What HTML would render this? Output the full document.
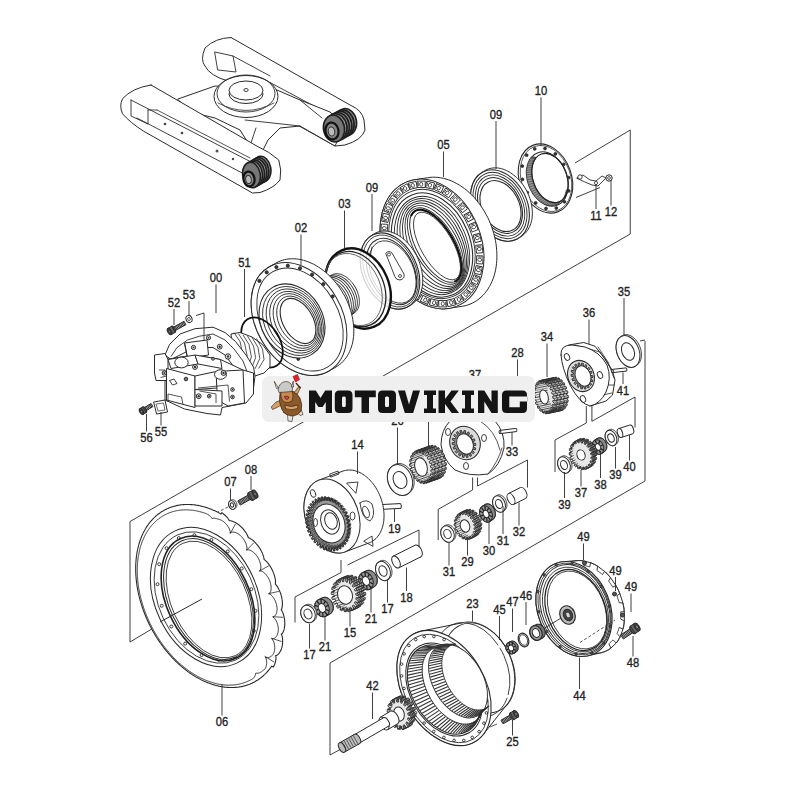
<!DOCTYPE html>
<html><head><meta charset="utf-8"><style>
html,body{margin:0;padding:0;background:#fff;}
body{width:800px;height:800px;overflow:hidden;position:relative;}
svg{position:absolute;left:0;top:0;}
text{font-family:"Liberation Sans",sans-serif;fill:#222;stroke:#222;stroke-width:0.35px;}
.ban{position:absolute;left:262px;top:376px;width:273px;height:45.5px;border-radius:7px;background:#efefef;}
.bt{position:absolute;left:308px;top:381px;font-family:"Liberation Sans",sans-serif;font-weight:bold;font-size:31.5px;line-height:36px;color:#000;letter-spacing:1.2px;-webkit-text-stroke:1.6px #000;white-space:nowrap;}
</style></head><body>
<svg width="800" height="800" viewBox="0 0 800 800">
<line x1="630.25" y1="234" x2="130" y2="521.5" stroke="#2a2a2a" stroke-width="0.9"/>
<line x1="130" y1="521.5" x2="130" y2="642" stroke="#2a2a2a" stroke-width="0.9"/>
<line x1="130" y1="642" x2="202" y2="599" stroke="#2a2a2a" stroke-width="0.9"/>
<line x1="575" y1="163" x2="630.25" y2="130" stroke="#2a2a2a" stroke-width="0.9"/>
<line x1="630.25" y1="130" x2="630.25" y2="234" stroke="#2a2a2a" stroke-width="0.9"/>
<line x1="645" y1="341" x2="645" y2="481" stroke="#2a2a2a" stroke-width="0.9"/>
<line x1="640" y1="341" x2="645" y2="340" stroke="#2a2a2a" stroke-width="0.9"/>
<line x1="645" y1="481" x2="330" y2="663" stroke="#2a2a2a" stroke-width="0.9"/>
<line x1="330" y1="663" x2="330" y2="755" stroke="#2a2a2a" stroke-width="0.9"/>
<line x1="330" y1="755" x2="341" y2="749" stroke="#2a2a2a" stroke-width="0.9"/>
<line x1="586.3" y1="406" x2="586.3" y2="423" stroke="#2a2a2a" stroke-width="0.9"/>
<line x1="586.3" y1="423" x2="555" y2="440" stroke="#2a2a2a" stroke-width="0.9"/>
<line x1="555" y1="440" x2="555" y2="472" stroke="#2a2a2a" stroke-width="0.9"/>
<line x1="591.9" y1="406" x2="591.9" y2="421.3" stroke="#2a2a2a" stroke-width="0.9"/>
<line x1="591.9" y1="421.3" x2="635" y2="397" stroke="#2a2a2a" stroke-width="0.9"/>
<line x1="635" y1="397" x2="635" y2="427.5" stroke="#2a2a2a" stroke-width="0.9"/>
<line x1="472.6" y1="477.5" x2="472.6" y2="490" stroke="#2a2a2a" stroke-width="0.9"/>
<line x1="472.6" y1="490" x2="438.2" y2="509.3" stroke="#2a2a2a" stroke-width="0.9"/>
<line x1="438.2" y1="509.3" x2="438.2" y2="540" stroke="#2a2a2a" stroke-width="0.9"/>
<line x1="477.5" y1="477.5" x2="477.5" y2="486" stroke="#2a2a2a" stroke-width="0.9"/>
<line x1="477.5" y1="486" x2="527.5" y2="460" stroke="#2a2a2a" stroke-width="0.9"/>
<line x1="527.5" y1="460" x2="527.5" y2="487.5" stroke="#2a2a2a" stroke-width="0.9"/>
<line x1="341" y1="560" x2="341" y2="572.5" stroke="#2a2a2a" stroke-width="0.9"/>
<line x1="341" y1="572.5" x2="295" y2="597" stroke="#2a2a2a" stroke-width="0.9"/>
<line x1="295" y1="597" x2="295" y2="622.5" stroke="#2a2a2a" stroke-width="0.9"/>
<line x1="347.5" y1="565" x2="419" y2="530" stroke="#2a2a2a" stroke-width="0.9"/>
<line x1="419" y1="530" x2="419" y2="550" stroke="#2a2a2a" stroke-width="0.9"/>
<line x1="576" y1="197.5" x2="600" y2="187.5" stroke="#2a2a2a" stroke-width="0.9"/>
<path d="M231,37.5 L350,105 Q362,110 364,120 L365,130 Q362,140 345,145 L335,146 L292,122 M231,37.5 Q215,38 205,48 Q200,60 205,66 Q210,76 228,81" fill="#fff" stroke="#2a2a2a" stroke-width="1" stroke-linejoin="round" stroke-linecap="round"/>
<path d="M215,52 L233,56 L236,72 L218,70 Z M233,56 L270,76" fill="none" stroke="#2a2a2a" stroke-width="0.9" stroke-linejoin="round" stroke-linecap="round"/>
<path d="M270,82.5 L329,114" fill="none" stroke="#2a2a2a" stroke-width="0.9" stroke-linejoin="round" stroke-linecap="round"/>
<path d="M178,99 L215,86 L277,90 L300,100 L330,112 L345,125 L335,146 L300,126 L280,128 L268,140 L262,152 L250,146 L240,130 L215,118 L190,112 Z" fill="#fff" stroke="#2a2a2a" stroke-width="1" stroke-linejoin="round" stroke-linecap="round"/>
<path d="M245,120 L300,126 M250,146 L256,128 M300,100 L322,118" fill="none" stroke="#2a2a2a" stroke-width="0.9" stroke-linejoin="round" stroke-linecap="round"/>
<ellipse cx="246.0" cy="96.5" rx="32.0" ry="21.0" transform="rotate(0 246.0 96.5)" fill="#fff" stroke="#2a2a2a" stroke-width="1"/>
<ellipse cx="246.0" cy="93.5" rx="29.0" ry="18.5" transform="rotate(0 246.0 93.5)" fill="none" stroke="#2a2a2a" stroke-width="0.9"/>
<path d="M218,103 Q246,118 274,103" fill="none" stroke="#2a2a2a" stroke-width="0.8" stroke-linejoin="round" stroke-linecap="round"/>
<ellipse cx="246.0" cy="94.0" rx="17.0" ry="9.5" transform="rotate(0 246.0 94.0)" fill="#fff" stroke="#2a2a2a" stroke-width="1"/>
<ellipse cx="246.0" cy="90.5" rx="17.0" ry="9.5" transform="rotate(0 246.0 90.5)" fill="#fff" stroke="#2a2a2a" stroke-width="1"/>
<ellipse cx="246" cy="90" rx="2.2" ry="1.5" fill="none" stroke="#2a2a2a" stroke-width="0.9"/>
<ellipse cx="346.0" cy="122.0" rx="10.5" ry="13.5" transform="rotate(-10 346.0 122.0)" fill="#999" stroke="#1e1e1e" stroke-width="1.6"/>
<ellipse cx="343.6" cy="123.3" rx="10.5" ry="13.5" transform="rotate(-10 343.6 123.3)" fill="#777" stroke="#1e1e1e" stroke-width="1.6"/>
<ellipse cx="341.2" cy="124.6" rx="10.5" ry="13.5" transform="rotate(-10 341.2 124.6)" fill="#999" stroke="#1e1e1e" stroke-width="1.6"/>
<ellipse cx="338.8" cy="125.9" rx="10.5" ry="13.5" transform="rotate(-10 338.8 125.9)" fill="#777" stroke="#1e1e1e" stroke-width="1.6"/>
<ellipse cx="336.4" cy="127.2" rx="10.5" ry="13.5" transform="rotate(-10 336.4 127.2)" fill="#999" stroke="#1e1e1e" stroke-width="1.6"/>
<ellipse cx="334.0" cy="128.5" rx="10.5" ry="13.5" transform="rotate(-10 334.0 128.5)" fill="#777" stroke="#1e1e1e" stroke-width="1.6"/>
<ellipse cx="332.0" cy="131.0" rx="6.5" ry="8.5" transform="rotate(-10 332.0 131.0)" fill="#888" stroke="#111" stroke-width="2.2"/>
<ellipse cx="331.5" cy="131.5" rx="3.2" ry="4.5" transform="rotate(-10 331.5 131.5)" fill="#bbb" stroke="#333" stroke-width="1"/>
<path d="M151,85 L256,145.6 Q270,152 278.75,160 Q282,170 280,180 Q274,188 260,192.5 L252.5,193 L143.75,131.25 Q130,122.5 122.5,113.75 Q119,106 122.5,98.75 Q132,88 151,85 Z" fill="#fff" stroke="#2a2a2a" stroke-width="1" stroke-linejoin="round" stroke-linecap="round"/>
<path d="M131,100 L253,163 M137,118 L248,176 M131,100 L131,116 L148,124 L148,110" fill="none" stroke="#2a2a2a" stroke-width="0.9" stroke-linejoin="round" stroke-linecap="round"/>
<path d="M148,110 L157,110 M157,110 L250,158" fill="none" stroke="#2a2a2a" stroke-width="0.8" stroke-linejoin="round" stroke-linecap="round"/>
<circle cx="165" cy="124" r="1.3" fill="#444"/><circle cx="182" cy="133" r="1.3" fill="#444"/><circle cx="217" cy="151" r="1.5" fill="#555"/><circle cx="233" cy="159" r="1.2" fill="#444"/>
<ellipse cx="262.0" cy="169.0" rx="8.8" ry="12.8" transform="rotate(-10 262.0 169.0)" fill="#999" stroke="#1e1e1e" stroke-width="1.6"/>
<ellipse cx="259.9" cy="170.2" rx="8.8" ry="12.8" transform="rotate(-10 259.9 170.2)" fill="#777" stroke="#1e1e1e" stroke-width="1.6"/>
<ellipse cx="257.8" cy="171.4" rx="8.8" ry="12.8" transform="rotate(-10 257.8 171.4)" fill="#999" stroke="#1e1e1e" stroke-width="1.6"/>
<ellipse cx="255.7" cy="172.6" rx="8.8" ry="12.8" transform="rotate(-10 255.7 172.6)" fill="#777" stroke="#1e1e1e" stroke-width="1.6"/>
<ellipse cx="253.6" cy="173.8" rx="8.8" ry="12.8" transform="rotate(-10 253.6 173.8)" fill="#999" stroke="#1e1e1e" stroke-width="1.6"/>
<ellipse cx="251.5" cy="175.0" rx="8.8" ry="12.8" transform="rotate(-10 251.5 175.0)" fill="#777" stroke="#1e1e1e" stroke-width="1.6"/>
<ellipse cx="249.0" cy="179.0" rx="5.5" ry="7.5" transform="rotate(-10 249.0 179.0)" fill="#888" stroke="#111" stroke-width="2.2"/>
<ellipse cx="248.5" cy="179.5" rx="2.8" ry="4.0" transform="rotate(-10 248.5 179.5)" fill="#bbb" stroke="#333" stroke-width="1"/>
<ellipse cx="545.5" cy="178.5" rx="26.0" ry="35.5" transform="rotate(-20 545.5 178.5)" fill="#fff" stroke="#2a2a2a" stroke-width="1.1"/>
<ellipse cx="546.0" cy="178.5" rx="24.5" ry="34.0" transform="rotate(-20 546.0 178.5)" fill="none" stroke="#2a2a2a" stroke-width="0.7"/>
<ellipse cx="547.5" cy="179.0" rx="19.5" ry="28.0" transform="rotate(-20 547.5 179.0)" fill="#fff" stroke="#2a2a2a" stroke-width="1"/>
<polygon points="566.2,190.6 566.0,191.7 565.7,192.8 565.5,193.8 565.1,194.8 564.7,195.8 564.3,196.7 563.9,197.6 563.4,198.5 562.9,199.3 562.3,200.0 561.7,200.8 561.1,201.4 560.4,202.1 559.7,202.7 559.0,203.2 558.3,203.7 557.5,204.1 556.8,204.5 555.9,204.8 555.1,205.1 554.3,205.3 553.4,205.5 552.5,205.6 551.6,205.6 550.7,205.6 549.8,205.6 548.9,205.5 548.0,205.3 547.1,205.1 546.2,204.8 545.2,204.4 544.3,204.1 543.4,203.6 542.5,203.1 541.6,202.6 540.7,202.0 539.8,201.3 539.0,200.7 538.1,199.9 537.3,199.1 536.5,198.3 535.7,197.5 534.9,196.6 534.2,195.6 533.4,194.7 532.7,193.7 532.1,192.6 531.5,191.6 530.9,190.5 530.3,189.4 529.8,188.2 529.3,187.1 528.8,185.9 528.4,184.7 528.0,183.5 527.6,182.3 527.3,181.1 527.1,179.9 526.8,178.6 526.6,177.4 526.5,176.2 526.4,175.0 526.3,173.8 526.3,172.6 526.3,171.4 526.4,170.3 526.5,169.1 526.7,168.0 526.9,166.9 527.1,165.8 527.4,164.8 527.7,163.8 528.0,162.8 528.4,161.8 528.9,160.9 529.3,160.0 529.8,159.2 530.4,158.4 530.9,157.6 531.6,156.9 536.3,157.5 535.8,158.1 535.3,158.8 534.8,159.5 534.4,160.3 534.0,161.1 533.6,161.9 533.2,162.8 532.9,163.7 532.7,164.7 532.4,165.6 532.2,166.6 532.1,167.6 531.9,168.7 531.9,169.7 531.8,170.8 531.8,171.9 531.8,173.0 531.9,174.1 532.0,175.2 532.1,176.3 532.3,177.5 532.5,178.6 532.8,179.7 533.1,180.9 533.4,182.0 533.8,183.1 534.2,184.2 534.6,185.3 535.0,186.3 535.5,187.4 536.1,188.4 536.6,189.4 537.2,190.4 537.8,191.4 538.4,192.3 539.1,193.2 539.8,194.1 540.5,194.9 541.2,195.7 541.9,196.5 542.7,197.2 543.4,197.9 544.2,198.6 545.0,199.2 545.8,199.7 546.6,200.2 547.5,200.7 548.3,201.1 549.1,201.5 550.0,201.8 550.8,202.1 551.6,202.3 552.5,202.5 553.3,202.6 554.1,202.6 554.9,202.7 555.7,202.6 556.5,202.5 557.3,202.4 558.0,202.2 558.8,201.9 559.5,201.7 560.2,201.3 560.9,200.9 561.5,200.5 562.2,200.0 562.8,199.5 563.3,198.9 563.9,198.3 564.4,197.6 564.9,196.9 565.4,196.1 565.8,195.4 566.2,194.5 566.6,193.7 566.9,192.8 567.2,191.9 567.4,190.9 567.7,189.9 567.8,188.9" fill="#9a9a9a" stroke="#2a2a2a" stroke-width="0.8" stroke-linejoin="round"/>
<line x1="566.2" y1="190.6" x2="567.8" y2="188.9" stroke="#444" stroke-width="0.7"/>
<line x1="565.7" y1="192.8" x2="567.4" y2="190.9" stroke="#444" stroke-width="0.7"/>
<line x1="565.1" y1="194.8" x2="566.9" y2="192.8" stroke="#444" stroke-width="0.7"/>
<line x1="564.3" y1="196.7" x2="566.2" y2="194.5" stroke="#444" stroke-width="0.7"/>
<line x1="563.4" y1="198.5" x2="565.4" y2="196.1" stroke="#444" stroke-width="0.7"/>
<line x1="562.3" y1="200.0" x2="564.4" y2="197.6" stroke="#444" stroke-width="0.7"/>
<line x1="561.1" y1="201.4" x2="563.3" y2="198.9" stroke="#444" stroke-width="0.7"/>
<line x1="559.7" y1="202.7" x2="562.2" y2="200.0" stroke="#444" stroke-width="0.7"/>
<line x1="558.3" y1="203.7" x2="560.9" y2="200.9" stroke="#444" stroke-width="0.7"/>
<line x1="556.8" y1="204.5" x2="559.5" y2="201.7" stroke="#444" stroke-width="0.7"/>
<line x1="555.1" y1="205.1" x2="558.0" y2="202.2" stroke="#444" stroke-width="0.7"/>
<line x1="553.4" y1="205.5" x2="556.5" y2="202.5" stroke="#444" stroke-width="0.7"/>
<line x1="551.6" y1="205.6" x2="554.9" y2="202.7" stroke="#444" stroke-width="0.7"/>
<line x1="549.8" y1="205.6" x2="553.3" y2="202.6" stroke="#444" stroke-width="0.7"/>
<line x1="548.0" y1="205.3" x2="551.6" y2="202.3" stroke="#444" stroke-width="0.7"/>
<line x1="546.2" y1="204.8" x2="550.0" y2="201.8" stroke="#444" stroke-width="0.7"/>
<line x1="544.3" y1="204.1" x2="548.3" y2="201.1" stroke="#444" stroke-width="0.7"/>
<line x1="542.5" y1="203.1" x2="546.6" y2="200.2" stroke="#444" stroke-width="0.7"/>
<line x1="540.7" y1="202.0" x2="545.0" y2="199.2" stroke="#444" stroke-width="0.7"/>
<line x1="539.0" y1="200.7" x2="543.4" y2="197.9" stroke="#444" stroke-width="0.7"/>
<line x1="537.3" y1="199.1" x2="541.9" y2="196.5" stroke="#444" stroke-width="0.7"/>
<line x1="535.7" y1="197.5" x2="540.5" y2="194.9" stroke="#444" stroke-width="0.7"/>
<line x1="534.2" y1="195.6" x2="539.1" y2="193.2" stroke="#444" stroke-width="0.7"/>
<line x1="532.7" y1="193.7" x2="537.8" y2="191.4" stroke="#444" stroke-width="0.7"/>
<line x1="531.5" y1="191.6" x2="536.6" y2="189.4" stroke="#444" stroke-width="0.7"/>
<line x1="530.3" y1="189.4" x2="535.5" y2="187.4" stroke="#444" stroke-width="0.7"/>
<line x1="529.3" y1="187.1" x2="534.6" y2="185.3" stroke="#444" stroke-width="0.7"/>
<line x1="528.4" y1="184.7" x2="533.8" y2="183.1" stroke="#444" stroke-width="0.7"/>
<line x1="527.6" y1="182.3" x2="533.1" y2="180.9" stroke="#444" stroke-width="0.7"/>
<line x1="527.1" y1="179.9" x2="532.5" y2="178.6" stroke="#444" stroke-width="0.7"/>
<line x1="526.6" y1="177.4" x2="532.1" y2="176.3" stroke="#444" stroke-width="0.7"/>
<line x1="526.4" y1="175.0" x2="531.9" y2="174.1" stroke="#444" stroke-width="0.7"/>
<line x1="526.3" y1="172.6" x2="531.8" y2="171.9" stroke="#444" stroke-width="0.7"/>
<line x1="526.4" y1="170.3" x2="531.9" y2="169.7" stroke="#444" stroke-width="0.7"/>
<line x1="526.7" y1="168.0" x2="532.1" y2="167.6" stroke="#444" stroke-width="0.7"/>
<line x1="527.1" y1="165.8" x2="532.4" y2="165.6" stroke="#444" stroke-width="0.7"/>
<line x1="527.7" y1="163.8" x2="532.9" y2="163.7" stroke="#444" stroke-width="0.7"/>
<line x1="528.4" y1="161.8" x2="533.6" y2="161.9" stroke="#444" stroke-width="0.7"/>
<line x1="529.3" y1="160.0" x2="534.4" y2="160.3" stroke="#444" stroke-width="0.7"/>
<line x1="530.4" y1="158.4" x2="535.3" y2="158.8" stroke="#444" stroke-width="0.7"/>
<line x1="531.6" y1="156.9" x2="536.3" y2="157.5" stroke="#444" stroke-width="0.7"/>
<ellipse cx="550.0" cy="178.0" rx="17.0" ry="25.5" transform="rotate(-20 550.0 178.0)" fill="none" stroke="#222" stroke-width="1.2"/>
<circle cx="568.5" cy="177.6" r="1.4" fill="#333" stroke="#2a2a2a" stroke-width="0.9"/>
<circle cx="568.7" cy="190.9" r="1.4" fill="#333" stroke="#2a2a2a" stroke-width="0.9"/>
<circle cx="564.4" cy="201.8" r="1.4" fill="#333" stroke="#2a2a2a" stroke-width="0.9"/>
<circle cx="556.3" cy="208.1" r="1.4" fill="#333" stroke="#2a2a2a" stroke-width="0.9"/>
<circle cx="546.0" cy="208.5" r="1.4" fill="#333" stroke="#2a2a2a" stroke-width="0.9"/>
<circle cx="535.7" cy="203.0" r="1.4" fill="#333" stroke="#2a2a2a" stroke-width="0.9"/>
<circle cx="527.3" cy="192.6" r="1.4" fill="#333" stroke="#2a2a2a" stroke-width="0.9"/>
<circle cx="522.5" cy="179.4" r="1.4" fill="#333" stroke="#2a2a2a" stroke-width="0.9"/>
<circle cx="522.3" cy="166.1" r="1.4" fill="#333" stroke="#2a2a2a" stroke-width="0.9"/>
<circle cx="526.6" cy="155.2" r="1.4" fill="#333" stroke="#2a2a2a" stroke-width="0.9"/>
<circle cx="534.7" cy="148.9" r="1.4" fill="#333" stroke="#2a2a2a" stroke-width="0.9"/>
<circle cx="545.0" cy="148.5" r="1.4" fill="#333" stroke="#2a2a2a" stroke-width="0.9"/>
<circle cx="555.3" cy="154.0" r="1.4" fill="#333" stroke="#2a2a2a" stroke-width="0.9"/>
<circle cx="563.7" cy="164.4" r="1.4" fill="#333" stroke="#2a2a2a" stroke-width="0.9"/>
<path d="M577,178 L583,175 L590,180 L596,181 L602,176 L606,178 L598,186 L592,185 L585,182 Z" fill="#fff" stroke="#2a2a2a" stroke-width="0.9" stroke-linejoin="round" stroke-linecap="round"/>
<circle cx="580" cy="177" r="2.2" fill="#fff" stroke="#2a2a2a" stroke-width="0.9"/><circle cx="596" cy="183" r="1.6" fill="#fff" stroke="#2a2a2a" stroke-width="0.8"/>
<circle cx="609" cy="178" r="3.2" fill="#fff" stroke="#2a2a2a" stroke-width="1"/><circle cx="609" cy="178" r="1.4" fill="none" stroke="#2a2a2a" stroke-width="0.8"/>
<polygon points="470.6,195.7 470.7,193.9 470.8,192.1 471.0,190.4 471.3,188.7 471.7,187.1 472.1,185.6 472.7,184.0 473.3,182.6 473.9,181.2 474.7,179.8 475.5,178.6 476.4,177.4 477.3,176.3 478.3,175.3 479.4,174.3 480.5,173.4 483.5,171.4 484.7,170.7 485.9,170.0 487.2,169.4 488.5,168.9 489.9,168.5 491.3,168.2 492.7,168.0 494.1,167.9 495.6,167.9 497.1,167.9 498.6,168.1 500.2,168.4 501.7,168.8 503.2,169.2 504.8,169.8 506.3,170.5 507.8,171.2 509.3,172.0 510.8,173.0 512.3,174.0 513.7,175.1 515.1,176.2 516.5,177.4 517.9,178.8 519.2,180.1 520.4,181.6 521.6,183.1 522.8,184.6 523.9,186.2 525.0,187.9 526.0,189.6 526.9,191.3 527.7,193.1 528.5,194.9 529.3,196.7 529.9,198.6 530.5,200.4 531.0,202.3 531.4,204.2 531.8,206.0 532.0,207.9 532.2,209.7 532.3,211.5 532.4,213.3 532.3,215.1 532.2,216.9 532.0,218.6 531.7,220.3 531.3,221.9 530.9,223.4 530.3,225.0 529.7,226.4 529.0,227.8 528.3,229.2 527.5,230.4 526.6,231.6 525.7,232.7 524.7,233.7 523.6,234.7 522.5,235.6 519.5,237.6 518.3,238.3 517.1,239.0 515.8,239.6 514.5,240.1 513.1,240.5 511.7,240.8 510.3,241.0 508.9,241.1 507.4,241.1 505.9,241.1 504.4,240.9 502.8,240.6 501.3,240.2 499.8,239.8 498.2,239.2 496.7,238.5 495.2,237.8 493.7,237.0 492.2,236.0 490.7,235.0 489.3,233.9 487.9,232.8 486.5,231.6 485.1,230.2 483.8,228.9 482.6,227.4 481.4,225.9 480.2,224.4 479.1,222.8 478.0,221.1 477.1,219.4 476.1,217.7 475.3,215.9 474.5,214.1 473.7,212.3 473.1,210.4 472.5,208.6 472.0,206.7 471.6,204.8 471.2,203.0 471.0,201.1 470.8,199.3 470.7,197.5" fill="#fff" stroke="#2a2a2a" stroke-width="1" stroke-linejoin="round"/>
<ellipse cx="500.0" cy="205.5" rx="26.8" ry="37.6" transform="rotate(-27 500.0 205.5)" fill="#fff" stroke="#2a2a2a" stroke-width="1.1"/>
<ellipse cx="500.0" cy="205.5" rx="24.5" ry="35.0" transform="rotate(-27 500.0 205.5)" fill="none" stroke="#2a2a2a" stroke-width="0.9"/>
<ellipse cx="500.0" cy="205.5" rx="22.3" ry="32.3" transform="rotate(-27 500.0 205.5)" fill="none" stroke="#2a2a2a" stroke-width="0.9"/>
<ellipse cx="500.0" cy="205.5" rx="20.2" ry="29.6" transform="rotate(-27 500.0 205.5)" fill="none" stroke="#2a2a2a" stroke-width="1.1"/>
<ellipse cx="500.5" cy="206.0" rx="18.5" ry="27.0" transform="rotate(-27 500.5 206.0)" fill="#fff" stroke="#2a2a2a" stroke-width="1.1"/>
<polygon points="380.1,228.8 380.2,225.6 380.5,222.3 380.9,219.2 381.4,216.1 382.1,213.1 382.9,210.1 383.9,207.3 385.0,204.5 386.2,201.9 387.6,199.4 389.0,197.0 390.6,194.7 392.3,192.6 394.1,190.6 396.0,188.8 398.0,187.1 400.1,185.5 402.3,184.1 404.6,182.9 406.9,181.9 409.3,181.0 411.8,180.3 414.3,179.8 427.3,177.8 429.9,177.4 432.5,177.2 435.2,177.2 437.9,177.4 440.6,177.8 443.3,178.3 446.0,179.0 448.7,179.9 451.4,180.9 454.1,182.2 456.8,183.6 459.4,185.1 462.0,186.8 464.5,188.6 467.0,190.6 469.4,192.8 471.8,195.0 474.1,197.4 476.3,200.0 478.4,202.6 480.4,205.3 482.4,208.2 484.2,211.1 485.9,214.2 487.6,217.2 489.1,220.4 490.4,223.6 491.7,226.9 492.8,230.2 493.8,233.6 494.7,237.0 495.4,240.3 496.0,243.7 496.4,247.1 496.7,250.5 496.9,253.8 496.9,257.2 496.8,260.4 496.5,263.7 496.1,266.8 495.6,269.9 494.9,272.9 494.1,275.9 493.1,278.7 492.0,281.5 490.8,284.1 489.4,286.6 488.0,289.0 486.4,291.3 484.7,293.4 482.9,295.4 481.0,297.2 479.0,298.9 476.9,300.5 474.7,301.9 472.4,303.1 470.1,304.1 467.7,305.0 465.2,305.7 462.7,306.2 449.7,308.2 447.1,308.6 444.5,308.8 441.8,308.8 439.1,308.6 436.4,308.2 433.7,307.7 431.0,307.0 428.3,306.1 425.6,305.1 422.9,303.8 420.2,302.4 417.6,300.9 415.0,299.2 412.5,297.4 410.0,295.4 407.6,293.2 405.2,291.0 402.9,288.6 400.7,286.0 398.6,283.4 396.6,280.6 394.6,277.8 392.8,274.9 391.1,271.9 389.4,268.8 387.9,265.6 386.6,262.4 385.3,259.1 384.2,255.8 383.2,252.4 382.3,249.0 381.6,245.7 381.0,242.3 380.6,238.9 380.3,235.5 380.1,232.2" fill="#fff" stroke="#2a2a2a" stroke-width="1" stroke-linejoin="round"/>
<ellipse cx="432.0" cy="244.0" rx="49.0" ry="67.0" transform="rotate(-22 432.0 244.0)" fill="#fff" stroke="#2a2a2a" stroke-width="1"/>
<ellipse cx="432.0" cy="244.0" rx="40.5" ry="56.5" transform="rotate(-22 432.0 244.0)" fill="none" stroke="#2a2a2a" stroke-width="0.9"/>
<rect x="469.7" y="223.9" width="8" height="6.4" transform="rotate(68 473.7 227.1)" fill="#fff" stroke="#2a2a2a" stroke-width="0.9"/>
<ellipse cx="473.7" cy="227.1" rx="1.6" ry="2" transform="rotate(68 473.7 227.1)" fill="none" stroke="#2a2a2a" stroke-width="0.8"/>
<line x1="470.9" y1="225.1" x2="470.9" y2="229.1" transform="rotate(68 473.7 227.1)" stroke="#2a2a2a" stroke-width="0.8"/>
<rect x="473.3" y="234.8" width="8" height="6.4" transform="rotate(76 477.3 238.0)" fill="#fff" stroke="#2a2a2a" stroke-width="0.9"/>
<ellipse cx="477.3" cy="238.0" rx="1.6" ry="2" transform="rotate(76 477.3 238.0)" fill="none" stroke="#2a2a2a" stroke-width="0.8"/>
<line x1="474.5" y1="236.0" x2="474.5" y2="240.0" transform="rotate(76 477.3 238.0)" stroke="#2a2a2a" stroke-width="0.8"/>
<rect x="475.3" y="245.8" width="8" height="6.4" transform="rotate(84 479.3 249.0)" fill="#fff" stroke="#2a2a2a" stroke-width="0.9"/>
<ellipse cx="479.3" cy="249.0" rx="1.6" ry="2" transform="rotate(84 479.3 249.0)" fill="none" stroke="#2a2a2a" stroke-width="0.8"/>
<line x1="476.5" y1="247.0" x2="476.5" y2="251.0" transform="rotate(84 479.3 249.0)" stroke="#2a2a2a" stroke-width="0.8"/>
<rect x="475.7" y="256.6" width="8" height="6.4" transform="rotate(93 479.7 259.8)" fill="#fff" stroke="#2a2a2a" stroke-width="0.9"/>
<ellipse cx="479.7" cy="259.8" rx="1.6" ry="2" transform="rotate(93 479.7 259.8)" fill="none" stroke="#2a2a2a" stroke-width="0.8"/>
<line x1="476.9" y1="257.8" x2="476.9" y2="261.8" transform="rotate(93 479.7 259.8)" stroke="#2a2a2a" stroke-width="0.8"/>
<rect x="474.4" y="266.9" width="8" height="6.4" transform="rotate(102 478.4 270.1)" fill="#fff" stroke="#2a2a2a" stroke-width="0.9"/>
<ellipse cx="478.4" cy="270.1" rx="1.6" ry="2" transform="rotate(102 478.4 270.1)" fill="none" stroke="#2a2a2a" stroke-width="0.8"/>
<line x1="475.6" y1="268.1" x2="475.6" y2="272.1" transform="rotate(102 478.4 270.1)" stroke="#2a2a2a" stroke-width="0.8"/>
<rect x="471.6" y="276.4" width="8" height="6.4" transform="rotate(112 475.6 279.6)" fill="#fff" stroke="#2a2a2a" stroke-width="0.9"/>
<ellipse cx="475.6" cy="279.6" rx="1.6" ry="2" transform="rotate(112 475.6 279.6)" fill="none" stroke="#2a2a2a" stroke-width="0.8"/>
<line x1="472.8" y1="277.6" x2="472.8" y2="281.6" transform="rotate(112 475.6 279.6)" stroke="#2a2a2a" stroke-width="0.8"/>
<rect x="467.3" y="284.6" width="8" height="6.4" transform="rotate(124 471.3 287.8)" fill="#fff" stroke="#2a2a2a" stroke-width="0.9"/>
<ellipse cx="471.3" cy="287.8" rx="1.6" ry="2" transform="rotate(124 471.3 287.8)" fill="none" stroke="#2a2a2a" stroke-width="0.8"/>
<line x1="468.5" y1="285.8" x2="468.5" y2="289.8" transform="rotate(124 471.3 287.8)" stroke="#2a2a2a" stroke-width="0.8"/>
<rect x="461.7" y="291.3" width="8" height="6.4" transform="rotate(137 465.7 294.5)" fill="#fff" stroke="#2a2a2a" stroke-width="0.9"/>
<ellipse cx="465.7" cy="294.5" rx="1.6" ry="2" transform="rotate(137 465.7 294.5)" fill="none" stroke="#2a2a2a" stroke-width="0.8"/>
<line x1="462.9" y1="292.5" x2="462.9" y2="296.5" transform="rotate(137 465.7 294.5)" stroke="#2a2a2a" stroke-width="0.8"/>
<rect x="454.9" y="296.3" width="8" height="6.4" transform="rotate(151 458.9 299.5)" fill="#fff" stroke="#2a2a2a" stroke-width="0.9"/>
<ellipse cx="458.9" cy="299.5" rx="1.6" ry="2" transform="rotate(151 458.9 299.5)" fill="none" stroke="#2a2a2a" stroke-width="0.8"/>
<line x1="456.1" y1="297.5" x2="456.1" y2="301.5" transform="rotate(151 458.9 299.5)" stroke="#2a2a2a" stroke-width="0.8"/>
<rect x="447.2" y="299.4" width="8" height="6.4" transform="rotate(166 451.2 302.6)" fill="#fff" stroke="#2a2a2a" stroke-width="0.9"/>
<ellipse cx="451.2" cy="302.6" rx="1.6" ry="2" transform="rotate(166 451.2 302.6)" fill="none" stroke="#2a2a2a" stroke-width="0.8"/>
<line x1="448.4" y1="300.6" x2="448.4" y2="304.6" transform="rotate(166 451.2 302.6)" stroke="#2a2a2a" stroke-width="0.8"/>
<rect x="438.8" y="300.5" width="8" height="6.4" transform="rotate(180 442.8 303.7)" fill="#fff" stroke="#2a2a2a" stroke-width="0.9"/>
<ellipse cx="442.8" cy="303.7" rx="1.6" ry="2" transform="rotate(180 442.8 303.7)" fill="none" stroke="#2a2a2a" stroke-width="0.8"/>
<line x1="440.0" y1="301.7" x2="440.0" y2="305.7" transform="rotate(180 442.8 303.7)" stroke="#2a2a2a" stroke-width="0.8"/>
<rect x="430.1" y="299.6" width="8" height="6.4" transform="rotate(-167 434.1 302.8)" fill="#fff" stroke="#2a2a2a" stroke-width="0.9"/>
<ellipse cx="434.1" cy="302.8" rx="1.6" ry="2" transform="rotate(-167 434.1 302.8)" fill="none" stroke="#2a2a2a" stroke-width="0.8"/>
<line x1="431.3" y1="300.8" x2="431.3" y2="304.8" transform="rotate(-167 434.1 302.8)" stroke="#2a2a2a" stroke-width="0.8"/>
<rect x="421.3" y="296.7" width="8" height="6.4" transform="rotate(-156 425.3 299.9)" fill="#fff" stroke="#2a2a2a" stroke-width="0.9"/>
<ellipse cx="425.3" cy="299.9" rx="1.6" ry="2" transform="rotate(-156 425.3 299.9)" fill="none" stroke="#2a2a2a" stroke-width="0.8"/>
<line x1="422.5" y1="297.9" x2="422.5" y2="301.9" transform="rotate(-156 425.3 299.9)" stroke="#2a2a2a" stroke-width="0.8"/>
<rect x="412.8" y="291.9" width="8" height="6.4" transform="rotate(-145 416.8 295.1)" fill="#fff" stroke="#2a2a2a" stroke-width="0.9"/>
<ellipse cx="416.8" cy="295.1" rx="1.6" ry="2" transform="rotate(-145 416.8 295.1)" fill="none" stroke="#2a2a2a" stroke-width="0.8"/>
<line x1="414.0" y1="293.1" x2="414.0" y2="297.1" transform="rotate(-145 416.8 295.1)" stroke="#2a2a2a" stroke-width="0.8"/>
<rect x="404.7" y="285.3" width="8" height="6.4" transform="rotate(-136 408.7 288.5)" fill="#fff" stroke="#2a2a2a" stroke-width="0.9"/>
<ellipse cx="408.7" cy="288.5" rx="1.6" ry="2" transform="rotate(-136 408.7 288.5)" fill="none" stroke="#2a2a2a" stroke-width="0.8"/>
<line x1="405.9" y1="286.5" x2="405.9" y2="290.5" transform="rotate(-136 408.7 288.5)" stroke="#2a2a2a" stroke-width="0.8"/>
<rect x="397.5" y="277.2" width="8" height="6.4" transform="rotate(-128 401.5 280.4)" fill="#fff" stroke="#2a2a2a" stroke-width="0.9"/>
<ellipse cx="401.5" cy="280.4" rx="1.6" ry="2" transform="rotate(-128 401.5 280.4)" fill="none" stroke="#2a2a2a" stroke-width="0.8"/>
<line x1="398.7" y1="278.4" x2="398.7" y2="282.4" transform="rotate(-128 401.5 280.4)" stroke="#2a2a2a" stroke-width="0.8"/>
<rect x="391.2" y="267.9" width="8" height="6.4" transform="rotate(-120 395.2 271.1)" fill="#fff" stroke="#2a2a2a" stroke-width="0.9"/>
<ellipse cx="395.2" cy="271.1" rx="1.6" ry="2" transform="rotate(-120 395.2 271.1)" fill="none" stroke="#2a2a2a" stroke-width="0.8"/>
<line x1="392.4" y1="269.1" x2="392.4" y2="273.1" transform="rotate(-120 395.2 271.1)" stroke="#2a2a2a" stroke-width="0.8"/>
<rect x="386.3" y="257.7" width="8" height="6.4" transform="rotate(-112 390.3 260.9)" fill="#fff" stroke="#2a2a2a" stroke-width="0.9"/>
<ellipse cx="390.3" cy="260.9" rx="1.6" ry="2" transform="rotate(-112 390.3 260.9)" fill="none" stroke="#2a2a2a" stroke-width="0.8"/>
<line x1="387.5" y1="258.9" x2="387.5" y2="262.9" transform="rotate(-112 390.3 260.9)" stroke="#2a2a2a" stroke-width="0.8"/>
<rect x="382.7" y="246.8" width="8" height="6.4" transform="rotate(-104 386.7 250.0)" fill="#fff" stroke="#2a2a2a" stroke-width="0.9"/>
<ellipse cx="386.7" cy="250.0" rx="1.6" ry="2" transform="rotate(-104 386.7 250.0)" fill="none" stroke="#2a2a2a" stroke-width="0.8"/>
<line x1="383.9" y1="248.0" x2="383.9" y2="252.0" transform="rotate(-104 386.7 250.0)" stroke="#2a2a2a" stroke-width="0.8"/>
<rect x="380.7" y="235.8" width="8" height="6.4" transform="rotate(-96 384.7 239.0)" fill="#fff" stroke="#2a2a2a" stroke-width="0.9"/>
<ellipse cx="384.7" cy="239.0" rx="1.6" ry="2" transform="rotate(-96 384.7 239.0)" fill="none" stroke="#2a2a2a" stroke-width="0.8"/>
<line x1="381.9" y1="237.0" x2="381.9" y2="241.0" transform="rotate(-96 384.7 239.0)" stroke="#2a2a2a" stroke-width="0.8"/>
<rect x="380.3" y="225.0" width="8" height="6.4" transform="rotate(-87 384.3 228.2)" fill="#fff" stroke="#2a2a2a" stroke-width="0.9"/>
<ellipse cx="384.3" cy="228.2" rx="1.6" ry="2" transform="rotate(-87 384.3 228.2)" fill="none" stroke="#2a2a2a" stroke-width="0.8"/>
<line x1="381.5" y1="226.2" x2="381.5" y2="230.2" transform="rotate(-87 384.3 228.2)" stroke="#2a2a2a" stroke-width="0.8"/>
<rect x="381.6" y="214.7" width="8" height="6.4" transform="rotate(-78 385.6 217.9)" fill="#fff" stroke="#2a2a2a" stroke-width="0.9"/>
<ellipse cx="385.6" cy="217.9" rx="1.6" ry="2" transform="rotate(-78 385.6 217.9)" fill="none" stroke="#2a2a2a" stroke-width="0.8"/>
<line x1="382.8" y1="215.9" x2="382.8" y2="219.9" transform="rotate(-78 385.6 217.9)" stroke="#2a2a2a" stroke-width="0.8"/>
<rect x="384.4" y="205.2" width="8" height="6.4" transform="rotate(-68 388.4 208.4)" fill="#fff" stroke="#2a2a2a" stroke-width="0.9"/>
<ellipse cx="388.4" cy="208.4" rx="1.6" ry="2" transform="rotate(-68 388.4 208.4)" fill="none" stroke="#2a2a2a" stroke-width="0.8"/>
<line x1="385.6" y1="206.4" x2="385.6" y2="210.4" transform="rotate(-68 388.4 208.4)" stroke="#2a2a2a" stroke-width="0.8"/>
<rect x="388.7" y="197.0" width="8" height="6.4" transform="rotate(-56 392.7 200.2)" fill="#fff" stroke="#2a2a2a" stroke-width="0.9"/>
<ellipse cx="392.7" cy="200.2" rx="1.6" ry="2" transform="rotate(-56 392.7 200.2)" fill="none" stroke="#2a2a2a" stroke-width="0.8"/>
<line x1="389.9" y1="198.2" x2="389.9" y2="202.2" transform="rotate(-56 392.7 200.2)" stroke="#2a2a2a" stroke-width="0.8"/>
<rect x="394.3" y="190.3" width="8" height="6.4" transform="rotate(-43 398.3 193.5)" fill="#fff" stroke="#2a2a2a" stroke-width="0.9"/>
<ellipse cx="398.3" cy="193.5" rx="1.6" ry="2" transform="rotate(-43 398.3 193.5)" fill="none" stroke="#2a2a2a" stroke-width="0.8"/>
<line x1="395.5" y1="191.5" x2="395.5" y2="195.5" transform="rotate(-43 398.3 193.5)" stroke="#2a2a2a" stroke-width="0.8"/>
<rect x="401.1" y="185.3" width="8" height="6.4" transform="rotate(-29 405.1 188.5)" fill="#fff" stroke="#2a2a2a" stroke-width="0.9"/>
<ellipse cx="405.1" cy="188.5" rx="1.6" ry="2" transform="rotate(-29 405.1 188.5)" fill="none" stroke="#2a2a2a" stroke-width="0.8"/>
<line x1="402.3" y1="186.5" x2="402.3" y2="190.5" transform="rotate(-29 405.1 188.5)" stroke="#2a2a2a" stroke-width="0.8"/>
<rect x="408.8" y="182.2" width="8" height="6.4" transform="rotate(-14 412.8 185.4)" fill="#fff" stroke="#2a2a2a" stroke-width="0.9"/>
<ellipse cx="412.8" cy="185.4" rx="1.6" ry="2" transform="rotate(-14 412.8 185.4)" fill="none" stroke="#2a2a2a" stroke-width="0.8"/>
<line x1="410.0" y1="183.4" x2="410.0" y2="187.4" transform="rotate(-14 412.8 185.4)" stroke="#2a2a2a" stroke-width="0.8"/>
<rect x="417.2" y="181.1" width="8" height="6.4" transform="rotate(-0 421.2 184.3)" fill="#fff" stroke="#2a2a2a" stroke-width="0.9"/>
<ellipse cx="421.2" cy="184.3" rx="1.6" ry="2" transform="rotate(-0 421.2 184.3)" fill="none" stroke="#2a2a2a" stroke-width="0.8"/>
<line x1="418.4" y1="182.3" x2="418.4" y2="186.3" transform="rotate(-0 421.2 184.3)" stroke="#2a2a2a" stroke-width="0.8"/>
<rect x="425.9" y="182.0" width="8" height="6.4" transform="rotate(13 429.9 185.2)" fill="#fff" stroke="#2a2a2a" stroke-width="0.9"/>
<ellipse cx="429.9" cy="185.2" rx="1.6" ry="2" transform="rotate(13 429.9 185.2)" fill="none" stroke="#2a2a2a" stroke-width="0.8"/>
<line x1="427.1" y1="183.2" x2="427.1" y2="187.2" transform="rotate(13 429.9 185.2)" stroke="#2a2a2a" stroke-width="0.8"/>
<rect x="434.7" y="184.9" width="8" height="6.4" transform="rotate(24 438.7 188.1)" fill="#fff" stroke="#2a2a2a" stroke-width="0.9"/>
<ellipse cx="438.7" cy="188.1" rx="1.6" ry="2" transform="rotate(24 438.7 188.1)" fill="none" stroke="#2a2a2a" stroke-width="0.8"/>
<line x1="435.9" y1="186.1" x2="435.9" y2="190.1" transform="rotate(24 438.7 188.1)" stroke="#2a2a2a" stroke-width="0.8"/>
<rect x="443.2" y="189.7" width="8" height="6.4" transform="rotate(35 447.2 192.9)" fill="#fff" stroke="#2a2a2a" stroke-width="0.9"/>
<ellipse cx="447.2" cy="192.9" rx="1.6" ry="2" transform="rotate(35 447.2 192.9)" fill="none" stroke="#2a2a2a" stroke-width="0.8"/>
<line x1="444.4" y1="190.9" x2="444.4" y2="194.9" transform="rotate(35 447.2 192.9)" stroke="#2a2a2a" stroke-width="0.8"/>
<rect x="451.3" y="196.3" width="8" height="6.4" transform="rotate(44 455.3 199.5)" fill="#fff" stroke="#2a2a2a" stroke-width="0.9"/>
<ellipse cx="455.3" cy="199.5" rx="1.6" ry="2" transform="rotate(44 455.3 199.5)" fill="none" stroke="#2a2a2a" stroke-width="0.8"/>
<line x1="452.5" y1="197.5" x2="452.5" y2="201.5" transform="rotate(44 455.3 199.5)" stroke="#2a2a2a" stroke-width="0.8"/>
<rect x="458.5" y="204.4" width="8" height="6.4" transform="rotate(52 462.5 207.6)" fill="#fff" stroke="#2a2a2a" stroke-width="0.9"/>
<ellipse cx="462.5" cy="207.6" rx="1.6" ry="2" transform="rotate(52 462.5 207.6)" fill="none" stroke="#2a2a2a" stroke-width="0.8"/>
<line x1="459.7" y1="205.6" x2="459.7" y2="209.6" transform="rotate(52 462.5 207.6)" stroke="#2a2a2a" stroke-width="0.8"/>
<rect x="464.8" y="213.7" width="8" height="6.4" transform="rotate(60 468.8 216.9)" fill="#fff" stroke="#2a2a2a" stroke-width="0.9"/>
<ellipse cx="468.8" cy="216.9" rx="1.6" ry="2" transform="rotate(60 468.8 216.9)" fill="none" stroke="#2a2a2a" stroke-width="0.8"/>
<line x1="466.0" y1="214.9" x2="466.0" y2="218.9" transform="rotate(60 468.8 216.9)" stroke="#2a2a2a" stroke-width="0.8"/>
<ellipse cx="432.0" cy="245.0" rx="38.0" ry="54.0" transform="rotate(-22 432.0 245.0)" fill="#fff" stroke="#2a2a2a" stroke-width="1.1"/>
<ellipse cx="432.0" cy="245.5" rx="35.0" ry="51.0" transform="rotate(-22.0 432.0 245.5)" fill="none" stroke="#2a2a2a" stroke-width="0.9"/>
<ellipse cx="432.6" cy="245.6" rx="32.1" ry="49.3" transform="rotate(-23.6 432.6 245.6)" fill="none" stroke="#2a2a2a" stroke-width="0.9"/>
<ellipse cx="433.2" cy="245.7" rx="29.2" ry="47.6" transform="rotate(-25.2 433.2 245.7)" fill="none" stroke="#2a2a2a" stroke-width="0.9"/>
<ellipse cx="433.8" cy="245.8" rx="26.3" ry="45.9" transform="rotate(-26.8 433.8 245.8)" fill="none" stroke="#2a2a2a" stroke-width="0.9"/>
<ellipse cx="434.4" cy="245.9" rx="23.4" ry="44.2" transform="rotate(-28.4 434.4 245.9)" fill="none" stroke="#2a2a2a" stroke-width="0.9"/>
<ellipse cx="435.0" cy="246.0" rx="20.5" ry="42.5" transform="rotate(-30.0 435.0 246.0)" fill="none" stroke="#2a2a2a" stroke-width="0.9"/>
<ellipse cx="435.5" cy="246.0" rx="18.5" ry="40.5" transform="rotate(-30 435.5 246.0)" fill="#fff" stroke="#2a2a2a" stroke-width="1"/>
<polyline points="411.0,216.2 411.5,215.0 412.1,214.0 412.8,213.0 413.6,212.2 414.5,211.4 415.4,210.8 416.4,210.4 417.5,210.0 418.6,209.8 419.8,209.7 421.0,209.8 422.3,209.9 423.7,210.2 425.1,210.7 426.5,211.2 428.0,211.9 429.4,212.7 430.9,213.6 432.5,214.6 434.0,215.8 435.5,217.0 437.1,218.4 438.6,219.8 440.1,221.4 441.6,223.0 443.1,224.7 444.6,226.5 446.0,228.4 447.4,230.3 448.7,232.3 450.0,234.3 451.3,236.3 452.5,238.4 453.6,240.6 454.7,242.7 455.7,244.9 456.6,247.0 457.4,249.2 458.2,251.3 458.9,253.5 459.5,255.6 460.0,257.6 460.5,259.7 460.8,261.6 461.1,263.6 461.2,265.4 461.3,267.2 461.3,268.9 461.2,270.6 461.0,272.1 460.7,273.6 460.3,274.9 459.9,276.2 459.3,277.3 458.7,278.4 457.9,279.3 457.1,280.1 456.3,280.8 455.3,281.3 454.3,281.7" fill="none" stroke="#111" stroke-width="2" stroke-linejoin="round"/>
<ellipse cx="437.0" cy="246.0" rx="16.0" ry="38.0" transform="rotate(-30 437.0 246.0)" fill="none" stroke="#2a2a2a" stroke-width="0.8"/>
<polygon points="360.3,258.9 360.3,257.1 360.5,255.2 360.7,253.4 361.1,251.7 361.5,250.0 361.9,248.4 362.5,246.8 363.1,245.3 363.8,243.9 364.6,242.5 365.4,241.2 366.4,240.1 367.3,238.9 368.4,237.9 369.5,237.0 370.6,236.1 373.6,234.1 374.8,233.4 376.1,232.8 377.4,232.2 378.8,231.8 380.1,231.4 381.6,231.2 383.0,231.0 384.5,231.0 386.0,231.1 387.5,231.2 389.1,231.5 390.6,231.9 392.1,232.4 393.7,233.0 395.3,233.7 396.8,234.4 398.4,235.3 399.9,236.3 401.4,237.3 402.9,238.5 404.3,239.7 405.7,241.0 407.1,242.4 408.5,243.8 409.8,245.4 411.1,246.9 412.3,248.6 413.4,250.3 414.5,252.1 415.6,253.9 416.6,255.7 417.5,257.6 418.3,259.5 419.1,261.4 419.8,263.4 420.4,265.4 421.0,267.4 421.5,269.4 421.9,271.3 422.2,273.3 422.5,275.3 422.6,277.2 422.7,279.2 422.7,281.1 422.7,282.9 422.5,284.8 422.3,286.6 421.9,288.3 421.5,290.0 421.1,291.6 420.5,293.2 419.9,294.7 419.2,296.1 418.4,297.5 417.6,298.8 416.6,299.9 415.7,301.1 414.6,302.1 413.5,303.0 412.4,303.9 409.4,305.9 408.2,306.6 406.9,307.2 405.6,307.8 404.2,308.2 402.9,308.6 401.4,308.8 400.0,309.0 398.5,309.0 397.0,308.9 395.5,308.8 393.9,308.5 392.4,308.1 390.9,307.6 389.3,307.0 387.7,306.4 386.2,305.6 384.6,304.7 383.1,303.7 381.6,302.7 380.1,301.5 378.7,300.3 377.3,299.0 375.9,297.6 374.5,296.2 373.2,294.6 371.9,293.1 370.7,291.4 369.6,289.7 368.5,287.9 367.4,286.1 366.4,284.3 365.5,282.4 364.7,280.5 363.9,278.6 363.2,276.6 362.6,274.6 362.0,272.6 361.5,270.6 361.1,268.7 360.8,266.7 360.5,264.7 360.4,262.8 360.3,260.8" fill="#fff" stroke="#2a2a2a" stroke-width="1" stroke-linejoin="round"/>
<ellipse cx="390.0" cy="271.0" rx="27.0" ry="40.0" transform="rotate(-25 390.0 271.0)" fill="#fff" stroke="#2a2a2a" stroke-width="1.1"/>
<ellipse cx="390.5" cy="271.0" rx="25.0" ry="38.0" transform="rotate(-25 390.5 271.0)" fill="none" stroke="#2a2a2a" stroke-width="0.8"/>
<ellipse cx="391.5" cy="271.5" rx="22.5" ry="35.0" transform="rotate(-25 391.5 271.5)" fill="#fff" stroke="#2a2a2a" stroke-width="1.1"/>
<ellipse cx="392.5" cy="272.0" rx="21.0" ry="33.0" transform="rotate(-25 392.5 272.0)" fill="none" stroke="#2a2a2a" stroke-width="0.8"/>
<path d="M386,253 Q389,250 392,253 L404,274 Q405,279 400,280 Q396,280 395,277 Z" fill="#fff" stroke="#2a2a2a" stroke-width="0.9" stroke-linejoin="round" stroke-linecap="round"/>
<circle cx="389" cy="254.5" r="1.5" fill="none" stroke="#2a2a2a" stroke-width="0.8"/><circle cx="400" cy="276" r="1.5" fill="none" stroke="#2a2a2a" stroke-width="0.8"/>
<path d="M372,247 L370,258" fill="none" stroke="#2a2a2a" stroke-width="0.8" stroke-linejoin="round" stroke-linecap="round"/>
<ellipse cx="358" cy="288.5" rx="31" ry="41.5" transform="rotate(-23 358 288.5)" fill="#fff" fill-opacity="0.8" stroke="none"/>
<ellipse cx="358.0" cy="288.5" rx="31.0" ry="41.5" transform="rotate(-23 358.0 288.5)" fill="none" stroke="#111" stroke-width="2.4"/>
<ellipse cx="355.5" cy="289.0" rx="28.5" ry="39.0" transform="rotate(-23 355.5 289.0)" fill="none" stroke="#222" stroke-width="1.3"/>
<ellipse cx="353.5" cy="289.5" rx="27.0" ry="37.5" transform="rotate(-23 353.5 289.5)" fill="none" stroke="#555" stroke-width="0.8"/>
<polygon points="316.6,292.4 316.6,291.5 316.7,290.5 316.8,289.6 317.0,288.7 317.2,287.8 317.4,287.0 317.7,286.2 318.0,285.4 318.4,284.7 318.8,284.0 319.2,283.4 319.7,282.8 320.2,282.3 320.8,281.8 321.4,281.3 322.0,280.9 332.0,274.9 332.6,274.6 333.3,274.3 334.0,274.1 334.8,273.9 335.5,273.8 336.3,273.7 337.1,273.7 337.9,273.8 338.7,273.9 339.5,274.0 340.4,274.2 341.2,274.5 342.1,274.8 342.9,275.2 343.8,275.6 344.6,276.1 345.5,276.6 346.3,277.1 347.2,277.8 348.0,278.4 348.8,279.1 349.6,279.9 350.4,280.6 351.1,281.5 351.9,282.3 352.6,283.2 353.2,284.1 353.9,285.1 354.5,286.0 355.1,287.0 355.7,288.0 356.2,289.0 356.7,290.1 357.1,291.1 357.6,292.2 357.9,293.2 358.3,294.3 358.6,295.4 358.8,296.4 359.0,297.5 359.2,298.5 359.3,299.5 359.3,300.6 359.4,301.6 359.4,302.5 359.3,303.5 359.2,304.4 359.0,305.3 358.8,306.2 358.6,307.0 358.3,307.8 358.0,308.6 357.6,309.3 357.2,310.0 356.8,310.6 356.3,311.2 355.8,311.7 355.2,312.2 354.6,312.7 354.0,313.1 344.0,319.1 343.4,319.4 342.7,319.7 342.0,319.9 341.2,320.1 340.5,320.2 339.7,320.3 338.9,320.3 338.1,320.2 337.3,320.1 336.5,320.0 335.6,319.8 334.8,319.5 333.9,319.2 333.1,318.8 332.2,318.4 331.4,317.9 330.5,317.4 329.7,316.9 328.8,316.2 328.0,315.6 327.2,314.9 326.4,314.1 325.6,313.4 324.9,312.5 324.1,311.7 323.4,310.8 322.8,309.9 322.1,308.9 321.5,308.0 320.9,307.0 320.3,306.0 319.8,305.0 319.3,303.9 318.9,302.9 318.4,301.8 318.1,300.8 317.7,299.7 317.4,298.6 317.2,297.6 317.0,296.5 316.8,295.5 316.7,294.5 316.7,293.4" fill="#fff" stroke="#2a2a2a" stroke-width="1" stroke-linejoin="round"/>
<ellipse cx="333.0" cy="300.0" rx="14.0" ry="22.0" transform="rotate(-30 333.0 300.0)" fill="none" stroke="#333" stroke-width="0.9"/>
<ellipse cx="335.0" cy="298.8" rx="14.0" ry="22.0" transform="rotate(-30 335.0 298.8)" fill="none" stroke="#333" stroke-width="0.9"/>
<ellipse cx="337.0" cy="297.6" rx="14.0" ry="22.0" transform="rotate(-30 337.0 297.6)" fill="none" stroke="#333" stroke-width="0.9"/>
<ellipse cx="339.0" cy="296.4" rx="14.0" ry="22.0" transform="rotate(-30 339.0 296.4)" fill="none" stroke="#333" stroke-width="0.9"/>
<ellipse cx="341.0" cy="295.2" rx="14.0" ry="22.0" transform="rotate(-30 341.0 295.2)" fill="none" stroke="#333" stroke-width="0.9"/>
<polygon points="251.2,303.0 251.2,300.2 251.4,297.5 251.8,294.8 252.2,292.1 252.8,289.6 253.6,287.1 254.4,284.8 255.4,282.5 256.4,280.3 257.6,278.2 259.0,276.2 260.4,274.4 261.9,272.6 263.5,271.0 265.3,269.6 267.1,268.2 269.0,267.0 276.0,263.0 278.0,262.0 280.1,261.1 282.2,260.3 284.4,259.7 286.7,259.2 289.0,258.9 291.3,258.8 293.7,258.8 296.2,258.9 298.6,259.2 301.1,259.7 303.6,260.3 306.1,261.1 308.6,262.0 311.1,263.1 313.6,264.2 316.1,265.6 318.5,267.1 320.9,268.7 323.2,270.4 325.6,272.2 327.8,274.2 330.0,276.3 332.1,278.5 334.2,280.8 336.2,283.2 338.1,285.6 339.9,288.2 341.6,290.8 343.2,293.5 344.8,296.2 346.2,299.1 347.5,301.9 348.7,304.8 349.7,307.7 350.7,310.6 351.5,313.6 352.2,316.5 352.8,319.4 353.2,322.4 353.6,325.3 353.8,328.1 353.8,331.0 353.8,333.8 353.6,336.5 353.2,339.2 352.8,341.9 352.2,344.4 351.4,346.9 350.6,349.2 349.6,351.5 348.6,353.7 347.4,355.8 346.0,357.8 344.6,359.6 343.1,361.4 341.5,363.0 339.7,364.4 337.9,365.8 336.0,367.0 329.0,371.0 327.0,372.0 324.9,372.9 322.8,373.7 320.6,374.3 318.3,374.8 316.0,375.1 313.7,375.2 311.3,375.2 308.8,375.1 306.4,374.8 303.9,374.3 301.4,373.7 298.9,372.9 296.4,372.0 293.9,370.9 291.4,369.8 288.9,368.4 286.5,366.9 284.1,365.3 281.8,363.6 279.4,361.8 277.2,359.8 275.0,357.7 272.9,355.5 270.8,353.2 268.8,350.8 266.9,348.4 265.1,345.8 263.4,343.2 261.8,340.5 260.2,337.8 258.8,334.9 257.5,332.1 256.3,329.2 255.3,326.3 254.3,323.4 253.5,320.4 252.8,317.5 252.2,314.6 251.8,311.6 251.4,308.7 251.2,305.9" fill="#fff" stroke="#2a2a2a" stroke-width="1" stroke-linejoin="round"/>
<ellipse cx="299.0" cy="319.0" rx="43.0" ry="60.0" transform="rotate(-30 299.0 319.0)" fill="#fff" stroke="#2a2a2a" stroke-width="1"/>
<ellipse cx="300.0" cy="319.5" rx="38.5" ry="55.0" transform="rotate(-30 300.0 319.5)" fill="none" stroke="#2a2a2a" stroke-width="0.9"/>
<circle cx="259.4" cy="280.9" r="1.6" fill="#333" stroke="#2a2a2a" stroke-width="0.9"/>
<circle cx="266.7" cy="272.3" r="1.6" fill="#333" stroke="#2a2a2a" stroke-width="0.9"/>
<circle cx="276.4" cy="267.1" r="1.6" fill="#333" stroke="#2a2a2a" stroke-width="0.9"/>
<circle cx="287.8" cy="265.7" r="1.6" fill="#333" stroke="#2a2a2a" stroke-width="0.9"/>
<circle cx="300.0" cy="268.3" r="1.6" fill="#333" stroke="#2a2a2a" stroke-width="0.9"/>
<circle cx="312.1" cy="274.6" r="1.6" fill="#333" stroke="#2a2a2a" stroke-width="0.9"/>
<circle cx="323.3" cy="284.2" r="1.6" fill="#333" stroke="#2a2a2a" stroke-width="0.9"/>
<circle cx="332.6" cy="296.4" r="1.6" fill="#333" stroke="#2a2a2a" stroke-width="0.9"/>
<circle cx="298.3" cy="359.1" r="1.4" fill="#333" stroke="#2a2a2a" stroke-width="0.9"/>
<circle cx="290.2" cy="354.5" r="1.4" fill="#333" stroke="#2a2a2a" stroke-width="0.9"/>
<circle cx="282.5" cy="348.1" r="1.4" fill="#333" stroke="#2a2a2a" stroke-width="0.9"/>
<ellipse cx="292.0" cy="321.0" rx="30.8" ry="38.8" transform="rotate(-30 292.0 321.0)" fill="#fff" stroke="#2a2a2a" stroke-width="1.1"/>
<ellipse cx="293.0" cy="321.0" rx="28.2" ry="36.4" transform="rotate(-30 293.0 321.0)" fill="none" stroke="#2a2a2a" stroke-width="0.85"/>
<ellipse cx="294.0" cy="321.0" rx="25.5" ry="34.0" transform="rotate(-30 294.0 321.0)" fill="none" stroke="#2a2a2a" stroke-width="0.85"/>
<ellipse cx="295.0" cy="321.0" rx="22.9" ry="31.6" transform="rotate(-30 295.0 321.0)" fill="none" stroke="#2a2a2a" stroke-width="0.85"/>
<ellipse cx="296.0" cy="321.0" rx="20.3" ry="29.3" transform="rotate(-30 296.0 321.0)" fill="none" stroke="#2a2a2a" stroke-width="0.85"/>
<ellipse cx="297.0" cy="321.0" rx="17.6" ry="26.9" transform="rotate(-30 297.0 321.0)" fill="none" stroke="#2a2a2a" stroke-width="0.85"/>
<ellipse cx="298.0" cy="321.0" rx="15.0" ry="24.5" transform="rotate(-30 298.0 321.0)" fill="#fff" stroke="#2a2a2a" stroke-width="1.1"/>
<ellipse cx="262.0" cy="342.5" rx="17.5" ry="27.5" transform="rotate(-32 262.0 342.5)" fill="none" stroke="#111" stroke-width="1.8"/>
<polygon points="231.0,334.0 240.0,332.5 252.0,337.0 262.5,344.5 270.0,355.0 270.0,367.0 264.0,373.0 255.0,376.0 246.0,374.5 234.0,359.5" fill="#fff" stroke="#2a2a2a" stroke-width="1" stroke-linejoin="round"/>
<polyline points="234.0,332.5 240.0,341.5 243.0,355.0 240.0,370.0" fill="none" stroke="#2a2a2a" stroke-width="0.8" stroke-linejoin="round"/>
<polyline points="238.5,333.7 244.5,343.0 247.2,355.9 243.7,369.7" fill="none" stroke="#2a2a2a" stroke-width="0.8" stroke-linejoin="round"/>
<polyline points="243.0,334.9 249.0,344.5 251.4,356.8 247.5,369.4" fill="none" stroke="#2a2a2a" stroke-width="0.8" stroke-linejoin="round"/>
<polyline points="247.5,336.1 253.5,346.0 255.6,357.7 251.2,369.1" fill="none" stroke="#2a2a2a" stroke-width="0.8" stroke-linejoin="round"/>
<polyline points="252.0,337.3 258.0,347.5 259.8,358.6 255.0,368.8" fill="none" stroke="#2a2a2a" stroke-width="0.8" stroke-linejoin="round"/>
<polyline points="256.5,338.5 262.5,349.0 264.0,359.5 258.7,368.5" fill="none" stroke="#2a2a2a" stroke-width="0.8" stroke-linejoin="round"/>
<polygon points="165.0,355.0 169.5,344.5 180.0,334.0 195.0,328.7 213.0,327.2 225.0,332.5 235.5,341.5 246.0,355.0 253.5,367.0 255.0,376.0 253.5,388.0 246.0,394.0 240.0,380.5 234.0,367.0 225.0,355.0 213.0,347.5 195.0,347.5 180.0,355.0 171.0,359.5" fill="#fff" stroke="#2a2a2a" stroke-width="1" stroke-linejoin="round"/>
<polyline points="171.0,356.5 177.0,347.5 187.5,340.0 199.5,336.2 213.0,334.0 225.0,340.0 234.0,349.0 243.0,361.0 247.5,373.0 249.0,385.0" fill="none" stroke="#2a2a2a" stroke-width="0.9" stroke-linejoin="round"/>
<polygon points="165.0,359.5 195.0,355.0 220.5,359.5 243.0,370.0 253.5,373.0 253.5,394.0 246.0,403.0 222.0,407.5 220.5,415.0 207.0,413.5 184.5,409.0 165.0,400.0" fill="#fff" stroke="#2a2a2a" stroke-width="1" stroke-linejoin="round"/>
<polygon points="154.5,355.0 165.0,353.5 168.0,359.5 168.0,380.5 156.0,380.5 154.5,373.0" fill="#fff" stroke="#2a2a2a" stroke-width="1" stroke-linejoin="round"/>
<polyline points="159.0,370.0 165.0,370.0 166.5,376.0 160.5,377.5" fill="none" stroke="#2a2a2a" stroke-width="0.8" stroke-linejoin="round"/>
<polygon points="184.5,343.0 207.0,340.0 208.5,355.0 187.5,358.0" fill="#fff" stroke="#2a2a2a" stroke-width="1" stroke-linejoin="round"/>
<polyline points="184.5,343.0 187.5,358.0 187.5,361.0" fill="none" stroke="#2a2a2a" stroke-width="0.9" stroke-linejoin="round"/>
<polygon points="168.0,359.5 195.0,355.0 198.0,364.0 171.0,368.5" fill="#fff" stroke="#2a2a2a" stroke-width="1" stroke-linejoin="round"/>
<polygon points="195.0,355.0 220.5,359.5 222.0,368.5 198.0,364.0" fill="#fff" stroke="#2a2a2a" stroke-width="1" stroke-linejoin="round"/>
<polygon points="166.5,368.5 195.0,376.0 195.0,407.5 166.5,400.0" fill="#fff" stroke="#2a2a2a" stroke-width="1" stroke-linejoin="round"/>
<polygon points="195.0,376.0 216.0,371.5 217.5,388.0 195.0,389.5" fill="#fff" stroke="#2a2a2a" stroke-width="1" stroke-linejoin="round"/>
<polygon points="216.0,371.5 243.0,370.0 244.5,403.0 228.0,406.0 217.5,400.0" fill="#fff" stroke="#2a2a2a" stroke-width="1" stroke-linejoin="round"/>
<polygon points="195.0,389.5 222.0,391.0 222.0,406.0 195.0,406.0" fill="#fff" stroke="#2a2a2a" stroke-width="1" stroke-linejoin="round"/>
<polyline points="199.5,391.0 216.0,394.0 216.0,403.0" fill="none" stroke="#2a2a2a" stroke-width="0.8" stroke-linejoin="round"/>
<polyline points="198.0,388.0 228.0,385.0 229.5,401.5" fill="none" stroke="#2a2a2a" stroke-width="0.8" stroke-linejoin="round"/>
<polyline points="169.5,380.5 174.0,379.0 177.0,383.5 172.5,385.0 169.5,380.5" fill="none" stroke="#2a2a2a" stroke-width="0.9" stroke-linejoin="round"/>
<polyline points="168.0,401.5 168.0,394.0 181.5,397.0 183.0,404.5" fill="none" stroke="#2a2a2a" stroke-width="0.8" stroke-linejoin="round"/>
<ellipse cx="181.5" cy="362.5" rx="6.7" ry="5.4" transform="rotate(0 181.5 362.5)" fill="#fff" stroke="#2a2a2a" stroke-width="1"/>
<ellipse cx="220.5" cy="374.5" rx="6.0" ry="4.8" transform="rotate(0 220.5 374.5)" fill="#fff" stroke="#2a2a2a" stroke-width="1"/>
<circle cx="193.5" cy="347.5" r="2.1" fill="#fff" stroke="#222" stroke-width="1"/><circle cx="193.5" cy="347.5" r="1.0" fill="#333"/>
<circle cx="208.5" cy="337.7" r="2.1" fill="#fff" stroke="#222" stroke-width="1"/><circle cx="208.5" cy="337.7" r="1.0" fill="#333"/>
<circle cx="219.7" cy="346.7" r="2.4" fill="#fff" stroke="#222" stroke-width="1"/><circle cx="219.7" cy="346.7" r="1.2" fill="#333"/>
<circle cx="228.0" cy="356.5" r="2.7" fill="#fff" stroke="#222" stroke-width="1"/><circle cx="228.0" cy="356.5" r="1.3" fill="#333"/>
<circle cx="195.0" cy="367.0" r="2.4" fill="#fff" stroke="#222" stroke-width="1"/><circle cx="195.0" cy="367.0" r="1.2" fill="#333"/>
<circle cx="223.5" cy="373.0" r="2.4" fill="#fff" stroke="#222" stroke-width="1"/><circle cx="223.5" cy="373.0" r="1.2" fill="#333"/>
<circle cx="186.0" cy="379.0" r="1.8" fill="#fff" stroke="#222" stroke-width="1"/><circle cx="186.0" cy="379.0" r="0.9" fill="#333"/>
<circle cx="198.7" cy="396.2" r="2.4" fill="#fff" stroke="#222" stroke-width="1"/><circle cx="198.7" cy="396.2" r="1.2" fill="#333"/>
<circle cx="209.2" cy="396.2" r="1.8" fill="#fff" stroke="#222" stroke-width="1"/><circle cx="209.2" cy="396.2" r="0.9" fill="#333"/>
<circle cx="232.5" cy="389.5" r="1.8" fill="#fff" stroke="#222" stroke-width="1"/><circle cx="232.5" cy="389.5" r="0.9" fill="#333"/>
<circle cx="232.5" cy="397.0" r="1.8" fill="#fff" stroke="#222" stroke-width="1"/><circle cx="232.5" cy="397.0" r="0.9" fill="#333"/>
<circle cx="164.2" cy="373.0" r="2.1" fill="#fff" stroke="#222" stroke-width="1"/><circle cx="164.2" cy="373.0" r="1.0" fill="#333"/>
<circle cx="213.0" cy="358.7" r="1.5" fill="#fff" stroke="#222" stroke-width="1"/><circle cx="213.0" cy="358.7" r="0.7" fill="#333"/>
<polygon points="184.1,321.3 172.5,327.7 174.4,331.0 185.9,324.7" fill="#bbb" stroke="#2a2a2a" stroke-width="1" stroke-linejoin="round"/>
<line x1="183.0" y1="321.9" x2="184.9" y2="325.3" stroke="#222" stroke-width="0.9"/>
<line x1="181.7" y1="322.6" x2="183.6" y2="326.0" stroke="#222" stroke-width="0.9"/>
<line x1="180.4" y1="323.3" x2="182.2" y2="326.7" stroke="#222" stroke-width="0.9"/>
<line x1="179.1" y1="324.1" x2="180.9" y2="327.4" stroke="#222" stroke-width="0.9"/>
<line x1="177.8" y1="324.8" x2="179.6" y2="328.1" stroke="#222" stroke-width="0.9"/>
<line x1="176.4" y1="325.5" x2="178.3" y2="328.9" stroke="#222" stroke-width="0.9"/>
<line x1="175.1" y1="326.2" x2="177.0" y2="329.6" stroke="#222" stroke-width="0.9"/>
<line x1="173.8" y1="326.9" x2="175.7" y2="330.3" stroke="#222" stroke-width="0.9"/>
<ellipse cx="173.4" cy="329.3" rx="1.6" ry="3.5" transform="rotate(151.26020470831196 173.4 329.3)" fill="#555" stroke="#2a2a2a" stroke-width="1"/>
<polygon points="171.8,326.2 167.8,328.4 171.2,334.6 175.1,332.4" fill="#666" stroke="#2a2a2a" stroke-width="1" stroke-linejoin="round"/>
<ellipse cx="169.5" cy="331.5" rx="1.8" ry="3.5" transform="rotate(151.26020470831196 169.5 331.5)" fill="#444" stroke="#2a2a2a" stroke-width="1"/>
<ellipse cx="169.5" cy="331.5" rx="0.8" ry="1.6" transform="rotate(151.26020470831196 169.5 331.5)" fill="#999" stroke="#2a2a2a" stroke-width="0.8"/>
<ellipse cx="189.0" cy="319.0" rx="3.0" ry="3.6" transform="rotate(-20 189.0 319.0)" fill="#fff" stroke="#2a2a2a" stroke-width="1"/>
<ellipse cx="189.0" cy="319.0" rx="1.2" ry="1.6" transform="rotate(-20 189.0 319.0)" fill="none" stroke="#2a2a2a" stroke-width="0.8"/>
<line x1="196" y1="315.5" x2="204" y2="313" stroke="#2a2a2a" stroke-width="0.9"/>
<line x1="204" y1="313" x2="204" y2="340" stroke="#2a2a2a" stroke-width="0.9"/>
<polygon points="151.1,403.5 143.5,408.1 145.4,411.2 152.9,406.5" fill="#bbb" stroke="#2a2a2a" stroke-width="1" stroke-linejoin="round"/>
<line x1="150.0" y1="404.1" x2="151.9" y2="407.2" stroke="#222" stroke-width="0.9"/>
<line x1="148.8" y1="404.9" x2="150.7" y2="408.0" stroke="#222" stroke-width="0.9"/>
<line x1="147.5" y1="405.7" x2="149.4" y2="408.7" stroke="#222" stroke-width="0.9"/>
<line x1="146.2" y1="406.5" x2="148.1" y2="409.5" stroke="#222" stroke-width="0.9"/>
<line x1="144.9" y1="407.3" x2="146.8" y2="410.3" stroke="#222" stroke-width="0.9"/>
<ellipse cx="144.5" cy="409.7" rx="1.5" ry="3.3" transform="rotate(148.2405199151872 144.5 409.7)" fill="#555" stroke="#2a2a2a" stroke-width="1"/>
<polygon points="142.7,406.9 139.8,408.7 143.2,414.3 146.2,412.5" fill="#666" stroke="#2a2a2a" stroke-width="1" stroke-linejoin="round"/>
<ellipse cx="141.5" cy="411.5" rx="1.7" ry="3.3" transform="rotate(148.2405199151872 141.5 411.5)" fill="#444" stroke="#2a2a2a" stroke-width="1"/>
<ellipse cx="141.5" cy="411.5" rx="0.8" ry="1.5" transform="rotate(148.2405199151872 141.5 411.5)" fill="#999" stroke="#2a2a2a" stroke-width="0.8"/>
<path d="M154,402 L165,400 L167.5,412 L157,414 Z" fill="#fff" stroke="#2a2a2a" stroke-width="1" stroke-linejoin="round" stroke-linecap="round"/>
<path d="M156.5,404 L163.5,403 L165,410 L158.5,411 Z" fill="none" stroke="#2a2a2a" stroke-width="0.7" stroke-linejoin="round" stroke-linecap="round"/>
<polygon points="616.1,346.6 616.1,345.8 616.2,345.1 616.3,344.3 616.4,343.6 616.6,342.9 616.8,342.2 617.0,341.6 617.3,340.9 617.5,340.3 617.9,339.7 618.2,339.2 618.6,338.7 619.0,338.2 619.4,337.8 619.8,337.4 620.3,337.0 621.8,336.0 622.3,335.7 622.8,335.4 623.3,335.2 623.9,335.0 624.4,334.9 625.0,334.8 625.6,334.7 626.2,334.7 626.8,334.7 627.4,334.7 628.0,334.9 628.6,335.0 629.2,335.2 629.9,335.4 630.5,335.7 631.1,336.0 631.7,336.4 632.3,336.8 632.9,337.2 633.5,337.7 634.1,338.2 634.7,338.7 635.2,339.3 635.8,339.9 636.3,340.5 636.8,341.2 637.3,341.9 637.8,342.6 638.2,343.3 638.6,344.0 639.0,344.8 639.4,345.6 639.7,346.4 640.0,347.2 640.3,348.0 640.5,348.8 640.8,349.6 641.0,350.5 641.1,351.3 641.2,352.1 641.3,353.0 641.4,353.8 641.4,354.6 641.4,355.4 641.4,356.2 641.3,356.9 641.2,357.7 641.1,358.4 640.9,359.1 640.7,359.8 640.5,360.4 640.2,361.1 640.0,361.7 639.6,362.3 639.3,362.8 638.9,363.3 638.5,363.8 638.1,364.2 637.7,364.6 637.2,365.0 635.7,366.0 635.2,366.3 634.7,366.6 634.2,366.8 633.6,367.0 633.1,367.1 632.5,367.2 631.9,367.3 631.3,367.3 630.7,367.3 630.1,367.3 629.5,367.1 628.9,367.0 628.2,366.8 627.6,366.6 627.0,366.3 626.4,366.0 625.8,365.6 625.2,365.2 624.6,364.8 624.0,364.3 623.4,363.8 622.8,363.3 622.3,362.7 621.7,362.1 621.2,361.5 620.7,360.8 620.2,360.1 619.8,359.4 619.3,358.7 618.9,358.0 618.5,357.2 618.1,356.4 617.8,355.6 617.5,354.8 617.2,354.0 617.0,353.2 616.7,352.4 616.5,351.5 616.4,350.7 616.3,349.9 616.2,349.0 616.1,348.2 616.1,347.4" fill="#fff" stroke="#2a2a2a" stroke-width="1" stroke-linejoin="round"/>
<ellipse cx="628.0" cy="351.5" rx="11.0" ry="16.5" transform="rotate(-22 628.0 351.5)" fill="#fff" stroke="#2a2a2a" stroke-width="1"/>
<ellipse cx="628.0" cy="351.5" rx="6.1" ry="9.1" transform="rotate(-22 628.0 351.5)" fill="#fff" stroke="#2a2a2a" stroke-width="1"/>
<path d="M568.75,345 L583.75,342.5 L595,346.25 L605,358.75 L612.5,371 L615,380 L612.5,395 L606,401 L590,406 Z" fill="#fff" stroke="#2a2a2a" stroke-width="1" stroke-linejoin="round" stroke-linecap="round"/>
<path d="M575,345 L600,352 L612,370 M598,347 L608,362 L614,378 M606,385 L614,385 M603,395 L612,393" fill="none" stroke="#2a2a2a" stroke-width="0.8" stroke-linejoin="round" stroke-linecap="round"/>
<path d="M561,355 Q560,345 572,345 L585,347 Q600,352 607,365 Q612,378 606,392 Q600,404 590,406 Q580,404 570,385 Q562,368 561,355 Z" fill="#fff" stroke="#2a2a2a" stroke-width="1" stroke-linejoin="round" stroke-linecap="round"/>
<ellipse cx="567" cy="357" rx="2.5" ry="3.5" transform="rotate(-25 567 357)" fill="#fff" stroke="#2a2a2a" stroke-width="0.9"/>
<ellipse cx="600" cy="375" rx="2.5" ry="3.5" transform="rotate(-25 600 375)" fill="#fff" stroke="#2a2a2a" stroke-width="0.9"/>
<ellipse cx="583" cy="399" rx="2.5" ry="3.5" transform="rotate(-25 583 399)" fill="#fff" stroke="#2a2a2a" stroke-width="0.9"/>
<ellipse cx="581.0" cy="376.0" rx="13.0" ry="16.0" transform="rotate(-22 581.0 376.0)" fill="#ddd" stroke="#2a2a2a" stroke-width="1.1"/>
<polygon points="591.7,372.1 592.1,372.9 590.2,373.9 590.5,375.4 592.8,375.7 592.9,376.6 593.0,377.5 590.8,377.6 590.7,379.0 592.8,380.2 592.7,381.0 592.5,381.9 590.3,381.0 589.9,382.3 591.6,384.2 591.2,384.9 590.8,385.5 588.9,383.9 588.0,384.8 589.3,387.2 588.7,387.6 588.0,388.0 586.6,385.8 585.5,386.2 586.0,388.9 585.3,389.0 584.6,389.1 583.7,386.5 582.5,386.4 582.3,389.0 581.5,388.8 580.7,388.6 580.7,386.0 579.5,385.4 578.5,387.5 577.8,387.1 577.1,386.5 577.8,384.2 576.8,383.2 575.2,384.7 574.6,384.0 574.0,383.2 575.4,381.5 574.7,380.2 572.6,380.8 572.3,379.9 571.9,379.1 573.8,378.1 573.5,376.6 571.2,376.3 571.1,375.4 571.0,374.5 573.2,374.4 573.3,373.0 571.2,371.8 571.3,371.0 571.5,370.1 573.7,371.0 574.1,369.7 572.4,367.8 572.8,367.1 573.2,366.5 575.1,368.1 576.0,367.2 574.7,364.8 575.3,364.4 576.0,364.0 577.4,366.2 578.5,365.8 578.0,363.1 578.7,363.0 579.4,362.9 580.3,365.5 581.5,365.6 581.7,363.0 582.5,363.2 583.3,363.4 583.3,366.0 584.5,366.6 585.5,364.5 586.2,364.9 586.9,365.5 586.2,367.8 587.2,368.8 588.8,367.3 589.4,368.0 590.0,368.8 588.6,370.5 589.3,371.8 591.4,371.2" fill="#888" stroke="#2a2a2a" stroke-width="0.9" stroke-linejoin="round"/>
<ellipse cx="583.0" cy="376.0" rx="7.5" ry="10.5" transform="rotate(-22 583.0 376.0)" fill="#fff" stroke="#2a2a2a" stroke-width="0.9"/>
<ellipse cx="626.0" cy="369.5" rx="0.9" ry="1.6" transform="rotate(-6.34019174590991 626.0 369.5)" fill="#fff" stroke="#2a2a2a" stroke-width="1"/>
<polygon points="612.7,372.6 626.2,371.1 625.8,367.9 612.3,369.4" fill="#fff" stroke="none"/>
<line x1="612.7" y1="372.6" x2="626.2" y2="371.1" stroke="#2a2a2a" stroke-width="1"/>
<line x1="612.3" y1="369.4" x2="625.8" y2="367.9" stroke="#2a2a2a" stroke-width="1"/>
<ellipse cx="612.5" cy="371.0" rx="0.9" ry="1.6" transform="rotate(-6.34019174590991 612.5 371.0)" fill="#fff" stroke="#2a2a2a" stroke-width="1"/>
<polygon points="567.8,391.9 568.0,392.9 566.6,393.4 566.8,395.1 568.3,395.7 568.4,396.7 568.4,397.6 566.9,397.5 566.9,399.1 568.3,400.4 568.1,401.2 568.0,402.1 566.5,401.3 566.2,402.7 567.4,404.5 567.1,405.2 566.8,405.9 565.4,404.5 564.8,405.6 565.7,407.7 565.3,408.3 564.8,408.7 563.7,406.9 562.9,407.5 563.4,409.9 562.9,410.2 562.4,410.4 561.5,408.2 560.6,408.4 560.7,410.7 560.1,410.8 559.5,410.7 559.1,408.3 558.0,408.1 557.7,410.2 557.2,410.0 556.6,409.7 556.5,407.3 555.5,406.6 554.8,408.4 554.3,407.9 553.7,407.4 554.1,405.2 553.2,404.1 552.2,405.5 551.7,404.7 551.2,404.0 552.0,402.3 551.3,400.9 550.0,401.5 549.6,400.7 549.3,399.8 550.4,398.6 549.9,397.0 548.4,397.0 548.2,396.1 548.0,395.1 549.4,394.6 549.2,392.9 547.7,392.3 547.6,391.3 547.6,390.4 549.1,390.5 549.1,388.9 547.7,387.6 547.9,386.8 548.0,385.9 549.5,386.7 549.8,385.3 548.6,383.5 548.9,382.8 549.2,382.1 550.6,383.5 551.2,382.4 550.3,380.3 550.7,379.7 551.2,379.3 552.3,381.1 553.1,380.5 552.6,378.1 553.1,377.8 553.6,377.6 554.5,379.8 555.4,379.6 555.3,377.3 555.9,377.2 556.5,377.3 556.9,379.7 558.0,379.9 558.3,377.8 558.8,378.0 559.4,378.3 559.5,380.7 560.5,381.4 561.2,379.6 561.7,380.1 562.3,380.6 561.9,382.8 562.8,383.9 563.8,382.5 564.3,383.3 564.8,384.0 564.0,385.7 564.7,387.1 566.0,386.5 566.4,387.3 566.7,388.2 565.6,389.4 566.1,391.0 567.6,391.0" fill="#c8c8c8" stroke="#2a2a2a" stroke-width="0.9" stroke-linejoin="round"/>
<polygon points="564.3,392.7 564.5,393.6 563.1,394.2 563.3,395.8 564.8,396.5 564.9,397.4 564.9,398.4 563.4,398.3 563.4,399.8 564.8,401.1 564.6,402.0 564.5,402.8 563.0,402.1 562.7,403.4 563.9,405.2 563.6,406.0 563.3,406.6 561.9,405.3 561.3,406.3 562.2,408.5 561.8,409.0 561.3,409.5 560.2,407.6 559.4,408.3 559.9,410.6 559.4,410.9 558.9,411.1 558.0,408.9 557.1,409.1 557.2,411.5 556.6,411.5 556.0,411.5 555.6,409.1 554.5,408.8 554.2,411.0 553.7,410.7 553.1,410.4 553.0,408.1 552.0,407.4 551.3,409.2 550.8,408.7 550.2,408.1 550.6,406.0 549.7,404.9 548.7,406.2 548.2,405.5 547.7,404.7 548.5,403.0 547.8,401.6 546.5,402.3 546.1,401.4 545.8,400.5 546.9,399.3 546.4,397.8 544.9,397.8 544.7,396.8 544.5,395.9 545.9,395.3 545.7,393.7 544.2,393.0 544.1,392.1 544.1,391.1 545.6,391.2 545.6,389.7 544.2,388.4 544.4,387.5 544.5,386.7 546.0,387.4 546.3,386.1 545.1,384.3 545.4,383.5 545.7,382.9 547.1,384.2 547.7,383.2 546.8,381.0 547.2,380.5 547.7,380.0 548.8,381.9 549.6,381.2 549.1,378.9 549.6,378.6 550.1,378.4 551.0,380.6 551.9,380.4 551.8,378.0 552.4,378.0 553.0,378.0 553.4,380.4 554.5,380.7 554.8,378.5 555.3,378.8 555.9,379.1 556.0,381.4 557.0,382.1 557.7,380.3 558.2,380.8 558.8,381.4 558.4,383.5 559.3,384.6 560.3,383.3 560.8,384.0 561.3,384.8 560.5,386.5 561.2,387.9 562.5,387.2 562.9,388.1 563.2,389.0 562.1,390.2 562.6,391.7 564.1,391.7" fill="#c8c8c8" stroke="#2a2a2a" stroke-width="0.9" stroke-linejoin="round"/>
<polygon points="560.8,393.4 561.0,394.4 559.6,394.9 559.8,396.6 561.3,397.2 561.4,398.2 561.4,399.1 559.9,399.0 559.9,400.6 561.3,401.9 561.1,402.7 561.0,403.6 559.5,402.8 559.2,404.2 560.4,406.0 560.1,406.7 559.8,407.4 558.4,406.0 557.8,407.1 558.7,409.2 558.3,409.8 557.8,410.2 556.7,408.4 555.9,409.0 556.4,411.4 555.9,411.7 555.4,411.9 554.5,409.7 553.6,409.9 553.7,412.2 553.1,412.3 552.5,412.2 552.1,409.8 551.0,409.6 550.7,411.7 550.2,411.5 549.6,411.2 549.5,408.8 548.5,408.1 547.8,409.9 547.3,409.4 546.7,408.9 547.1,406.7 546.2,405.6 545.2,407.0 544.7,406.2 544.2,405.5 545.0,403.8 544.3,402.4 543.0,403.0 542.6,402.2 542.3,401.3 543.4,400.1 542.9,398.5 541.4,398.5 541.2,397.6 541.0,396.6 542.4,396.1 542.2,394.4 540.7,393.8 540.6,392.8 540.6,391.9 542.1,392.0 542.1,390.4 540.7,389.1 540.9,388.3 541.0,387.4 542.5,388.2 542.8,386.8 541.6,385.0 541.9,384.3 542.2,383.6 543.6,385.0 544.2,383.9 543.3,381.8 543.7,381.2 544.2,380.8 545.3,382.6 546.1,382.0 545.6,379.6 546.1,379.3 546.6,379.1 547.5,381.3 548.4,381.1 548.3,378.8 548.9,378.7 549.5,378.8 549.9,381.2 551.0,381.4 551.3,379.3 551.8,379.5 552.4,379.8 552.5,382.2 553.5,382.9 554.2,381.1 554.7,381.6 555.3,382.1 554.9,384.3 555.8,385.4 556.8,384.0 557.3,384.8 557.8,385.5 557.0,387.2 557.7,388.6 559.0,388.0 559.4,388.8 559.7,389.7 558.6,390.9 559.1,392.5 560.6,392.5" fill="#c8c8c8" stroke="#2a2a2a" stroke-width="0.9" stroke-linejoin="round"/>
<polygon points="557.3,394.2 557.5,395.1 556.1,395.7 556.3,397.3 557.8,398.0 557.9,398.9 557.9,399.9 556.4,399.8 556.4,401.3 557.8,402.6 557.6,403.5 557.5,404.3 556.0,403.6 555.7,404.9 556.9,406.7 556.6,407.5 556.3,408.1 554.9,406.8 554.3,407.8 555.2,410.0 554.8,410.5 554.3,411.0 553.2,409.1 552.4,409.8 552.9,412.1 552.4,412.4 551.9,412.6 551.0,410.4 550.1,410.6 550.2,413.0 549.6,413.0 549.0,413.0 548.6,410.6 547.5,410.3 547.2,412.5 546.7,412.2 546.1,411.9 546.0,409.6 545.0,408.9 544.3,410.7 543.8,410.2 543.2,409.6 543.6,407.5 542.7,406.4 541.7,407.7 541.2,407.0 540.7,406.2 541.5,404.5 540.8,403.1 539.5,403.8 539.1,402.9 538.8,402.0 539.9,400.8 539.4,399.3 537.9,399.3 537.7,398.3 537.5,397.4 538.9,396.8 538.7,395.2 537.2,394.5 537.1,393.6 537.1,392.6 538.6,392.7 538.6,391.2 537.2,389.9 537.4,389.0 537.5,388.2 539.0,388.9 539.3,387.6 538.1,385.8 538.4,385.0 538.7,384.4 540.1,385.7 540.7,384.7 539.8,382.5 540.2,382.0 540.7,381.5 541.8,383.4 542.6,382.7 542.1,380.4 542.6,380.1 543.1,379.9 544.0,382.1 544.9,381.9 544.8,379.5 545.4,379.5 546.0,379.5 546.4,381.9 547.5,382.2 547.8,380.0 548.3,380.3 548.9,380.6 549.0,382.9 550.0,383.6 550.7,381.8 551.2,382.3 551.8,382.9 551.4,385.0 552.3,386.1 553.3,384.8 553.8,385.5 554.3,386.3 553.5,388.0 554.2,389.4 555.5,388.7 555.9,389.6 556.2,390.5 555.1,391.7 555.6,393.2 557.1,393.2" fill="#c8c8c8" stroke="#2a2a2a" stroke-width="0.9" stroke-linejoin="round"/>
<polygon points="553.8,394.9 554.0,395.9 552.6,396.4 552.8,398.1 554.3,398.7 554.4,399.7 554.4,400.6 552.9,400.5 552.9,402.1 554.3,403.4 554.1,404.2 554.0,405.1 552.5,404.3 552.2,405.7 553.4,407.5 553.1,408.2 552.8,408.9 551.4,407.5 550.8,408.6 551.7,410.7 551.3,411.3 550.8,411.7 549.7,409.9 548.9,410.5 549.4,412.9 548.9,413.2 548.4,413.4 547.5,411.2 546.6,411.4 546.7,413.7 546.1,413.8 545.5,413.7 545.1,411.3 544.0,411.1 543.7,413.2 543.2,413.0 542.6,412.7 542.5,410.3 541.5,409.6 540.8,411.4 540.3,410.9 539.7,410.4 540.1,408.2 539.2,407.1 538.2,408.5 537.7,407.7 537.2,407.0 538.0,405.3 537.3,403.9 536.0,404.5 535.6,403.7 535.3,402.8 536.4,401.6 535.9,400.0 534.4,400.0 534.2,399.1 534.0,398.1 535.4,397.6 535.2,395.9 533.7,395.3 533.6,394.3 533.6,393.4 535.1,393.5 535.1,391.9 533.7,390.6 533.9,389.8 534.0,388.9 535.5,389.7 535.8,388.3 534.6,386.5 534.9,385.8 535.2,385.1 536.6,386.5 537.2,385.4 536.3,383.3 536.7,382.7 537.2,382.3 538.3,384.1 539.1,383.5 538.6,381.1 539.1,380.8 539.6,380.6 540.5,382.8 541.4,382.6 541.3,380.3 541.9,380.2 542.5,380.3 542.9,382.7 544.0,382.9 544.3,380.8 544.8,381.0 545.4,381.3 545.5,383.7 546.5,384.4 547.2,382.6 547.7,383.1 548.3,383.6 547.9,385.8 548.8,386.9 549.8,385.5 550.3,386.3 550.8,387.0 550.0,388.7 550.7,390.1 552.0,389.5 552.4,390.3 552.7,391.2 551.6,392.4 552.1,394.0 553.6,394.0" fill="#e8e8e8" stroke="#2a2a2a" stroke-width="0.9" stroke-linejoin="round"/>
<line x1="554.0" y1="396.1" x2="568.0" y2="393.1" stroke="#222" stroke-width="0.8"/>
<line x1="554.3" y1="398.5" x2="568.3" y2="395.5" stroke="#444" stroke-width="0.6"/>
<line x1="554.4" y1="400.9" x2="568.4" y2="397.9" stroke="#222" stroke-width="0.8"/>
<line x1="554.3" y1="403.1" x2="568.3" y2="400.1" stroke="#444" stroke-width="0.6"/>
<line x1="553.9" y1="405.3" x2="567.9" y2="402.3" stroke="#222" stroke-width="0.8"/>
<line x1="553.4" y1="407.3" x2="567.4" y2="404.3" stroke="#444" stroke-width="0.6"/>
<line x1="552.7" y1="409.1" x2="566.7" y2="406.1" stroke="#222" stroke-width="0.8"/>
<line x1="551.8" y1="410.6" x2="565.8" y2="407.6" stroke="#444" stroke-width="0.6"/>
<line x1="550.7" y1="411.9" x2="564.7" y2="408.9" stroke="#222" stroke-width="0.8"/>
<line x1="549.5" y1="412.8" x2="563.5" y2="409.8" stroke="#444" stroke-width="0.6"/>
<line x1="548.2" y1="413.4" x2="562.2" y2="410.4" stroke="#222" stroke-width="0.8"/>
<line x1="546.8" y1="413.7" x2="560.8" y2="410.7" stroke="#444" stroke-width="0.6"/>
<line x1="545.4" y1="413.7" x2="559.4" y2="410.7" stroke="#222" stroke-width="0.8"/>
<line x1="543.9" y1="413.3" x2="557.9" y2="410.3" stroke="#444" stroke-width="0.6"/>
<line x1="542.4" y1="412.6" x2="556.4" y2="409.6" stroke="#222" stroke-width="0.8"/>
<line x1="541.0" y1="411.6" x2="555.0" y2="408.6" stroke="#444" stroke-width="0.6"/>
<line x1="539.6" y1="410.2" x2="553.6" y2="407.2" stroke="#222" stroke-width="0.8"/>
<line x1="538.3" y1="408.6" x2="552.3" y2="405.6" stroke="#444" stroke-width="0.6"/>
<line x1="537.1" y1="406.8" x2="551.1" y2="403.8" stroke="#222" stroke-width="0.8"/>
<line x1="536.1" y1="404.8" x2="550.1" y2="401.8" stroke="#444" stroke-width="0.6"/>
<line x1="535.2" y1="402.6" x2="549.2" y2="399.6" stroke="#222" stroke-width="0.8"/>
<line x1="534.5" y1="400.3" x2="548.5" y2="397.3" stroke="#444" stroke-width="0.6"/>
<line x1="534.0" y1="397.9" x2="548.0" y2="394.9" stroke="#222" stroke-width="0.8"/>
<line x1="533.7" y1="395.5" x2="547.7" y2="392.5" stroke="#444" stroke-width="0.6"/>
<line x1="533.6" y1="393.1" x2="547.6" y2="390.1" stroke="#222" stroke-width="0.8"/>
<line x1="533.7" y1="390.9" x2="547.7" y2="387.9" stroke="#444" stroke-width="0.6"/>
<line x1="534.1" y1="388.7" x2="548.1" y2="385.7" stroke="#222" stroke-width="0.8"/>
<line x1="534.6" y1="386.7" x2="548.6" y2="383.7" stroke="#444" stroke-width="0.6"/>
<line x1="535.3" y1="384.9" x2="549.3" y2="381.9" stroke="#222" stroke-width="0.8"/>
<line x1="536.2" y1="383.4" x2="550.2" y2="380.4" stroke="#444" stroke-width="0.6"/>
<line x1="537.3" y1="382.1" x2="551.3" y2="379.1" stroke="#222" stroke-width="0.8"/>
<line x1="538.5" y1="381.2" x2="552.5" y2="378.2" stroke="#444" stroke-width="0.6"/>
<line x1="539.8" y1="380.6" x2="553.8" y2="377.6" stroke="#222" stroke-width="0.8"/>
<line x1="541.2" y1="380.3" x2="555.2" y2="377.3" stroke="#444" stroke-width="0.6"/>
<line x1="542.6" y1="380.3" x2="556.6" y2="377.3" stroke="#222" stroke-width="0.8"/>
<line x1="544.1" y1="380.7" x2="558.1" y2="377.7" stroke="#444" stroke-width="0.6"/>
<line x1="545.6" y1="381.4" x2="559.6" y2="378.4" stroke="#222" stroke-width="0.8"/>
<line x1="547.0" y1="382.4" x2="561.0" y2="379.4" stroke="#444" stroke-width="0.6"/>
<line x1="548.4" y1="383.8" x2="562.4" y2="380.8" stroke="#222" stroke-width="0.8"/>
<line x1="549.7" y1="385.4" x2="563.7" y2="382.4" stroke="#444" stroke-width="0.6"/>
<line x1="550.9" y1="387.2" x2="564.9" y2="384.2" stroke="#222" stroke-width="0.8"/>
<line x1="551.9" y1="389.2" x2="565.9" y2="386.2" stroke="#444" stroke-width="0.6"/>
<line x1="552.8" y1="391.4" x2="566.8" y2="388.4" stroke="#222" stroke-width="0.8"/>
<line x1="553.5" y1="393.7" x2="567.5" y2="390.7" stroke="#444" stroke-width="0.6"/>
<ellipse cx="544.0" cy="397.0" rx="4.2" ry="7.1" transform="rotate(-12 544.0 397.0)" fill="#fff" stroke="#2a2a2a" stroke-width="1"/>
<path d="M450,421 L495,421 Q505,432 504,448 Q500,466 488,474 Q470,477 455,470 Q443,460 441,445 Q441,430 450,421 Z" fill="#fff" stroke="#2a2a2a" stroke-width="1" stroke-linejoin="round" stroke-linecap="round"/>
<path d="M480,421 Q495,430 500,450 M488,474 Q498,462 502,448" fill="none" stroke="#2a2a2a" stroke-width="0.8" stroke-linejoin="round" stroke-linecap="round"/>
<ellipse cx="465.0" cy="443.0" rx="15.0" ry="17.0" transform="rotate(-22 465.0 443.0)" fill="#ddd" stroke="#2a2a2a" stroke-width="1.1"/>
<polygon points="474.7,439.7 475.0,440.6 472.9,441.7 473.3,443.2 475.7,443.4 475.8,444.4 475.9,445.3 473.5,445.5 473.4,446.9 475.7,448.1 475.5,449.0 475.3,449.9 472.9,449.1 472.4,450.4 474.3,452.4 473.9,453.1 473.4,453.8 471.3,452.1 470.4,453.0 471.7,455.6 471.0,456.0 470.3,456.5 468.8,454.1 467.6,454.6 468.1,457.4 467.3,457.5 466.5,457.6 465.7,454.9 464.4,454.9 464.0,457.6 463.2,457.4 462.4,457.2 462.4,454.4 461.1,453.9 460.0,456.1 459.2,455.6 458.5,455.1 459.3,452.7 458.2,451.6 456.4,453.2 455.8,452.5 455.2,451.7 456.7,449.9 456.0,448.5 453.7,449.2 453.3,448.3 453.0,447.4 455.1,446.3 454.7,444.8 452.3,444.6 452.2,443.6 452.1,442.7 454.5,442.5 454.6,441.1 452.3,439.9 452.5,439.0 452.7,438.1 455.1,438.9 455.6,437.6 453.7,435.6 454.1,434.9 454.6,434.2 456.7,435.9 457.6,435.0 456.3,432.4 457.0,432.0 457.7,431.5 459.2,433.9 460.4,433.4 459.9,430.6 460.7,430.5 461.5,430.4 462.3,433.1 463.6,433.1 464.0,430.4 464.8,430.6 465.6,430.8 465.6,433.6 466.9,434.1 468.0,431.9 468.8,432.4 469.5,432.9 468.7,435.3 469.8,436.4 471.6,434.8 472.2,435.5 472.8,436.3 471.3,438.1 472.0,439.5 474.3,438.8" fill="#888" stroke="#2a2a2a" stroke-width="0.9" stroke-linejoin="round"/>
<ellipse cx="465.0" cy="444.0" rx="8.0" ry="10.5" transform="rotate(-22 465.0 444.0)" fill="#fff" stroke="#2a2a2a" stroke-width="0.9"/>
<ellipse cx="448" cy="432" rx="2.5" ry="3.5" fill="#fff" stroke="#2a2a2a" stroke-width="0.9"/><ellipse cx="466" cy="466" rx="2.5" ry="3.5" fill="#fff" stroke="#2a2a2a" stroke-width="0.9"/><ellipse cx="484" cy="438" rx="2.5" ry="3.5" fill="#fff" stroke="#2a2a2a" stroke-width="0.9"/>
<ellipse cx="516.0" cy="430.0" rx="0.9" ry="1.6" transform="rotate(-7.125016348901798 516.0 430.0)" fill="#fff" stroke="#2a2a2a" stroke-width="1"/>
<polygon points="500.2,433.6 516.2,431.6 515.8,428.4 499.8,430.4" fill="#fff" stroke="none"/>
<line x1="500.2" y1="433.6" x2="516.2" y2="431.6" stroke="#2a2a2a" stroke-width="1"/>
<line x1="499.8" y1="430.4" x2="515.8" y2="428.4" stroke="#2a2a2a" stroke-width="1"/>
<ellipse cx="500.0" cy="432.0" rx="0.9" ry="1.6" transform="rotate(-7.125016348901798 500.0 432.0)" fill="#fff" stroke="#2a2a2a" stroke-width="1"/>
<polygon points="445.6,459.2 445.9,460.1 444.4,460.8 444.7,462.4 446.3,462.9 446.4,463.9 446.5,464.8 444.9,464.8 444.8,466.4 446.4,467.6 446.3,468.5 446.2,469.3 444.5,468.7 444.2,470.1 445.6,471.8 445.3,472.5 445.0,473.3 443.4,472.0 442.8,473.1 443.8,475.2 443.4,475.8 443.0,476.3 441.6,474.5 440.8,475.2 441.4,477.5 440.9,477.8 440.3,478.1 439.3,476.0 438.3,476.2 438.5,478.6 437.8,478.7 437.2,478.7 436.6,476.3 435.5,476.1 435.2,478.3 434.6,478.1 433.9,477.9 433.8,475.5 432.7,474.9 432.0,476.7 431.4,476.3 430.8,475.8 431.1,473.6 430.1,472.6 429.0,474.0 428.4,473.3 427.9,472.6 428.7,470.8 427.9,469.4 426.5,470.2 426.0,469.4 425.6,468.5 426.8,467.2 426.2,465.6 424.6,465.8 424.4,464.8 424.1,463.9 425.6,463.2 425.3,461.6 423.7,461.1 423.6,460.1 423.5,459.2 425.1,459.2 425.2,457.6 423.6,456.4 423.7,455.5 423.8,454.7 425.5,455.3 425.8,453.9 424.4,452.2 424.7,451.5 425.0,450.7 426.6,452.0 427.2,450.9 426.2,448.8 426.6,448.2 427.0,447.7 428.4,449.5 429.2,448.8 428.6,446.5 429.1,446.2 429.7,445.9 430.7,448.0 431.7,447.8 431.5,445.4 432.2,445.3 432.8,445.3 433.4,447.7 434.5,447.9 434.8,445.7 435.4,445.9 436.1,446.1 436.2,448.5 437.3,449.1 438.0,447.3 438.6,447.7 439.2,448.2 438.9,450.4 439.9,451.4 441.0,450.0 441.6,450.7 442.1,451.4 441.3,453.2 442.1,454.6 443.5,453.8 444.0,454.6 444.4,455.5 443.2,456.8 443.8,458.4 445.4,458.2" fill="#c8c8c8" stroke="#2a2a2a" stroke-width="0.9" stroke-linejoin="round"/>
<polygon points="442.1,460.4 442.4,461.3 440.9,462.0 441.2,463.7 442.8,464.2 442.9,465.1 443.0,466.1 441.4,466.1 441.3,467.7 442.9,468.8 442.8,469.7 442.7,470.6 441.0,469.9 440.7,471.3 442.1,473.0 441.8,473.8 441.5,474.5 439.9,473.2 439.3,474.3 440.3,476.4 439.9,477.0 439.5,477.5 438.1,475.7 437.3,476.5 437.9,478.8 437.4,479.1 436.8,479.4 435.8,477.2 434.8,477.5 435.0,479.9 434.3,479.9 433.7,479.9 433.1,477.6 432.0,477.4 431.7,479.6 431.1,479.4 430.4,479.1 430.3,476.8 429.2,476.1 428.5,478.0 427.9,477.5 427.3,477.0 427.6,474.8 426.6,473.8 425.5,475.2 424.9,474.5 424.4,473.8 425.2,472.0 424.4,470.7 423.0,471.4 422.5,470.6 422.1,469.7 423.3,468.5 422.7,466.9 421.1,467.0 420.9,466.1 420.6,465.2 422.1,464.5 421.8,462.8 420.2,462.3 420.1,461.4 420.0,460.4 421.6,460.4 421.7,458.8 420.1,457.7 420.2,456.8 420.3,455.9 422.0,456.6 422.3,455.2 420.9,453.5 421.2,452.7 421.5,452.0 423.1,453.3 423.7,452.2 422.7,450.1 423.1,449.5 423.5,449.0 424.9,450.8 425.7,450.0 425.1,447.7 425.6,447.4 426.2,447.1 427.2,449.3 428.2,449.0 428.0,446.6 428.7,446.6 429.3,446.6 429.9,448.9 431.0,449.1 431.3,446.9 431.9,447.1 432.6,447.4 432.7,449.7 433.8,450.4 434.5,448.5 435.1,449.0 435.7,449.5 435.4,451.7 436.4,452.7 437.5,451.3 438.1,452.0 438.6,452.7 437.8,454.5 438.6,455.8 440.0,455.1 440.5,455.9 440.9,456.8 439.7,458.0 440.3,459.6 441.9,459.5" fill="#c8c8c8" stroke="#2a2a2a" stroke-width="0.9" stroke-linejoin="round"/>
<polygon points="438.6,461.7 438.9,462.6 437.4,463.3 437.7,464.9 439.3,465.4 439.4,466.4 439.5,467.3 437.9,467.3 437.8,468.9 439.4,470.1 439.3,471.0 439.2,471.8 437.5,471.2 437.2,472.6 438.6,474.3 438.3,475.0 438.0,475.8 436.4,474.5 435.8,475.6 436.8,477.7 436.4,478.3 436.0,478.8 434.6,477.0 433.8,477.7 434.4,480.0 433.9,480.3 433.3,480.6 432.3,478.5 431.3,478.7 431.5,481.1 430.8,481.2 430.2,481.2 429.6,478.8 428.5,478.6 428.2,480.8 427.6,480.6 426.9,480.4 426.8,478.0 425.7,477.4 425.0,479.2 424.4,478.8 423.8,478.3 424.1,476.1 423.1,475.1 422.0,476.5 421.4,475.8 420.9,475.1 421.7,473.3 420.9,471.9 419.5,472.7 419.0,471.9 418.6,471.0 419.8,469.7 419.2,468.1 417.6,468.3 417.4,467.3 417.1,466.4 418.6,465.7 418.3,464.1 416.7,463.6 416.6,462.6 416.5,461.7 418.1,461.7 418.2,460.1 416.6,458.9 416.7,458.0 416.8,457.2 418.5,457.8 418.8,456.4 417.4,454.7 417.7,454.0 418.0,453.2 419.6,454.5 420.2,453.4 419.2,451.3 419.6,450.7 420.0,450.2 421.4,452.0 422.2,451.3 421.6,449.0 422.1,448.7 422.7,448.4 423.7,450.5 424.7,450.3 424.5,447.9 425.2,447.8 425.8,447.8 426.4,450.2 427.5,450.4 427.8,448.2 428.4,448.4 429.1,448.6 429.2,451.0 430.3,451.6 431.0,449.8 431.6,450.2 432.2,450.7 431.9,452.9 432.9,453.9 434.0,452.5 434.6,453.2 435.1,453.9 434.3,455.7 435.1,457.1 436.5,456.3 437.0,457.1 437.4,458.0 436.2,459.3 436.8,460.9 438.4,460.7" fill="#c8c8c8" stroke="#2a2a2a" stroke-width="0.9" stroke-linejoin="round"/>
<polygon points="435.1,462.9 435.4,463.8 433.9,464.5 434.2,466.2 435.8,466.7 435.9,467.6 436.0,468.6 434.4,468.6 434.3,470.2 435.9,471.3 435.8,472.2 435.7,473.1 434.0,472.4 433.7,473.8 435.1,475.5 434.8,476.3 434.5,477.0 432.9,475.7 432.3,476.8 433.3,478.9 432.9,479.5 432.5,480.0 431.1,478.2 430.3,479.0 430.9,481.3 430.4,481.6 429.8,481.9 428.8,479.7 427.8,480.0 428.0,482.4 427.3,482.4 426.7,482.4 426.1,480.1 425.0,479.9 424.7,482.1 424.1,481.9 423.4,481.6 423.3,479.3 422.2,478.6 421.5,480.5 420.9,480.0 420.3,479.5 420.6,477.3 419.6,476.3 418.5,477.7 417.9,477.0 417.4,476.3 418.2,474.5 417.4,473.2 416.0,473.9 415.5,473.1 415.1,472.2 416.3,471.0 415.7,469.4 414.1,469.5 413.9,468.6 413.6,467.7 415.1,467.0 414.8,465.3 413.2,464.8 413.1,463.9 413.0,462.9 414.6,462.9 414.7,461.3 413.1,460.2 413.2,459.3 413.3,458.4 415.0,459.1 415.3,457.7 413.9,456.0 414.2,455.2 414.5,454.5 416.1,455.8 416.7,454.7 415.7,452.6 416.1,452.0 416.5,451.5 417.9,453.3 418.7,452.5 418.1,450.2 418.6,449.9 419.2,449.6 420.2,451.8 421.2,451.5 421.0,449.1 421.7,449.1 422.3,449.1 422.9,451.4 424.0,451.6 424.3,449.4 424.9,449.6 425.6,449.9 425.7,452.2 426.8,452.9 427.5,451.0 428.1,451.5 428.7,452.0 428.4,454.2 429.4,455.2 430.5,453.8 431.1,454.5 431.6,455.2 430.8,457.0 431.6,458.3 433.0,457.6 433.5,458.4 433.9,459.3 432.7,460.5 433.3,462.1 434.9,462.0" fill="#c8c8c8" stroke="#2a2a2a" stroke-width="0.9" stroke-linejoin="round"/>
<polygon points="431.6,464.2 431.9,465.1 430.4,465.8 430.7,467.4 432.3,467.9 432.4,468.9 432.5,469.8 430.9,469.8 430.8,471.4 432.4,472.6 432.3,473.5 432.2,474.3 430.5,473.7 430.2,475.1 431.6,476.8 431.3,477.5 431.0,478.3 429.4,477.0 428.8,478.1 429.8,480.2 429.4,480.8 429.0,481.3 427.6,479.5 426.8,480.2 427.4,482.5 426.9,482.8 426.3,483.1 425.3,481.0 424.3,481.2 424.5,483.6 423.8,483.7 423.2,483.7 422.6,481.3 421.5,481.1 421.2,483.3 420.6,483.1 419.9,482.9 419.8,480.5 418.7,479.9 418.0,481.7 417.4,481.3 416.8,480.8 417.1,478.6 416.1,477.6 415.0,479.0 414.4,478.3 413.9,477.6 414.7,475.8 413.9,474.4 412.5,475.2 412.0,474.4 411.6,473.5 412.8,472.2 412.2,470.6 410.6,470.8 410.4,469.8 410.1,468.9 411.6,468.2 411.3,466.6 409.7,466.1 409.6,465.1 409.5,464.2 411.1,464.2 411.2,462.6 409.6,461.4 409.7,460.5 409.8,459.7 411.5,460.3 411.8,458.9 410.4,457.2 410.7,456.5 411.0,455.7 412.6,457.0 413.2,455.9 412.2,453.8 412.6,453.2 413.0,452.7 414.4,454.5 415.2,453.8 414.6,451.5 415.1,451.2 415.7,450.9 416.7,453.0 417.7,452.8 417.5,450.4 418.2,450.3 418.8,450.3 419.4,452.7 420.5,452.9 420.8,450.7 421.4,450.9 422.1,451.1 422.2,453.5 423.3,454.1 424.0,452.3 424.6,452.7 425.2,453.2 424.9,455.4 425.9,456.4 427.0,455.0 427.6,455.7 428.1,456.4 427.3,458.2 428.1,459.6 429.5,458.8 430.0,459.6 430.4,460.5 429.2,461.8 429.8,463.4 431.4,463.2" fill="#e8e8e8" stroke="#2a2a2a" stroke-width="0.9" stroke-linejoin="round"/>
<line x1="431.9" y1="465.3" x2="445.9" y2="460.3" stroke="#222" stroke-width="0.8"/>
<line x1="432.3" y1="467.7" x2="446.3" y2="462.7" stroke="#444" stroke-width="0.6"/>
<line x1="432.5" y1="470.1" x2="446.5" y2="465.1" stroke="#222" stroke-width="0.8"/>
<line x1="432.4" y1="472.4" x2="446.4" y2="467.4" stroke="#444" stroke-width="0.6"/>
<line x1="432.1" y1="474.6" x2="446.1" y2="469.6" stroke="#222" stroke-width="0.8"/>
<line x1="431.6" y1="476.6" x2="445.6" y2="471.6" stroke="#444" stroke-width="0.6"/>
<line x1="430.9" y1="478.4" x2="444.9" y2="473.4" stroke="#222" stroke-width="0.8"/>
<line x1="430.0" y1="480.0" x2="444.0" y2="475.0" stroke="#444" stroke-width="0.6"/>
<line x1="428.8" y1="481.4" x2="442.8" y2="476.4" stroke="#222" stroke-width="0.8"/>
<line x1="427.6" y1="482.4" x2="441.6" y2="477.4" stroke="#444" stroke-width="0.6"/>
<line x1="426.1" y1="483.2" x2="440.1" y2="478.2" stroke="#222" stroke-width="0.8"/>
<line x1="424.6" y1="483.6" x2="438.6" y2="478.6" stroke="#444" stroke-width="0.6"/>
<line x1="423.0" y1="483.7" x2="437.0" y2="478.7" stroke="#222" stroke-width="0.8"/>
<line x1="421.4" y1="483.4" x2="435.4" y2="478.4" stroke="#444" stroke-width="0.6"/>
<line x1="419.8" y1="482.8" x2="433.8" y2="477.8" stroke="#222" stroke-width="0.8"/>
<line x1="418.2" y1="481.9" x2="432.2" y2="476.9" stroke="#444" stroke-width="0.6"/>
<line x1="416.6" y1="480.6" x2="430.6" y2="475.6" stroke="#222" stroke-width="0.8"/>
<line x1="415.1" y1="479.1" x2="429.1" y2="474.1" stroke="#444" stroke-width="0.6"/>
<line x1="413.8" y1="477.4" x2="427.8" y2="472.4" stroke="#222" stroke-width="0.8"/>
<line x1="412.6" y1="475.4" x2="426.6" y2="470.4" stroke="#444" stroke-width="0.6"/>
<line x1="411.6" y1="473.3" x2="425.6" y2="468.3" stroke="#222" stroke-width="0.8"/>
<line x1="410.7" y1="471.0" x2="424.7" y2="466.0" stroke="#444" stroke-width="0.6"/>
<line x1="410.1" y1="468.7" x2="424.1" y2="463.7" stroke="#222" stroke-width="0.8"/>
<line x1="409.7" y1="466.3" x2="423.7" y2="461.3" stroke="#444" stroke-width="0.6"/>
<line x1="409.5" y1="463.9" x2="423.5" y2="458.9" stroke="#222" stroke-width="0.8"/>
<line x1="409.6" y1="461.6" x2="423.6" y2="456.6" stroke="#444" stroke-width="0.6"/>
<line x1="409.9" y1="459.4" x2="423.9" y2="454.4" stroke="#222" stroke-width="0.8"/>
<line x1="410.4" y1="457.4" x2="424.4" y2="452.4" stroke="#444" stroke-width="0.6"/>
<line x1="411.1" y1="455.6" x2="425.1" y2="450.6" stroke="#222" stroke-width="0.8"/>
<line x1="412.0" y1="454.0" x2="426.0" y2="449.0" stroke="#444" stroke-width="0.6"/>
<line x1="413.2" y1="452.6" x2="427.2" y2="447.6" stroke="#222" stroke-width="0.8"/>
<line x1="414.4" y1="451.6" x2="428.4" y2="446.6" stroke="#444" stroke-width="0.6"/>
<line x1="415.9" y1="450.8" x2="429.9" y2="445.8" stroke="#222" stroke-width="0.8"/>
<line x1="417.4" y1="450.4" x2="431.4" y2="445.4" stroke="#444" stroke-width="0.6"/>
<line x1="419.0" y1="450.3" x2="433.0" y2="445.3" stroke="#222" stroke-width="0.8"/>
<line x1="420.6" y1="450.6" x2="434.6" y2="445.6" stroke="#444" stroke-width="0.6"/>
<line x1="422.2" y1="451.2" x2="436.2" y2="446.2" stroke="#222" stroke-width="0.8"/>
<line x1="423.8" y1="452.1" x2="437.8" y2="447.1" stroke="#444" stroke-width="0.6"/>
<line x1="425.4" y1="453.4" x2="439.4" y2="448.4" stroke="#222" stroke-width="0.8"/>
<line x1="426.9" y1="454.9" x2="440.9" y2="449.9" stroke="#444" stroke-width="0.6"/>
<line x1="428.2" y1="456.6" x2="442.2" y2="451.6" stroke="#222" stroke-width="0.8"/>
<line x1="429.4" y1="458.6" x2="443.4" y2="453.6" stroke="#444" stroke-width="0.6"/>
<line x1="430.4" y1="460.7" x2="444.4" y2="455.7" stroke="#222" stroke-width="0.8"/>
<line x1="431.3" y1="463.0" x2="445.3" y2="458.0" stroke="#444" stroke-width="0.6"/>
<ellipse cx="421.0" cy="467.0" rx="6.1" ry="9.4" transform="rotate(-15 421.0 467.0)" fill="#fff" stroke="#2a2a2a" stroke-width="1"/>
<polygon points="387.4,476.5 387.4,475.7 387.5,474.9 387.6,474.2 387.7,473.4 387.9,472.7 388.1,472.0 388.3,471.3 388.6,470.6 388.9,470.0 389.2,469.4 389.6,468.8 390.0,468.3 390.4,467.8 390.9,467.3 391.3,466.8 391.8,466.4 392.3,466.1 393.8,465.1 394.4,464.7 394.9,464.4 395.5,464.2 396.1,463.9 396.7,463.8 397.3,463.6 397.9,463.6 398.6,463.5 399.2,463.5 399.9,463.5 400.6,463.6 401.2,463.7 401.9,463.9 402.5,464.1 403.2,464.4 403.8,464.6 404.5,465.0 405.1,465.3 405.8,465.7 406.4,466.2 407.0,466.6 407.6,467.1 408.1,467.7 408.7,468.3 409.2,468.9 409.7,469.5 410.2,470.1 410.7,470.8 411.1,471.5 411.6,472.2 411.9,473.0 412.3,473.7 412.6,474.5 412.9,475.3 413.2,476.1 413.4,476.9 413.6,477.7 413.8,478.5 413.9,479.3 414.0,480.1 414.1,480.9 414.1,481.7 414.1,482.5 414.1,483.3 414.0,484.1 413.9,484.8 413.8,485.6 413.6,486.3 413.4,487.0 413.2,487.7 412.9,488.4 412.6,489.0 412.2,489.6 411.9,490.2 411.5,490.7 411.1,491.2 410.6,491.7 410.2,492.2 409.7,492.6 409.2,492.9 407.7,493.9 407.1,494.3 406.6,494.6 406.0,494.8 405.4,495.1 404.8,495.2 404.2,495.4 403.6,495.4 402.9,495.5 402.3,495.5 401.6,495.5 400.9,495.4 400.3,495.3 399.6,495.1 399.0,494.9 398.3,494.6 397.7,494.4 397.0,494.0 396.4,493.7 395.7,493.3 395.1,492.8 394.5,492.4 393.9,491.9 393.4,491.3 392.8,490.7 392.3,490.1 391.8,489.5 391.3,488.9 390.8,488.2 390.4,487.5 389.9,486.8 389.6,486.0 389.2,485.3 388.9,484.5 388.6,483.7 388.3,482.9 388.1,482.1 387.9,481.3 387.7,480.5 387.6,479.7 387.5,478.9 387.4,478.1 387.4,477.3" fill="#fff" stroke="#2a2a2a" stroke-width="1" stroke-linejoin="round"/>
<ellipse cx="400.0" cy="480.0" rx="12.0" ry="16.0" transform="rotate(-22 400.0 480.0)" fill="#fff" stroke="#2a2a2a" stroke-width="1"/>
<ellipse cx="400.0" cy="480.0" rx="6.6" ry="8.8" transform="rotate(-22 400.0 480.0)" fill="#fff" stroke="#2a2a2a" stroke-width="1"/>
<ellipse cx="631.0" cy="429.5" rx="2.5" ry="4.6" transform="rotate(-17.650124219930124 631.0 429.5)" fill="#fff" stroke="#2a2a2a" stroke-width="1"/>
<polygon points="621.4,437.4 632.4,433.9 629.6,425.1 618.6,428.6" fill="#fff" stroke="none"/>
<line x1="621.4" y1="437.4" x2="632.4" y2="433.9" stroke="#2a2a2a" stroke-width="1"/>
<line x1="618.6" y1="428.6" x2="629.6" y2="425.1" stroke="#2a2a2a" stroke-width="1"/>
<ellipse cx="620.0" cy="433.0" rx="2.5" ry="4.6" transform="rotate(-17.650124219930124 620.0 433.0)" fill="#fff" stroke="#2a2a2a" stroke-width="1"/>
<polygon points="605.1,435.7 605.1,435.3 605.1,434.9 605.2,434.6 605.3,434.2 605.4,433.9 605.5,433.5 605.6,433.2 605.7,432.9 605.9,432.6 606.0,432.3 606.2,432.1 606.4,431.8 606.6,431.6 606.8,431.4 607.0,431.2 607.2,431.0 608.7,430.0 609.0,429.8 609.2,429.7 609.5,429.6 609.8,429.5 610.0,429.4 610.3,429.4 610.6,429.3 610.9,429.3 611.2,429.3 611.5,429.3 611.8,429.4 612.1,429.5 612.5,429.6 612.8,429.7 613.1,429.8 613.4,429.9 613.7,430.1 614.0,430.3 614.3,430.5 614.6,430.7 614.9,431.0 615.1,431.2 615.4,431.5 615.7,431.8 615.9,432.1 616.2,432.4 616.4,432.8 616.6,433.1 616.9,433.4 617.1,433.8 617.3,434.2 617.4,434.6 617.6,434.9 617.8,435.3 618.0,436.1 618.1,436.5 618.2,436.9 618.3,437.3 618.3,437.7 618.4,438.1 618.4,438.5 618.4,438.9 618.4,439.3 618.4,439.7 618.4,440.1 618.3,440.4 618.2,440.8 618.1,441.1 618.0,441.5 617.9,441.8 617.8,442.1 617.6,442.4 617.5,442.7 617.3,442.9 617.1,443.2 616.9,443.4 616.7,443.6 616.5,443.8 616.3,444.0 614.8,445.0 614.5,445.2 614.3,445.3 614.0,445.4 613.7,445.5 613.5,445.6 613.2,445.6 612.9,445.7 612.6,445.7 612.3,445.7 612.0,445.7 611.7,445.6 611.4,445.5 611.0,445.4 610.7,445.3 610.4,445.2 610.1,445.1 609.8,444.9 609.5,444.7 609.2,444.5 608.9,444.3 608.6,444.0 608.4,443.8 608.1,443.5 607.8,443.2 607.6,442.9 607.3,442.6 607.1,442.2 606.9,441.9 606.6,441.6 606.4,441.2 606.2,440.8 606.1,440.4 605.9,440.1 605.8,439.7 605.5,438.9 605.4,438.5 605.3,438.1 605.2,437.7 605.2,437.3 605.1,436.9 605.1,436.5 605.1,436.1" fill="#fff" stroke="#2a2a2a" stroke-width="1" stroke-linejoin="round"/>
<ellipse cx="611.0" cy="438.0" rx="5.5" ry="8.0" transform="rotate(-22 611.0 438.0)" fill="#fff" stroke="#2a2a2a" stroke-width="1"/>
<ellipse cx="611.0" cy="438.0" rx="3.0" ry="4.4" transform="rotate(-22 611.0 438.0)" fill="#fff" stroke="#2a2a2a" stroke-width="1"/>
<polygon points="592.2,445.3 592.2,444.9 592.2,444.6 592.3,444.2 592.3,443.9 592.4,443.5 592.5,443.2 592.6,442.9 592.7,442.6 592.9,442.3 593.0,442.0 593.2,441.7 593.4,441.5 593.5,441.2 593.8,441.0 594.0,440.8 594.2,440.6 594.4,440.4 597.4,438.4 597.7,438.3 597.9,438.2 598.2,438.1 598.5,437.9 598.7,437.9 599.0,437.8 599.3,437.8 599.6,437.8 599.9,437.8 600.2,437.8 600.5,437.8 600.8,437.9 601.1,437.9 601.4,438.1 601.7,438.2 602.0,438.3 602.3,438.4 602.6,438.6 602.9,438.8 603.2,439.0 603.8,439.5 604.0,439.7 604.3,440.0 604.5,440.3 604.8,440.6 605.0,440.9 605.2,441.2 605.4,441.5 605.6,441.9 605.8,442.2 606.0,442.6 606.1,442.9 606.2,443.3 606.4,443.7 606.5,444.1 606.6,444.4 606.6,444.8 606.7,445.2 606.8,445.6 606.8,445.9 606.8,446.3 606.8,446.7 606.8,447.1 606.8,447.4 606.7,447.8 606.7,448.1 606.6,448.5 606.5,448.8 606.4,449.1 606.3,449.4 606.1,449.7 606.0,450.0 605.8,450.3 605.6,450.5 605.5,450.8 605.2,451.0 605.0,451.2 604.8,451.4 604.6,451.6 601.6,453.6 601.3,453.7 601.1,453.8 600.8,453.9 600.5,454.1 600.3,454.1 600.0,454.2 599.7,454.2 599.4,454.2 599.1,454.2 598.8,454.2 598.5,454.2 598.2,454.1 597.9,454.1 597.6,453.9 597.3,453.8 597.0,453.7 596.7,453.6 596.4,453.4 596.1,453.2 595.8,453.0 595.2,452.5 595.0,452.3 594.7,452.0 594.5,451.7 594.2,451.4 594.0,451.1 593.8,450.8 593.6,450.5 593.4,450.1 593.2,449.8 593.0,449.4 592.9,449.1 592.8,448.7 592.6,448.3 592.5,447.9 592.4,447.6 592.4,447.2 592.3,446.8 592.2,446.4 592.2,446.1 592.2,445.7" fill="#8a8a8a" stroke="#2a2a2a" stroke-width="1" stroke-linejoin="round"/>
<ellipse cx="601.0" cy="445.0" rx="5.5" ry="7.5" transform="rotate(-22 601.0 445.0)" fill="none" stroke="#2a2a2a" stroke-width="0.8"/>
<line x1="599.8" y1="454.2" x2="602.8" y2="452.2" stroke="#222" stroke-width="1.1"/>
<line x1="597.5" y1="453.9" x2="600.5" y2="451.9" stroke="#222" stroke-width="1.1"/>
<line x1="595.3" y1="452.6" x2="598.3" y2="450.6" stroke="#222" stroke-width="1.1"/>
<line x1="593.5" y1="450.4" x2="596.5" y2="448.4" stroke="#222" stroke-width="1.1"/>
<line x1="592.5" y1="447.7" x2="595.5" y2="445.7" stroke="#222" stroke-width="1.1"/>
<line x1="592.2" y1="444.8" x2="595.2" y2="442.8" stroke="#222" stroke-width="1.1"/>
<line x1="592.8" y1="442.4" x2="595.8" y2="440.4" stroke="#222" stroke-width="1.1"/>
<line x1="594.2" y1="440.6" x2="597.2" y2="438.6" stroke="#222" stroke-width="1.1"/>
<ellipse cx="598.0" cy="447.0" rx="5.5" ry="7.5" transform="rotate(-22 598.0 447.0)" fill="#9a9a9a" stroke="#2a2a2a" stroke-width="1"/>
<line x1="602.8" y1="445.0" x2="600.4" y2="446.0" stroke="#1a1a1a" stroke-width="1.2"/>
<line x1="603.3" y1="450.3" x2="600.6" y2="448.6" stroke="#1a1a1a" stroke-width="1.2"/>
<line x1="600.7" y1="453.6" x2="599.3" y2="450.3" stroke="#1a1a1a" stroke-width="1.2"/>
<line x1="596.5" y1="453.1" x2="597.2" y2="450.0" stroke="#1a1a1a" stroke-width="1.2"/>
<line x1="593.2" y1="449.0" x2="595.6" y2="448.0" stroke="#1a1a1a" stroke-width="1.2"/>
<line x1="592.7" y1="443.7" x2="595.4" y2="445.4" stroke="#1a1a1a" stroke-width="1.2"/>
<line x1="595.3" y1="440.4" x2="596.7" y2="443.7" stroke="#1a1a1a" stroke-width="1.2"/>
<line x1="599.5" y1="440.9" x2="598.8" y2="444.0" stroke="#1a1a1a" stroke-width="1.2"/>
<ellipse cx="598.0" cy="447.0" rx="2.5" ry="3.4" transform="rotate(-22 598.0 447.0)" fill="#fff" stroke="#2a2a2a" stroke-width="1"/>
<polygon points="595.9,449.4 596.2,450.3 594.5,451.2 594.8,452.7 596.7,453.1 596.8,454.0 596.9,454.9 595.0,455.0 594.9,456.5 596.7,457.6 596.6,458.5 596.4,459.4 594.5,458.7 594.0,460.0 595.5,461.7 595.2,462.5 594.8,463.1 593.0,461.8 592.2,462.8 593.3,465.0 592.8,465.5 592.2,465.9 590.8,464.0 589.7,464.6 590.3,467.0 589.6,467.3 588.9,467.5 588.0,465.2 586.8,465.3 586.8,467.7 586.0,467.7 585.3,467.6 584.9,465.2 583.7,464.8 583.1,466.9 582.3,466.6 581.6,466.3 581.8,464.0 580.7,463.2 579.5,464.8 578.9,464.3 578.2,463.6 579.1,461.7 578.1,460.5 576.5,461.6 576.0,460.8 575.6,460.0 576.9,458.5 576.2,457.1 574.4,457.4 574.1,456.6 573.8,455.7 575.5,454.8 575.2,453.3 573.3,452.9 573.2,452.0 573.1,451.1 575.0,451.0 575.1,449.5 573.3,448.4 573.4,447.5 573.6,446.6 575.5,447.3 576.0,446.0 574.5,444.3 574.8,443.5 575.2,442.9 577.0,444.2 577.8,443.2 576.7,441.0 577.2,440.5 577.8,440.1 579.2,442.0 580.3,441.4 579.7,439.0 580.4,438.7 581.1,438.5 582.0,440.8 583.2,440.7 583.2,438.3 584.0,438.3 584.7,438.4 585.1,440.8 586.3,441.2 586.9,439.1 587.7,439.4 588.4,439.7 588.2,442.0 589.3,442.8 590.5,441.2 591.1,441.7 591.8,442.4 590.9,444.3 591.9,445.5 593.5,444.4 594.0,445.2 594.4,446.0 593.1,447.5 593.8,448.9 595.6,448.6" fill="#c8c8c8" stroke="#2a2a2a" stroke-width="0.9" stroke-linejoin="round"/>
<polygon points="594.9,449.9 595.2,450.8 593.5,451.7 593.8,453.2 595.7,453.6 595.8,454.5 595.9,455.4 594.0,455.5 593.9,457.0 595.7,458.1 595.6,459.0 595.4,459.9 593.5,459.2 593.0,460.5 594.5,462.2 594.2,463.0 593.8,463.6 592.0,462.3 591.2,463.3 592.3,465.5 591.8,466.0 591.2,466.4 589.8,464.5 588.7,465.1 589.3,467.5 588.6,467.8 587.9,468.0 587.0,465.7 585.8,465.8 585.8,468.2 585.0,468.2 584.3,468.1 583.9,465.7 582.7,465.3 582.1,467.4 581.3,467.1 580.6,466.8 580.8,464.5 579.7,463.7 578.5,465.3 577.9,464.8 577.2,464.1 578.1,462.2 577.1,461.0 575.5,462.1 575.0,461.3 574.6,460.5 575.9,459.0 575.2,457.6 573.4,457.9 573.1,457.1 572.8,456.2 574.5,455.3 574.2,453.8 572.3,453.4 572.2,452.5 572.1,451.6 574.0,451.5 574.1,450.0 572.3,448.9 572.4,448.0 572.6,447.1 574.5,447.8 575.0,446.5 573.5,444.8 573.8,444.0 574.2,443.4 576.0,444.7 576.8,443.7 575.7,441.5 576.2,441.0 576.8,440.6 578.2,442.5 579.3,441.9 578.7,439.5 579.4,439.2 580.1,439.0 581.0,441.3 582.2,441.2 582.2,438.8 583.0,438.8 583.7,438.9 584.1,441.3 585.3,441.7 585.9,439.6 586.7,439.9 587.4,440.2 587.2,442.5 588.3,443.3 589.5,441.7 590.1,442.2 590.8,442.9 589.9,444.8 590.9,446.0 592.5,444.9 593.0,445.7 593.4,446.5 592.1,448.0 592.8,449.4 594.6,449.1" fill="#c8c8c8" stroke="#2a2a2a" stroke-width="0.9" stroke-linejoin="round"/>
<polygon points="593.9,450.4 594.2,451.3 592.5,452.2 592.8,453.7 594.7,454.1 594.8,455.0 594.9,455.9 593.0,456.0 592.9,457.5 594.7,458.6 594.6,459.5 594.4,460.4 592.5,459.7 592.0,461.0 593.5,462.7 593.2,463.5 592.8,464.1 591.0,462.8 590.2,463.8 591.3,466.0 590.8,466.5 590.2,466.9 588.8,465.0 587.7,465.6 588.3,468.0 587.6,468.3 586.9,468.5 586.0,466.2 584.8,466.3 584.8,468.7 584.0,468.7 583.3,468.6 582.9,466.2 581.7,465.8 581.1,467.9 580.3,467.6 579.6,467.3 579.8,465.0 578.7,464.2 577.5,465.8 576.9,465.3 576.2,464.6 577.1,462.7 576.1,461.5 574.5,462.6 574.0,461.8 573.6,461.0 574.9,459.5 574.2,458.1 572.4,458.4 572.1,457.6 571.8,456.7 573.5,455.8 573.2,454.3 571.3,453.9 571.2,453.0 571.1,452.1 573.0,452.0 573.1,450.5 571.3,449.4 571.4,448.5 571.6,447.6 573.5,448.3 574.0,447.0 572.5,445.3 572.8,444.5 573.2,443.9 575.0,445.2 575.8,444.2 574.7,442.0 575.2,441.5 575.8,441.1 577.2,443.0 578.3,442.4 577.7,440.0 578.4,439.7 579.1,439.5 580.0,441.8 581.2,441.7 581.2,439.3 582.0,439.3 582.7,439.4 583.1,441.8 584.3,442.2 584.9,440.1 585.7,440.4 586.4,440.7 586.2,443.0 587.3,443.8 588.5,442.2 589.1,442.7 589.8,443.4 588.9,445.3 589.9,446.5 591.5,445.4 592.0,446.2 592.4,447.0 591.1,448.5 591.8,449.9 593.6,449.6" fill="#c8c8c8" stroke="#2a2a2a" stroke-width="0.9" stroke-linejoin="round"/>
<polygon points="592.9,450.9 593.2,451.8 591.5,452.7 591.8,454.2 593.7,454.6 593.8,455.5 593.9,456.4 592.0,456.5 591.9,458.0 593.7,459.1 593.6,460.0 593.4,460.9 591.5,460.2 591.0,461.5 592.5,463.2 592.2,464.0 591.8,464.6 590.0,463.3 589.2,464.3 590.3,466.5 589.8,467.0 589.2,467.4 587.8,465.5 586.7,466.1 587.3,468.5 586.6,468.8 585.9,469.0 585.0,466.7 583.8,466.8 583.8,469.2 583.0,469.2 582.3,469.1 581.9,466.7 580.7,466.3 580.1,468.4 579.3,468.1 578.6,467.8 578.8,465.5 577.7,464.7 576.5,466.3 575.9,465.8 575.2,465.1 576.1,463.2 575.1,462.0 573.5,463.1 573.0,462.3 572.6,461.5 573.9,460.0 573.2,458.6 571.4,458.9 571.1,458.1 570.8,457.2 572.5,456.3 572.2,454.8 570.3,454.4 570.2,453.5 570.1,452.6 572.0,452.5 572.1,451.0 570.3,449.9 570.4,449.0 570.6,448.1 572.5,448.8 573.0,447.5 571.5,445.8 571.8,445.0 572.2,444.4 574.0,445.7 574.8,444.7 573.7,442.5 574.2,442.0 574.8,441.6 576.2,443.5 577.3,442.9 576.7,440.5 577.4,440.2 578.1,440.0 579.0,442.3 580.2,442.2 580.2,439.8 581.0,439.8 581.7,439.9 582.1,442.3 583.3,442.7 583.9,440.6 584.7,440.9 585.4,441.2 585.2,443.5 586.3,444.3 587.5,442.7 588.1,443.2 588.8,443.9 587.9,445.8 588.9,447.0 590.5,445.9 591.0,446.7 591.4,447.5 590.1,449.0 590.8,450.4 592.6,450.1" fill="#c8c8c8" stroke="#2a2a2a" stroke-width="0.9" stroke-linejoin="round"/>
<polygon points="591.9,451.4 592.2,452.3 590.5,453.2 590.8,454.7 592.7,455.1 592.8,456.0 592.9,456.9 591.0,457.0 590.9,458.5 592.7,459.6 592.6,460.5 592.4,461.4 590.5,460.7 590.0,462.0 591.5,463.7 591.2,464.5 590.8,465.1 589.0,463.8 588.2,464.8 589.3,467.0 588.8,467.5 588.2,467.9 586.8,466.0 585.7,466.6 586.3,469.0 585.6,469.3 584.9,469.5 584.0,467.2 582.8,467.3 582.8,469.7 582.0,469.7 581.3,469.6 580.9,467.2 579.7,466.8 579.1,468.9 578.3,468.6 577.6,468.3 577.8,466.0 576.7,465.2 575.5,466.8 574.9,466.3 574.2,465.6 575.1,463.7 574.1,462.5 572.5,463.6 572.0,462.8 571.6,462.0 572.9,460.5 572.2,459.1 570.4,459.4 570.1,458.6 569.8,457.7 571.5,456.8 571.2,455.3 569.3,454.9 569.2,454.0 569.1,453.1 571.0,453.0 571.1,451.5 569.3,450.4 569.4,449.5 569.6,448.6 571.5,449.3 572.0,448.0 570.5,446.3 570.8,445.5 571.2,444.9 573.0,446.2 573.8,445.2 572.7,443.0 573.2,442.5 573.8,442.1 575.2,444.0 576.3,443.4 575.7,441.0 576.4,440.7 577.1,440.5 578.0,442.8 579.2,442.7 579.2,440.3 580.0,440.3 580.7,440.4 581.1,442.8 582.3,443.2 582.9,441.1 583.7,441.4 584.4,441.7 584.2,444.0 585.3,444.8 586.5,443.2 587.1,443.7 587.8,444.4 586.9,446.3 587.9,447.5 589.5,446.4 590.0,447.2 590.4,448.0 589.1,449.5 589.8,450.9 591.6,450.6" fill="#e8e8e8" stroke="#2a2a2a" stroke-width="0.9" stroke-linejoin="round"/>
<line x1="592.3" y1="452.6" x2="596.3" y2="450.6" stroke="#222" stroke-width="0.8"/>
<line x1="592.7" y1="454.9" x2="596.7" y2="452.9" stroke="#444" stroke-width="0.6"/>
<line x1="592.9" y1="457.2" x2="596.9" y2="455.2" stroke="#222" stroke-width="0.8"/>
<line x1="592.7" y1="459.4" x2="596.7" y2="457.4" stroke="#444" stroke-width="0.6"/>
<line x1="592.3" y1="461.6" x2="596.3" y2="459.6" stroke="#222" stroke-width="0.8"/>
<line x1="591.6" y1="463.5" x2="595.6" y2="461.5" stroke="#444" stroke-width="0.6"/>
<line x1="590.7" y1="465.3" x2="594.7" y2="463.3" stroke="#222" stroke-width="0.8"/>
<line x1="589.5" y1="466.8" x2="593.5" y2="464.8" stroke="#444" stroke-width="0.6"/>
<line x1="588.1" y1="468.0" x2="592.1" y2="466.0" stroke="#222" stroke-width="0.8"/>
<line x1="586.5" y1="468.9" x2="590.5" y2="466.9" stroke="#444" stroke-width="0.6"/>
<line x1="584.8" y1="469.5" x2="588.8" y2="467.5" stroke="#222" stroke-width="0.8"/>
<line x1="583.0" y1="469.7" x2="587.0" y2="467.7" stroke="#444" stroke-width="0.6"/>
<line x1="581.1" y1="469.5" x2="585.1" y2="467.5" stroke="#222" stroke-width="0.8"/>
<line x1="579.2" y1="469.0" x2="583.2" y2="467.0" stroke="#444" stroke-width="0.6"/>
<line x1="577.4" y1="468.2" x2="581.4" y2="466.2" stroke="#222" stroke-width="0.8"/>
<line x1="575.7" y1="467.0" x2="579.7" y2="465.0" stroke="#444" stroke-width="0.6"/>
<line x1="574.1" y1="465.5" x2="578.1" y2="463.5" stroke="#222" stroke-width="0.8"/>
<line x1="572.7" y1="463.7" x2="576.7" y2="461.7" stroke="#444" stroke-width="0.6"/>
<line x1="571.4" y1="461.8" x2="575.4" y2="459.8" stroke="#222" stroke-width="0.8"/>
<line x1="570.5" y1="459.7" x2="574.5" y2="457.7" stroke="#444" stroke-width="0.6"/>
<line x1="569.7" y1="457.4" x2="573.7" y2="455.4" stroke="#222" stroke-width="0.8"/>
<line x1="569.3" y1="455.1" x2="573.3" y2="453.1" stroke="#444" stroke-width="0.6"/>
<line x1="569.1" y1="452.8" x2="573.1" y2="450.8" stroke="#222" stroke-width="0.8"/>
<line x1="569.3" y1="450.6" x2="573.3" y2="448.6" stroke="#444" stroke-width="0.6"/>
<line x1="569.7" y1="448.4" x2="573.7" y2="446.4" stroke="#222" stroke-width="0.8"/>
<line x1="570.4" y1="446.5" x2="574.4" y2="444.5" stroke="#444" stroke-width="0.6"/>
<line x1="571.3" y1="444.7" x2="575.3" y2="442.7" stroke="#222" stroke-width="0.8"/>
<line x1="572.5" y1="443.2" x2="576.5" y2="441.2" stroke="#444" stroke-width="0.6"/>
<line x1="573.9" y1="442.0" x2="577.9" y2="440.0" stroke="#222" stroke-width="0.8"/>
<line x1="575.5" y1="441.1" x2="579.5" y2="439.1" stroke="#444" stroke-width="0.6"/>
<line x1="577.2" y1="440.5" x2="581.2" y2="438.5" stroke="#222" stroke-width="0.8"/>
<line x1="579.0" y1="440.3" x2="583.0" y2="438.3" stroke="#444" stroke-width="0.6"/>
<line x1="580.9" y1="440.5" x2="584.9" y2="438.5" stroke="#222" stroke-width="0.8"/>
<line x1="582.8" y1="441.0" x2="586.8" y2="439.0" stroke="#444" stroke-width="0.6"/>
<line x1="584.6" y1="441.8" x2="588.6" y2="439.8" stroke="#222" stroke-width="0.8"/>
<line x1="586.3" y1="443.0" x2="590.3" y2="441.0" stroke="#444" stroke-width="0.6"/>
<line x1="587.9" y1="444.5" x2="591.9" y2="442.5" stroke="#222" stroke-width="0.8"/>
<line x1="589.3" y1="446.3" x2="593.3" y2="444.3" stroke="#444" stroke-width="0.6"/>
<line x1="590.6" y1="448.2" x2="594.6" y2="446.2" stroke="#222" stroke-width="0.8"/>
<line x1="591.5" y1="450.3" x2="595.5" y2="448.3" stroke="#444" stroke-width="0.6"/>
<ellipse cx="581.0" cy="455.0" rx="4.0" ry="5.2" transform="rotate(-18 581.0 455.0)" fill="#fff" stroke="#2a2a2a" stroke-width="1"/>
<polygon points="557.6,463.0 557.6,462.6 557.6,462.2 557.7,461.8 557.7,461.4 557.8,461.0 557.9,460.6 558.0,460.3 558.1,459.9 558.3,459.6 558.5,459.3 558.6,459.0 558.8,458.7 559.0,458.4 559.2,458.2 559.5,458.0 559.7,457.8 560.0,457.6 561.5,456.6 561.8,456.4 562.0,456.2 562.3,456.1 562.6,456.0 562.9,455.9 563.2,455.9 563.5,455.8 563.9,455.8 564.2,455.8 564.5,455.8 564.9,455.9 565.2,456.0 565.5,456.1 565.9,456.2 566.2,456.3 566.5,456.5 566.9,456.6 567.2,456.8 567.5,457.1 567.8,457.3 568.1,457.6 568.4,457.8 568.7,458.1 569.0,458.4 569.3,458.7 569.5,459.1 569.8,459.4 570.0,459.8 570.3,460.2 570.5,460.6 570.7,460.9 570.9,461.3 571.1,461.8 571.2,462.2 571.4,462.6 571.5,463.0 571.6,463.4 571.7,463.9 571.8,464.3 571.8,464.7 571.9,465.1 571.9,465.6 571.9,466.0 571.9,466.4 571.9,466.8 571.8,467.2 571.8,467.6 571.7,468.0 571.6,468.4 571.5,468.7 571.4,469.1 571.2,469.4 571.0,469.7 570.9,470.0 570.7,470.3 570.5,470.6 570.2,470.8 570.0,471.0 569.8,471.2 569.5,471.4 568.0,472.4 567.8,472.6 567.5,472.8 567.2,472.9 566.9,473.0 566.6,473.1 566.3,473.1 566.0,473.2 565.6,473.2 565.3,473.2 565.0,473.2 564.6,473.1 564.3,473.0 564.0,472.9 563.6,472.8 563.3,472.7 563.0,472.5 562.6,472.4 562.3,472.2 562.0,471.9 561.7,471.7 561.4,471.4 561.1,471.2 560.8,470.9 560.5,470.6 560.2,470.3 560.0,469.9 559.7,469.6 559.5,469.2 559.2,468.8 559.0,468.4 558.8,468.1 558.6,467.7 558.4,467.2 558.3,466.8 558.1,466.4 558.0,466.0 557.9,465.6 557.8,465.1 557.7,464.7 557.7,464.3 557.6,463.9 557.6,463.4" fill="#fff" stroke="#2a2a2a" stroke-width="1" stroke-linejoin="round"/>
<ellipse cx="564.0" cy="465.0" rx="6.0" ry="8.5" transform="rotate(-22 564.0 465.0)" fill="#fff" stroke="#2a2a2a" stroke-width="1"/>
<ellipse cx="564.0" cy="465.0" rx="3.3" ry="4.7" transform="rotate(-22 564.0 465.0)" fill="#fff" stroke="#2a2a2a" stroke-width="1"/>
<ellipse cx="523.0" cy="493.0" rx="3.3" ry="6.0" transform="rotate(-26.56505117707799 523.0 493.0)" fill="#fff" stroke="#2a2a2a" stroke-width="1"/>
<polygon points="513.7,504.4 525.7,498.4 520.3,487.6 508.3,493.6" fill="#fff" stroke="none"/>
<line x1="513.7" y1="504.4" x2="525.7" y2="498.4" stroke="#2a2a2a" stroke-width="1"/>
<line x1="508.3" y1="493.6" x2="520.3" y2="487.6" stroke="#2a2a2a" stroke-width="1"/>
<ellipse cx="511.0" cy="499.0" rx="3.3" ry="6.0" transform="rotate(-26.56505117707799 511.0 499.0)" fill="#fff" stroke="#2a2a2a" stroke-width="1"/>
<polygon points="492.6,502.0 492.6,501.6 492.6,501.2 492.7,500.8 492.7,500.4 492.8,500.0 492.9,499.6 493.0,499.3 493.1,498.9 493.3,498.6 493.5,498.3 493.6,498.0 493.8,497.7 494.0,497.4 494.2,497.2 494.5,497.0 494.7,496.8 495.0,496.6 496.5,495.6 496.8,495.4 497.0,495.2 497.3,495.1 497.6,495.0 497.9,494.9 498.2,494.9 498.5,494.8 498.9,494.8 499.2,494.8 499.5,494.8 499.9,494.9 500.2,495.0 500.5,495.1 500.9,495.2 501.2,495.3 501.5,495.5 501.9,495.6 502.2,495.8 502.5,496.1 502.8,496.3 503.1,496.6 503.4,496.8 503.7,497.1 504.0,497.4 504.3,497.7 504.6,498.1 504.8,498.4 505.1,498.8 505.3,499.2 505.5,499.6 505.7,499.9 505.9,500.3 506.1,500.8 506.2,501.2 506.4,501.6 506.5,502.0 506.6,502.4 506.7,502.9 506.8,503.3 506.8,503.7 506.9,504.1 506.9,504.6 506.9,505.0 506.9,505.4 506.9,505.8 506.8,506.2 506.8,506.6 506.7,507.0 506.6,507.4 506.5,507.7 506.4,508.1 506.2,508.4 506.0,508.7 505.9,509.0 505.7,509.3 505.5,509.6 505.2,509.8 505.0,510.0 504.8,510.2 504.5,510.4 503.0,511.4 502.8,511.6 502.5,511.8 502.2,511.9 501.9,512.0 501.6,512.1 501.3,512.1 501.0,512.2 500.6,512.2 500.3,512.2 500.0,512.2 499.6,512.1 499.3,512.0 499.0,511.9 498.6,511.8 498.3,511.7 498.0,511.5 497.6,511.4 497.3,511.2 497.0,510.9 496.7,510.7 496.4,510.4 496.1,510.2 495.8,509.9 495.5,509.6 495.2,509.3 494.9,508.9 494.7,508.6 494.4,508.2 494.2,507.8 494.0,507.4 493.8,507.1 493.6,506.7 493.4,506.2 493.3,505.8 493.1,505.4 493.0,505.0 492.9,504.6 492.8,504.1 492.7,503.7 492.7,503.3 492.6,502.9 492.6,502.4" fill="#fff" stroke="#2a2a2a" stroke-width="1" stroke-linejoin="round"/>
<ellipse cx="499.0" cy="504.0" rx="6.0" ry="8.5" transform="rotate(-22 499.0 504.0)" fill="#fff" stroke="#2a2a2a" stroke-width="1"/>
<ellipse cx="499.0" cy="504.0" rx="3.3" ry="4.7" transform="rotate(-22 499.0 504.0)" fill="#fff" stroke="#2a2a2a" stroke-width="1"/>
<polygon points="479.6,512.0 479.6,511.6 479.6,511.2 479.7,510.8 479.7,510.4 479.8,510.0 479.9,509.6 480.0,509.3 480.1,508.9 480.3,508.6 480.5,508.3 480.6,508.0 480.8,507.7 481.0,507.4 481.2,507.2 481.5,507.0 481.7,506.8 482.0,506.6 485.0,504.6 485.2,504.4 485.5,504.2 485.8,504.1 486.1,504.0 486.4,503.9 486.7,503.9 487.0,503.8 487.4,503.8 487.7,503.8 488.0,503.8 488.4,503.9 488.7,504.0 489.0,504.1 489.4,504.2 489.7,504.3 490.0,504.5 490.4,504.6 490.7,504.8 491.0,505.1 491.3,505.3 491.6,505.6 491.9,505.8 492.2,506.1 492.5,506.4 492.8,506.7 493.1,507.1 493.3,507.4 493.6,507.8 493.8,508.2 494.0,508.6 494.2,508.9 494.4,509.3 494.6,509.8 494.7,510.2 494.9,510.6 495.0,511.0 495.1,511.4 495.2,511.9 495.3,512.3 495.3,512.7 495.4,513.1 495.4,513.6 495.4,514.0 495.4,514.4 495.4,514.8 495.3,515.2 495.3,515.6 495.2,516.0 495.1,516.4 495.0,516.7 494.9,517.0 494.7,517.4 494.5,517.7 494.4,518.0 494.2,518.3 494.0,518.5 493.8,518.8 493.5,519.0 493.3,519.2 493.0,519.4 490.0,521.4 489.8,521.6 489.5,521.8 489.2,521.9 488.9,522.0 488.6,522.1 488.3,522.1 488.0,522.2 487.6,522.2 487.3,522.2 487.0,522.2 486.6,522.1 486.3,522.0 486.0,522.0 485.6,521.8 485.3,521.7 485.0,521.5 484.6,521.4 484.3,521.2 484.0,520.9 483.7,520.7 483.4,520.5 483.1,520.2 482.8,519.9 482.5,519.6 482.2,519.3 481.9,518.9 481.7,518.6 481.4,518.2 481.2,517.8 481.0,517.5 480.8,517.1 480.6,516.7 480.4,516.2 480.3,515.8 480.1,515.4 480.0,515.0 479.9,514.6 479.8,514.1 479.7,513.7 479.7,513.3 479.6,512.9 479.6,512.4" fill="#8a8a8a" stroke="#2a2a2a" stroke-width="1" stroke-linejoin="round"/>
<ellipse cx="489.0" cy="512.0" rx="6.0" ry="8.5" transform="rotate(-22 489.0 512.0)" fill="none" stroke="#2a2a2a" stroke-width="0.8"/>
<line x1="488.3" y1="522.1" x2="491.3" y2="520.1" stroke="#222" stroke-width="1.1"/>
<line x1="486.3" y1="522.0" x2="489.3" y2="520.0" stroke="#222" stroke-width="1.1"/>
<line x1="484.3" y1="521.2" x2="487.3" y2="519.2" stroke="#222" stroke-width="1.1"/>
<line x1="482.5" y1="519.6" x2="485.5" y2="517.6" stroke="#222" stroke-width="1.1"/>
<line x1="481.0" y1="517.5" x2="484.0" y2="515.5" stroke="#222" stroke-width="1.1"/>
<line x1="480.0" y1="515.0" x2="483.0" y2="513.0" stroke="#222" stroke-width="1.1"/>
<line x1="479.6" y1="512.4" x2="482.6" y2="510.4" stroke="#222" stroke-width="1.1"/>
<line x1="479.8" y1="510.0" x2="482.8" y2="508.0" stroke="#222" stroke-width="1.1"/>
<line x1="480.6" y1="508.0" x2="483.6" y2="506.0" stroke="#222" stroke-width="1.1"/>
<line x1="482.0" y1="506.6" x2="485.0" y2="504.6" stroke="#222" stroke-width="1.1"/>
<ellipse cx="486.0" cy="514.0" rx="6.0" ry="8.5" transform="rotate(-22 486.0 514.0)" fill="#9a9a9a" stroke="#2a2a2a" stroke-width="1"/>
<line x1="491.3" y1="511.9" x2="488.6" y2="512.9" stroke="#1a1a1a" stroke-width="1.2"/>
<line x1="492.1" y1="516.7" x2="489.0" y2="515.3" stroke="#1a1a1a" stroke-width="1.2"/>
<line x1="490.5" y1="520.5" x2="488.2" y2="517.2" stroke="#1a1a1a" stroke-width="1.2"/>
<line x1="487.2" y1="521.8" x2="486.6" y2="517.9" stroke="#1a1a1a" stroke-width="1.2"/>
<line x1="483.5" y1="520.1" x2="484.8" y2="517.0" stroke="#1a1a1a" stroke-width="1.2"/>
<line x1="480.7" y1="516.1" x2="483.4" y2="515.1" stroke="#1a1a1a" stroke-width="1.2"/>
<line x1="479.9" y1="511.3" x2="483.0" y2="512.7" stroke="#1a1a1a" stroke-width="1.2"/>
<line x1="481.5" y1="507.5" x2="483.8" y2="510.8" stroke="#1a1a1a" stroke-width="1.2"/>
<line x1="484.8" y1="506.2" x2="485.4" y2="510.1" stroke="#1a1a1a" stroke-width="1.2"/>
<line x1="488.5" y1="507.9" x2="487.2" y2="511.0" stroke="#1a1a1a" stroke-width="1.2"/>
<ellipse cx="486.0" cy="514.0" rx="2.7" ry="3.8" transform="rotate(-22 486.0 514.0)" fill="#fff" stroke="#2a2a2a" stroke-width="1"/>
<polygon points="481.0,519.8 481.2,520.6 479.7,521.3 480.0,522.8 481.7,523.2 481.8,524.0 481.9,524.9 480.1,524.9 480.1,526.3 481.7,527.4 481.6,528.2 481.5,529.0 479.7,528.4 479.3,529.6 480.7,531.2 480.4,531.9 480.0,532.5 478.4,531.2 477.7,532.2 478.7,534.2 478.2,534.7 477.7,535.1 476.4,533.3 475.4,533.9 475.9,536.1 475.3,536.3 474.7,536.5 473.8,534.4 472.7,534.5 472.7,536.7 472.0,536.7 471.3,536.6 471.0,534.3 469.9,534.0 469.3,536.0 468.6,535.7 468.0,535.3 468.2,533.2 467.1,532.4 466.1,534.0 465.5,533.5 464.9,532.9 465.6,531.0 464.7,529.9 463.3,530.9 462.8,530.2 462.4,529.5 463.6,528.1 463.0,526.8 461.3,527.1 461.0,526.2 460.8,525.4 462.3,524.7 462.0,523.2 460.3,522.8 460.2,522.0 460.1,521.1 461.9,521.1 461.9,519.7 460.3,518.6 460.4,517.8 460.5,517.0 462.3,517.6 462.7,516.4 461.3,514.8 461.6,514.1 462.0,513.5 463.6,514.8 464.3,513.8 463.3,511.8 463.8,511.3 464.3,510.9 465.6,512.7 466.6,512.1 466.1,509.9 466.7,509.7 467.3,509.5 468.2,511.6 469.3,511.5 469.3,509.3 470.0,509.3 470.7,509.4 471.0,511.7 472.1,512.0 472.7,510.0 473.4,510.3 474.0,510.7 473.8,512.8 474.9,513.6 475.9,512.0 476.5,512.5 477.1,513.1 476.4,515.0 477.3,516.1 478.7,515.1 479.2,515.8 479.6,516.5 478.4,517.9 479.0,519.2 480.7,518.9" fill="#c8c8c8" stroke="#2a2a2a" stroke-width="0.9" stroke-linejoin="round"/>
<polygon points="479.5,520.5 479.7,521.3 478.2,522.1 478.5,523.5 480.2,523.9 480.3,524.8 480.4,525.6 478.6,525.7 478.6,527.1 480.2,528.1 480.1,529.0 480.0,529.7 478.2,529.1 477.8,530.3 479.2,531.9 478.9,532.6 478.5,533.3 476.9,532.0 476.2,532.9 477.2,534.9 476.7,535.4 476.2,535.8 474.9,534.1 473.9,534.6 474.4,536.8 473.8,537.1 473.2,537.2 472.3,535.1 471.2,535.3 471.2,537.5 470.5,537.4 469.8,537.3 469.5,535.1 468.4,534.8 467.8,536.7 467.1,536.4 466.5,536.1 466.7,533.9 465.6,533.2 464.6,534.7 464.0,534.2 463.4,533.6 464.1,531.8 463.2,530.7 461.8,531.7 461.3,531.0 460.9,530.2 462.1,528.8 461.5,527.5 459.8,527.8 459.5,527.0 459.3,526.2 460.8,525.4 460.5,524.0 458.8,523.6 458.7,522.7 458.6,521.9 460.4,521.8 460.4,520.4 458.8,519.4 458.9,518.5 459.0,517.8 460.8,518.4 461.2,517.2 459.8,515.6 460.1,514.9 460.5,514.2 462.1,515.5 462.8,514.6 461.8,512.6 462.3,512.1 462.8,511.7 464.1,513.4 465.1,512.9 464.6,510.7 465.2,510.4 465.8,510.3 466.7,512.4 467.8,512.2 467.8,510.0 468.5,510.1 469.2,510.2 469.5,512.4 470.6,512.7 471.2,510.8 471.9,511.1 472.5,511.4 472.3,513.6 473.4,514.3 474.4,512.8 475.0,513.3 475.6,513.9 474.9,515.7 475.8,516.8 477.2,515.8 477.7,516.5 478.1,517.3 476.9,518.7 477.5,520.0 479.2,519.7" fill="#c8c8c8" stroke="#2a2a2a" stroke-width="0.9" stroke-linejoin="round"/>
<polygon points="478.0,521.3 478.2,522.1 476.7,522.8 477.0,524.3 478.7,524.7 478.8,525.5 478.9,526.4 477.1,526.4 477.1,527.8 478.7,528.9 478.6,529.7 478.5,530.5 476.7,529.9 476.3,531.1 477.7,532.7 477.4,533.4 477.0,534.0 475.4,532.7 474.7,533.7 475.7,535.7 475.2,536.2 474.7,536.6 473.4,534.8 472.4,535.4 472.9,537.6 472.3,537.8 471.7,538.0 470.8,535.9 469.7,536.0 469.7,538.2 469.0,538.2 468.3,538.1 468.0,535.8 466.9,535.5 466.3,537.5 465.6,537.2 465.0,536.8 465.2,534.7 464.1,533.9 463.1,535.5 462.5,535.0 461.9,534.4 462.6,532.5 461.7,531.4 460.3,532.4 459.8,531.7 459.4,531.0 460.6,529.6 460.0,528.3 458.3,528.6 458.0,527.7 457.8,526.9 459.3,526.2 459.0,524.7 457.3,524.3 457.2,523.5 457.1,522.6 458.9,522.6 458.9,521.2 457.3,520.1 457.4,519.3 457.5,518.5 459.3,519.1 459.7,517.9 458.3,516.3 458.6,515.6 459.0,515.0 460.6,516.3 461.3,515.3 460.3,513.3 460.8,512.8 461.3,512.4 462.6,514.2 463.6,513.6 463.1,511.4 463.7,511.2 464.3,511.0 465.2,513.1 466.3,513.0 466.3,510.8 467.0,510.8 467.7,510.9 468.0,513.2 469.1,513.5 469.7,511.5 470.4,511.8 471.0,512.2 470.8,514.3 471.9,515.1 472.9,513.5 473.5,514.0 474.1,514.6 473.4,516.5 474.3,517.6 475.7,516.6 476.2,517.3 476.6,518.0 475.4,519.4 476.0,520.7 477.7,520.4" fill="#c8c8c8" stroke="#2a2a2a" stroke-width="0.9" stroke-linejoin="round"/>
<polygon points="476.5,522.0 476.7,522.8 475.2,523.6 475.5,525.0 477.2,525.4 477.3,526.3 477.4,527.1 475.6,527.2 475.6,528.6 477.2,529.6 477.1,530.5 477.0,531.2 475.2,530.6 474.8,531.8 476.2,533.4 475.9,534.1 475.5,534.8 473.9,533.5 473.2,534.4 474.2,536.4 473.7,536.9 473.2,537.3 471.9,535.6 470.9,536.1 471.4,538.3 470.8,538.6 470.2,538.7 469.3,536.6 468.2,536.8 468.2,539.0 467.5,538.9 466.8,538.8 466.5,536.6 465.4,536.3 464.8,538.2 464.1,537.9 463.5,537.6 463.7,535.4 462.6,534.7 461.6,536.2 461.0,535.7 460.4,535.1 461.1,533.3 460.2,532.2 458.8,533.2 458.3,532.5 457.9,531.7 459.1,530.3 458.5,529.0 456.8,529.3 456.5,528.5 456.3,527.7 457.8,526.9 457.5,525.5 455.8,525.1 455.7,524.2 455.6,523.4 457.4,523.3 457.4,521.9 455.8,520.9 455.9,520.0 456.0,519.3 457.8,519.9 458.2,518.7 456.8,517.1 457.1,516.4 457.5,515.7 459.1,517.0 459.8,516.1 458.8,514.1 459.3,513.6 459.8,513.2 461.1,514.9 462.1,514.4 461.6,512.2 462.2,511.9 462.8,511.8 463.7,513.9 464.8,513.7 464.8,511.5 465.5,511.6 466.2,511.7 466.5,513.9 467.6,514.2 468.2,512.3 468.9,512.6 469.5,512.9 469.3,515.1 470.4,515.8 471.4,514.3 472.0,514.8 472.6,515.4 471.9,517.2 472.8,518.3 474.2,517.3 474.7,518.0 475.1,518.8 473.9,520.2 474.5,521.5 476.2,521.2" fill="#c8c8c8" stroke="#2a2a2a" stroke-width="0.9" stroke-linejoin="round"/>
<polygon points="475.0,522.8 475.2,523.6 473.7,524.3 474.0,525.8 475.7,526.2 475.8,527.0 475.9,527.9 474.1,527.9 474.1,529.3 475.7,530.4 475.6,531.2 475.5,532.0 473.7,531.4 473.3,532.6 474.7,534.2 474.4,534.9 474.0,535.5 472.4,534.2 471.7,535.2 472.7,537.2 472.2,537.7 471.7,538.1 470.4,536.3 469.4,536.9 469.9,539.1 469.3,539.3 468.7,539.5 467.8,537.4 466.7,537.5 466.7,539.7 466.0,539.7 465.3,539.6 465.0,537.3 463.9,537.0 463.3,539.0 462.6,538.7 462.0,538.3 462.2,536.2 461.1,535.4 460.1,537.0 459.5,536.5 458.9,535.9 459.6,534.0 458.7,532.9 457.3,533.9 456.8,533.2 456.4,532.5 457.6,531.1 457.0,529.8 455.3,530.1 455.0,529.2 454.8,528.4 456.3,527.7 456.0,526.2 454.3,525.8 454.2,525.0 454.1,524.1 455.9,524.1 455.9,522.7 454.3,521.6 454.4,520.8 454.5,520.0 456.3,520.6 456.7,519.4 455.3,517.8 455.6,517.1 456.0,516.5 457.6,517.8 458.3,516.8 457.3,514.8 457.8,514.3 458.3,513.9 459.6,515.7 460.6,515.1 460.1,512.9 460.7,512.7 461.3,512.5 462.2,514.6 463.3,514.5 463.3,512.3 464.0,512.3 464.7,512.4 465.0,514.7 466.1,515.0 466.7,513.0 467.4,513.3 468.0,513.7 467.8,515.8 468.9,516.6 469.9,515.0 470.5,515.5 471.1,516.1 470.4,518.0 471.3,519.1 472.7,518.1 473.2,518.8 473.6,519.5 472.4,520.9 473.0,522.2 474.7,521.9" fill="#e8e8e8" stroke="#2a2a2a" stroke-width="0.9" stroke-linejoin="round"/>
<line x1="475.3" y1="523.8" x2="481.3" y2="520.8" stroke="#222" stroke-width="0.8"/>
<line x1="475.7" y1="526.0" x2="481.7" y2="523.0" stroke="#444" stroke-width="0.6"/>
<line x1="475.9" y1="528.1" x2="481.9" y2="525.1" stroke="#222" stroke-width="0.8"/>
<line x1="475.8" y1="530.2" x2="481.8" y2="527.2" stroke="#444" stroke-width="0.6"/>
<line x1="475.4" y1="532.2" x2="481.4" y2="529.2" stroke="#222" stroke-width="0.8"/>
<line x1="474.8" y1="534.0" x2="480.8" y2="531.0" stroke="#444" stroke-width="0.6"/>
<line x1="473.9" y1="535.7" x2="479.9" y2="532.7" stroke="#222" stroke-width="0.8"/>
<line x1="472.8" y1="537.1" x2="478.8" y2="534.1" stroke="#444" stroke-width="0.6"/>
<line x1="471.5" y1="538.2" x2="477.5" y2="535.2" stroke="#222" stroke-width="0.8"/>
<line x1="470.1" y1="539.0" x2="476.1" y2="536.0" stroke="#444" stroke-width="0.6"/>
<line x1="468.5" y1="539.5" x2="474.5" y2="536.5" stroke="#222" stroke-width="0.8"/>
<line x1="466.9" y1="539.7" x2="472.9" y2="536.7" stroke="#444" stroke-width="0.6"/>
<line x1="465.2" y1="539.5" x2="471.2" y2="536.5" stroke="#222" stroke-width="0.8"/>
<line x1="463.5" y1="539.0" x2="469.5" y2="536.0" stroke="#444" stroke-width="0.6"/>
<line x1="461.8" y1="538.2" x2="467.8" y2="535.2" stroke="#222" stroke-width="0.8"/>
<line x1="460.2" y1="537.1" x2="466.2" y2="534.1" stroke="#444" stroke-width="0.6"/>
<line x1="458.7" y1="535.7" x2="464.7" y2="532.7" stroke="#222" stroke-width="0.8"/>
<line x1="457.4" y1="534.1" x2="463.4" y2="531.1" stroke="#444" stroke-width="0.6"/>
<line x1="456.3" y1="532.3" x2="462.3" y2="529.3" stroke="#222" stroke-width="0.8"/>
<line x1="455.4" y1="530.3" x2="461.4" y2="527.3" stroke="#444" stroke-width="0.6"/>
<line x1="454.7" y1="528.2" x2="460.7" y2="525.2" stroke="#222" stroke-width="0.8"/>
<line x1="454.3" y1="526.0" x2="460.3" y2="523.0" stroke="#444" stroke-width="0.6"/>
<line x1="454.1" y1="523.9" x2="460.1" y2="520.9" stroke="#222" stroke-width="0.8"/>
<line x1="454.2" y1="521.8" x2="460.2" y2="518.8" stroke="#444" stroke-width="0.6"/>
<line x1="454.6" y1="519.8" x2="460.6" y2="516.8" stroke="#222" stroke-width="0.8"/>
<line x1="455.2" y1="518.0" x2="461.2" y2="515.0" stroke="#444" stroke-width="0.6"/>
<line x1="456.1" y1="516.3" x2="462.1" y2="513.3" stroke="#222" stroke-width="0.8"/>
<line x1="457.2" y1="514.9" x2="463.2" y2="511.9" stroke="#444" stroke-width="0.6"/>
<line x1="458.5" y1="513.8" x2="464.5" y2="510.8" stroke="#222" stroke-width="0.8"/>
<line x1="459.9" y1="513.0" x2="465.9" y2="510.0" stroke="#444" stroke-width="0.6"/>
<line x1="461.5" y1="512.5" x2="467.5" y2="509.5" stroke="#222" stroke-width="0.8"/>
<line x1="463.1" y1="512.3" x2="469.1" y2="509.3" stroke="#444" stroke-width="0.6"/>
<line x1="464.8" y1="512.5" x2="470.8" y2="509.5" stroke="#222" stroke-width="0.8"/>
<line x1="466.5" y1="513.0" x2="472.5" y2="510.0" stroke="#444" stroke-width="0.6"/>
<line x1="468.2" y1="513.8" x2="474.2" y2="510.8" stroke="#222" stroke-width="0.8"/>
<line x1="469.8" y1="514.9" x2="475.8" y2="511.9" stroke="#444" stroke-width="0.6"/>
<line x1="471.3" y1="516.3" x2="477.3" y2="513.3" stroke="#222" stroke-width="0.8"/>
<line x1="472.6" y1="517.9" x2="478.6" y2="514.9" stroke="#444" stroke-width="0.6"/>
<line x1="473.7" y1="519.7" x2="479.7" y2="516.7" stroke="#222" stroke-width="0.8"/>
<line x1="474.6" y1="521.7" x2="480.6" y2="518.7" stroke="#444" stroke-width="0.6"/>
<ellipse cx="465.0" cy="526.0" rx="4.7" ry="6.3" transform="rotate(-18 465.0 526.0)" fill="#fff" stroke="#2a2a2a" stroke-width="1"/>
<polygon points="440.7,532.6 440.7,532.2 440.7,531.8 440.8,531.3 440.8,530.9 440.9,530.5 441.0,530.1 441.1,529.8 441.2,529.4 441.4,529.1 441.6,528.7 441.7,528.4 441.9,528.1 442.1,527.8 442.4,527.5 442.6,527.3 442.9,527.0 443.1,526.8 443.4,526.6 444.9,525.6 445.2,525.4 445.5,525.3 445.8,525.1 446.1,525.0 446.5,524.9 446.8,524.8 447.1,524.8 447.5,524.8 447.8,524.8 448.2,524.8 448.5,524.8 448.9,524.9 449.3,525.0 449.6,525.1 450.0,525.2 450.3,525.3 450.7,525.5 451.0,525.7 451.4,525.9 451.7,526.1 452.0,526.4 452.3,526.7 452.6,527.0 452.9,527.2 453.2,527.6 453.5,527.9 453.8,528.2 454.0,528.6 454.2,529.0 454.4,529.4 454.7,529.8 454.9,530.2 455.0,530.6 455.2,531.0 455.3,531.4 455.4,531.8 455.6,532.3 455.6,532.7 455.7,533.1 455.8,533.5 455.8,534.0 455.8,534.4 455.8,534.8 455.8,535.2 455.8,535.7 455.7,536.1 455.6,536.5 455.5,536.9 455.4,537.2 455.3,537.6 455.1,537.9 454.9,538.3 454.8,538.6 454.6,538.9 454.4,539.2 454.1,539.5 453.9,539.7 453.6,540.0 453.4,540.2 453.1,540.4 451.6,541.4 451.3,541.6 451.0,541.7 450.7,541.9 450.4,542.0 450.0,542.1 449.7,542.2 449.4,542.2 449.0,542.2 448.7,542.2 448.3,542.2 448.0,542.2 447.6,542.1 447.2,542.0 446.9,541.9 446.5,541.8 446.2,541.7 445.8,541.5 445.5,541.3 445.1,541.1 444.8,540.9 444.5,540.6 444.2,540.3 443.9,540.0 443.6,539.8 443.3,539.4 443.0,539.1 442.8,538.8 442.5,538.4 442.3,538.0 442.1,537.6 441.8,537.2 441.6,536.8 441.5,536.4 441.3,536.0 441.2,535.6 441.1,535.2 440.9,534.7 440.9,534.3 440.8,533.9 440.7,533.5 440.7,533.0" fill="#fff" stroke="#2a2a2a" stroke-width="1" stroke-linejoin="round"/>
<ellipse cx="447.5" cy="534.0" rx="6.5" ry="8.5" transform="rotate(-22 447.5 534.0)" fill="#fff" stroke="#2a2a2a" stroke-width="1"/>
<ellipse cx="447.5" cy="534.0" rx="3.6" ry="4.7" transform="rotate(-22 447.5 534.0)" fill="#fff" stroke="#2a2a2a" stroke-width="1"/>
<ellipse cx="400.0" cy="506.0" rx="1.3" ry="2.4" transform="rotate(-3.0127875041833403 400.0 506.0)" fill="#fff" stroke="#2a2a2a" stroke-width="1"/>
<polygon points="381.1,509.4 400.1,508.4 399.9,503.6 380.9,504.6" fill="#fff" stroke="none"/>
<line x1="381.1" y1="509.4" x2="400.1" y2="508.4" stroke="#2a2a2a" stroke-width="1"/>
<line x1="380.9" y1="504.6" x2="399.9" y2="503.6" stroke="#2a2a2a" stroke-width="1"/>
<ellipse cx="381.0" cy="507.0" rx="1.3" ry="2.4" transform="rotate(-3.0127875041833403 381.0 507.0)" fill="#fff" stroke="#2a2a2a" stroke-width="1"/>
<polygon points="304.0,507.8 304.0,505.9 304.1,504.0 304.2,502.2 304.5,500.4 304.8,498.7 305.2,497.0 305.7,495.4 306.2,493.8 306.9,492.3 307.5,490.8 308.3,489.4 309.1,488.1 310.0,486.9 310.9,485.7 311.9,484.6 313.0,483.7 314.1,482.8 315.2,482.0 316.4,481.2 317.6,480.6 318.9,480.1 342.9,471.1 344.2,470.7 345.6,470.4 347.0,470.1 348.4,470.0 349.8,470.0 351.2,470.1 352.7,470.2 354.1,470.5 355.6,470.9 357.1,471.4 358.6,472.0 360.0,472.6 361.5,473.4 362.9,474.3 364.3,475.2 365.7,476.3 367.1,477.4 368.4,478.6 369.7,479.9 370.9,481.2 372.2,482.7 373.4,484.1 374.5,485.7 375.6,487.3 376.6,489.0 377.6,490.7 378.5,492.5 379.3,494.3 380.1,496.1 380.8,498.0 381.5,499.9 382.0,501.8 382.6,503.7 383.0,505.6 383.3,507.6 383.6,509.5 383.8,511.4 384.0,513.4 384.0,515.2 384.0,517.1 383.9,519.0 383.8,520.8 383.5,522.6 383.2,524.3 382.8,526.0 382.3,527.6 381.8,529.2 381.1,530.7 380.5,532.2 379.7,533.6 378.9,534.9 378.0,536.1 377.1,537.3 376.1,538.4 375.0,539.3 373.9,540.2 372.8,541.0 371.6,541.8 370.4,542.4 369.1,542.9 345.1,551.9 343.8,552.3 342.4,552.6 341.0,552.9 339.6,553.0 338.2,553.0 336.8,552.9 335.3,552.8 333.9,552.5 332.4,552.1 330.9,551.6 329.4,551.0 328.0,550.4 326.5,549.6 325.1,548.7 323.7,547.8 322.3,546.7 320.9,545.6 319.6,544.4 318.3,543.1 317.1,541.8 315.8,540.3 314.6,538.9 313.5,537.3 312.4,535.7 311.4,534.0 310.4,532.3 309.5,530.5 308.7,528.7 307.9,526.9 307.2,525.0 306.5,523.1 306.0,521.2 305.4,519.3 305.0,517.4 304.7,515.4 304.4,513.5 304.2,511.6 304.0,509.6" fill="#fff" stroke="#2a2a2a" stroke-width="1" stroke-linejoin="round"/>
<path d="M330,474 L338,471 L339,474 L331,477 Z" fill="none" stroke="#2a2a2a" stroke-width="0.9" stroke-linejoin="round" stroke-linecap="round"/>
<path d="M347,483 L358,482 L356,493 Z M364,541 L372,536 L373,546 Z M360,503 Q366,498 372,504 Q376,516 370,521 Q362,519 360,503 Z" fill="none" stroke="#2a2a2a" stroke-width="0.9" stroke-linejoin="round" stroke-linecap="round"/>
<ellipse cx="366.0" cy="512.0" rx="3.0" ry="6.0" transform="rotate(-20 366.0 512.0)" fill="none" stroke="#2a2a2a" stroke-width="0.8"/>
<ellipse cx="332.0" cy="516.0" rx="26.4" ry="38.2" transform="rotate(-20 332.0 516.0)" fill="#fff" stroke="#2a2a2a" stroke-width="1"/>
<polygon points="348.2,516.6 348.5,517.5 346.6,518.5 347.0,520.0 349.2,520.0 349.5,520.9 349.6,521.7 347.6,522.3 347.8,523.9 350.1,524.3 350.2,525.1 350.3,526.0 348.1,526.2 348.1,527.7 350.4,528.5 350.3,529.4 350.3,530.2 348.1,530.0 347.9,531.5 350.1,532.7 350.0,533.5 349.8,534.3 347.6,533.6 347.2,535.0 349.3,536.7 349.1,537.4 348.8,538.1 346.6,537.1 346.1,538.3 347.9,540.3 347.6,541.0 347.3,541.6 345.2,540.2 344.5,541.3 346.1,543.5 345.7,544.1 345.3,544.7 343.3,542.9 342.5,543.8 343.9,546.3 343.4,546.8 342.8,547.2 341.1,545.1 340.1,545.8 341.2,548.5 340.6,548.8 340.0,549.2 338.6,546.8 337.5,547.3 338.2,550.1 337.6,550.3 336.9,550.5 335.8,548.0 334.6,548.3 335.0,551.0 334.3,551.1 333.6,551.2 332.8,548.5 331.5,548.6 331.6,551.3 330.9,551.3 330.2,551.2 329.6,548.5 328.4,548.3 328.1,550.9 327.4,550.8 326.7,550.6 326.5,547.8 325.2,547.4 324.6,549.9 323.9,549.6 323.2,549.3 323.4,546.6 322.1,546.0 321.2,548.2 320.5,547.8 319.8,547.4 320.4,544.8 319.2,544.0 317.9,545.9 317.3,545.4 316.7,544.9 317.5,542.5 316.5,541.5 314.9,543.1 314.3,542.5 313.8,541.9 315.0,539.8 314.0,538.6 312.2,539.8 311.7,539.1 311.3,538.4 312.7,536.6 311.9,535.3 309.9,536.2 309.5,535.4 309.2,534.6 310.9,533.2 310.2,531.7 308.1,532.2 307.8,531.4 307.5,530.5 309.4,529.5 309.0,528.0 306.8,528.0 306.5,527.1 306.4,526.3 308.4,525.7 308.2,524.1 305.9,523.7 305.8,522.9 305.7,522.0 307.9,521.8 307.9,520.3 305.6,519.5 305.7,518.6 305.7,517.8 307.9,518.0 308.1,516.5 305.9,515.3 306.0,514.5 306.2,513.7 308.4,514.4 308.8,513.0 306.7,511.3 306.9,510.6 307.2,509.9 309.4,510.9 309.9,509.7 308.1,507.7 308.4,507.0 308.7,506.4 310.8,507.8 311.5,506.7 309.9,504.5 310.3,503.9 310.7,503.3 312.7,505.1 313.5,504.2 312.1,501.7 312.6,501.2 313.2,500.8 314.9,502.9 315.9,502.2 314.8,499.5 315.4,499.2 316.0,498.8 317.4,501.2 318.5,500.7 317.8,497.9 318.4,497.7 319.1,497.5 320.2,500.0 321.4,499.7 321.0,497.0 321.7,496.9 322.4,496.8 323.2,499.5 324.5,499.4 324.4,496.7 325.1,496.7 325.8,496.8 326.4,499.5 327.6,499.7 327.9,497.1 328.6,497.2 329.3,497.4 329.5,500.2 330.8,500.6 331.4,498.1 332.1,498.4 332.8,498.7 332.6,501.4 333.9,502.0 334.8,499.8 335.5,500.2 336.2,500.6 335.6,503.2 336.8,504.0 338.1,502.1 338.7,502.6 339.3,503.1 338.5,505.5 339.5,506.5 341.1,504.9 341.7,505.5 342.2,506.1 341.0,508.2 342.0,509.4 343.8,508.2 344.3,508.9 344.7,509.6 343.3,511.4 344.1,512.7 346.1,511.8 346.5,512.6 346.8,513.4 345.1,514.8 345.8,516.3 347.9,515.8" fill="#999" stroke="#2a2a2a" stroke-width="1" stroke-linejoin="round"/>
<polygon points="347.3,517.0 347.5,517.8 345.7,518.8 346.1,520.2 348.3,520.2 348.5,521.0 348.7,521.9 346.7,522.5 346.9,523.9 349.1,524.3 349.2,525.2 349.3,526.0 347.2,526.2 347.2,527.6 349.4,528.5 349.4,529.3 349.3,530.1 347.2,529.8 347.1,531.3 349.1,532.5 349.0,533.2 348.9,534.0 346.7,533.4 346.4,534.7 348.4,536.3 348.2,537.0 347.9,537.7 345.8,536.6 345.3,537.9 347.1,539.8 346.8,540.4 346.5,541.0 344.5,539.6 343.8,540.7 345.4,542.9 345.0,543.4 344.6,544.0 342.7,542.2 341.9,543.1 343.2,545.5 342.7,546.0 342.2,546.4 340.6,544.4 339.7,545.1 340.7,547.6 340.1,548.0 339.6,548.3 338.2,546.0 337.1,546.5 337.8,549.1 337.2,549.4 336.6,549.6 335.5,547.1 334.4,547.4 334.7,550.1 334.1,550.2 333.5,550.2 332.6,547.6 331.4,547.7 331.5,550.3 330.8,550.3 330.2,550.2 329.6,547.6 328.4,547.4 328.2,549.9 327.5,549.8 326.8,549.6 326.6,547.0 325.4,546.5 324.8,548.9 324.1,548.6 323.5,548.3 323.6,545.8 322.5,545.1 321.5,547.3 320.9,546.9 320.3,546.5 320.8,544.0 319.7,543.2 318.4,545.1 317.8,544.6 317.3,544.1 318.1,541.8 317.1,540.8 315.6,542.4 315.0,541.8 314.5,541.1 315.6,539.1 314.7,538.0 313.0,539.2 312.5,538.5 312.1,537.8 313.5,536.1 312.7,534.8 310.8,535.6 310.4,534.9 310.0,534.1 311.7,532.8 311.1,531.4 309.0,531.8 308.7,531.0 308.5,530.2 310.3,529.2 309.9,527.8 307.7,527.8 307.5,527.0 307.3,526.1 309.3,525.5 309.1,524.1 306.9,523.7 306.8,522.8 306.7,522.0 308.8,521.8 308.8,520.4 306.6,519.5 306.6,518.7 306.7,517.9 308.8,518.2 308.9,516.7 306.9,515.5 307.0,514.8 307.1,514.0 309.3,514.6 309.6,513.3 307.6,511.7 307.8,511.0 308.1,510.3 310.2,511.4 310.7,510.1 308.9,508.2 309.2,507.6 309.5,507.0 311.5,508.4 312.2,507.3 310.6,505.1 311.0,504.6 311.4,504.0 313.3,505.8 314.1,504.9 312.8,502.5 313.3,502.0 313.8,501.6 315.4,503.6 316.3,502.9 315.3,500.4 315.9,500.0 316.4,499.7 317.8,502.0 318.9,501.5 318.2,498.9 318.8,498.6 319.4,498.4 320.5,500.9 321.6,500.6 321.3,497.9 321.9,497.8 322.5,497.8 323.4,500.4 324.6,500.3 324.5,497.7 325.2,497.7 325.8,497.8 326.4,500.4 327.6,500.6 327.8,498.1 328.5,498.2 329.2,498.4 329.4,501.0 330.6,501.5 331.2,499.1 331.9,499.4 332.5,499.7 332.4,502.2 333.5,502.9 334.5,500.7 335.1,501.1 335.7,501.5 335.2,504.0 336.3,504.8 337.6,502.9 338.2,503.4 338.7,503.9 337.9,506.2 338.9,507.2 340.4,505.6 341.0,506.2 341.5,506.9 340.4,508.9 341.3,510.0 343.0,508.8 343.5,509.5 343.9,510.2 342.5,511.9 343.3,513.2 345.2,512.4 345.6,513.1 346.0,513.9 344.3,515.2 344.9,516.6 347.0,516.2" fill="none" stroke="#2a2a2a" stroke-width="0.6" stroke-linejoin="round"/>
<polygon points="348.1,516.5 348.4,517.3 346.6,518.2 347.0,519.7 349.1,519.7 349.3,520.5 349.5,521.3 347.5,521.8 347.8,523.3 349.9,523.7 350.0,524.5 350.1,525.3 348.0,525.5 348.1,526.9 350.2,527.7 350.2,528.5 350.1,529.3 348.0,529.0 347.9,530.4 349.9,531.6 349.8,532.4 349.7,533.1 347.6,532.5 347.3,533.8 349.2,535.3 349.0,536.0 348.8,536.7 346.7,535.7 346.3,536.9 348.0,538.7 347.7,539.4 347.4,540.0 345.4,538.6 344.8,539.7 346.3,541.8 345.9,542.3 345.5,542.8 343.7,541.1 343.0,542.0 344.2,544.3 343.8,544.8 343.3,545.2 341.7,543.2 340.8,543.9 341.8,546.4 341.2,546.7 340.7,547.1 339.3,544.8 338.3,545.3 339.0,547.9 338.4,548.1 337.8,548.3 336.7,545.9 335.6,546.2 336.0,548.8 335.4,548.9 334.8,548.9 333.9,546.4 332.8,546.5 332.9,549.0 332.2,549.0 331.6,548.9 331.1,546.4 329.9,546.2 329.6,548.6 329.0,548.5 328.3,548.3 328.1,545.7 327.0,545.3 326.4,547.6 325.7,547.4 325.1,547.1 325.2,544.6 324.1,543.9 323.2,546.0 322.6,545.7 321.9,545.2 322.4,542.9 321.3,542.0 320.2,543.9 319.6,543.4 319.0,542.9 319.8,540.7 318.8,539.7 317.4,541.2 316.8,540.6 316.3,540.0 317.4,538.1 316.5,536.9 314.9,538.1 314.4,537.4 314.0,536.8 315.3,535.1 314.6,533.8 312.7,534.6 312.3,533.9 312.0,533.2 313.6,531.8 313.0,530.5 311.0,530.9 310.7,530.1 310.4,529.3 312.2,528.4 311.8,526.9 309.7,526.9 309.5,526.1 309.3,525.3 311.3,524.8 311.0,523.3 308.9,522.9 308.8,522.1 308.7,521.3 310.8,521.1 310.7,519.7 308.6,518.9 308.6,518.1 308.7,517.3 310.8,517.6 310.9,516.2 308.9,515.0 309.0,514.2 309.1,513.5 311.2,514.1 311.5,512.8 309.6,511.3 309.8,510.6 310.0,509.9 312.1,510.9 312.5,509.7 310.8,507.9 311.1,507.2 311.4,506.6 313.4,508.0 314.0,506.9 312.5,504.8 312.9,504.3 313.3,503.8 315.1,505.5 315.8,504.6 314.6,502.3 315.0,501.8 315.5,501.4 317.1,503.4 318.0,502.7 317.0,500.2 317.6,499.9 318.1,499.5 319.5,501.8 320.5,501.3 319.8,498.7 320.4,498.5 321.0,498.3 322.1,500.7 323.2,500.4 322.8,497.8 323.4,497.7 324.0,497.7 324.9,500.2 326.0,500.1 325.9,497.6 326.6,497.6 327.2,497.7 327.7,500.2 328.9,500.4 329.2,498.0 329.8,498.1 330.5,498.3 330.7,500.9 331.8,501.3 332.4,499.0 333.1,499.2 333.7,499.5 333.6,502.0 334.7,502.7 335.6,500.6 336.2,500.9 336.9,501.4 336.4,503.7 337.5,504.6 338.6,502.7 339.2,503.2 339.8,503.7 339.0,505.9 340.0,506.9 341.4,505.4 342.0,506.0 342.5,506.6 341.4,508.5 342.3,509.7 343.9,508.5 344.4,509.2 344.8,509.8 343.5,511.5 344.2,512.8 346.1,512.0 346.5,512.7 346.8,513.4 345.2,514.8 345.8,516.1 347.8,515.7" fill="none" stroke="#2a2a2a" stroke-width="0.6" stroke-linejoin="round"/>
<polygon points="348.9,516.0 349.2,516.8 347.5,517.7 347.9,519.1 349.9,519.1 350.1,519.9 350.3,520.7 348.4,521.2 348.6,522.6 350.7,523.0 350.8,523.8 350.9,524.6 348.9,524.8 348.9,526.2 351.0,526.9 351.0,527.7 350.9,528.5 348.9,528.3 348.8,529.6 350.8,530.8 350.7,531.5 350.5,532.2 348.5,531.6 348.2,532.9 350.1,534.4 349.9,535.1 349.6,535.8 347.7,534.7 347.2,535.9 348.9,537.7 348.6,538.3 348.3,538.9 346.4,537.6 345.8,538.6 347.3,540.7 346.9,541.2 346.5,541.7 344.8,540.0 344.0,540.9 345.2,543.2 344.8,543.6 344.3,544.0 342.8,542.1 341.9,542.8 342.9,545.2 342.4,545.5 341.8,545.8 340.5,543.6 339.5,544.1 340.2,546.6 339.6,546.8 339.1,547.0 338.0,544.7 336.9,544.9 337.3,547.5 336.7,547.6 336.1,547.7 335.3,545.2 334.2,545.2 334.2,547.7 333.6,547.7 333.0,547.6 332.5,545.1 331.3,544.9 331.1,547.3 330.4,547.2 329.8,547.0 329.6,544.5 328.5,544.1 327.9,546.4 327.3,546.1 326.7,545.8 326.8,543.3 325.7,542.7 324.8,544.8 324.2,544.4 323.6,544.0 324.1,541.7 323.0,540.9 321.9,542.7 321.3,542.2 320.8,541.7 321.5,539.5 320.6,538.6 319.2,540.1 318.6,539.5 318.1,538.9 319.2,537.0 318.3,535.9 316.7,537.0 316.3,536.4 315.8,535.7 317.2,534.1 316.4,532.8 314.6,533.6 314.3,532.9 313.9,532.2 315.4,530.9 314.9,529.6 313.0,530.0 312.7,529.2 312.4,528.4 314.1,527.5 313.7,526.1 311.7,526.1 311.5,525.3 311.3,524.5 313.2,524.0 313.0,522.6 310.9,522.2 310.8,521.4 310.7,520.6 312.7,520.4 312.7,519.0 310.6,518.3 310.6,517.5 310.7,516.7 312.7,516.9 312.8,515.6 310.8,514.4 310.9,513.7 311.1,513.0 313.1,513.6 313.4,512.3 311.5,510.8 311.7,510.1 312.0,509.4 313.9,510.5 314.4,509.3 312.7,507.5 313.0,506.9 313.3,506.3 315.2,507.6 315.8,506.6 314.3,504.5 314.7,504.0 315.1,503.5 316.8,505.2 317.6,504.3 316.4,502.0 316.8,501.6 317.3,501.2 318.8,503.1 319.7,502.4 318.7,500.0 319.2,499.7 319.8,499.4 321.1,501.6 322.1,501.1 321.4,498.6 322.0,498.4 322.5,498.2 323.6,500.5 324.7,500.3 324.3,497.7 324.9,497.6 325.5,497.5 326.3,500.0 327.4,500.0 327.4,497.5 328.0,497.5 328.6,497.6 329.1,500.1 330.3,500.3 330.5,497.9 331.2,498.0 331.8,498.2 332.0,500.7 333.1,501.1 333.7,498.8 334.3,499.1 334.9,499.4 334.8,501.9 335.9,502.5 336.8,500.4 337.4,500.8 338.0,501.2 337.5,503.5 338.6,504.3 339.7,502.5 340.3,503.0 340.8,503.5 340.1,505.7 341.0,506.6 342.4,505.1 343.0,505.7 343.5,506.3 342.4,508.2 343.3,509.3 344.9,508.2 345.3,508.8 345.8,509.5 344.4,511.1 345.2,512.4 347.0,511.6 347.3,512.3 347.7,513.0 346.2,514.3 346.7,515.6 348.6,515.2" fill="none" stroke="#2a2a2a" stroke-width="0.6" stroke-linejoin="round"/>
<ellipse cx="329.0" cy="523.5" rx="15.5" ry="20.0" transform="rotate(-20 329.0 523.5)" fill="#fff" stroke="#2a2a2a" stroke-width="1"/>
<ellipse cx="330.0" cy="522.0" rx="9.0" ry="12.5" transform="rotate(-20 330.0 522.0)" fill="#fff" stroke="#2a2a2a" stroke-width="1"/>
<ellipse cx="331.0" cy="521.0" rx="6.0" ry="8.5" transform="rotate(-20 331.0 521.0)" fill="#fff" stroke="#2a2a2a" stroke-width="1"/>
<ellipse cx="313" cy="493.5" rx="2.5" ry="4" transform="rotate(-20 313 493.5)" fill="#fff" stroke="#2a2a2a" stroke-width="0.9"/><ellipse cx="315.5" cy="522.5" rx="2" ry="4" fill="#fff" stroke="#2a2a2a" stroke-width="0.9"/><ellipse cx="352.5" cy="516" rx="2.5" ry="4" fill="#fff" stroke="#2a2a2a" stroke-width="0.9"/>
<ellipse cx="418.0" cy="551.0" rx="3.6" ry="6.5" transform="rotate(-26.56505117707799 418.0 551.0)" fill="#fff" stroke="#2a2a2a" stroke-width="1"/>
<polygon points="398.9,567.8 420.9,556.8 415.1,545.2 393.1,556.2" fill="#fff" stroke="none"/>
<line x1="398.9" y1="567.8" x2="420.9" y2="556.8" stroke="#2a2a2a" stroke-width="1"/>
<line x1="393.1" y1="556.2" x2="415.1" y2="545.2" stroke="#2a2a2a" stroke-width="1"/>
<ellipse cx="396.0" cy="562.0" rx="3.6" ry="6.5" transform="rotate(-26.56505117707799 396.0 562.0)" fill="#fff" stroke="#2a2a2a" stroke-width="1"/>
<polygon points="375.5,568.6 375.5,568.1 375.6,567.7 375.6,567.2 375.7,566.7 375.8,566.3 375.9,565.9 376.0,565.4 376.1,565.0 376.3,564.6 376.5,564.3 376.7,563.9 376.9,563.6 377.2,563.3 377.4,563.0 377.7,562.7 378.0,562.5 378.3,562.2 379.8,561.2 380.1,561.0 380.4,560.9 380.8,560.7 381.1,560.6 381.4,560.5 381.8,560.4 382.2,560.4 382.6,560.4 382.9,560.4 383.3,560.4 383.7,560.5 384.1,560.5 384.5,560.7 384.9,560.8 385.3,561.0 385.7,561.1 386.1,561.4 386.4,561.6 386.8,561.9 387.2,562.1 387.6,562.4 387.9,562.8 388.2,563.1 388.6,563.5 388.9,563.8 389.2,564.2 389.5,564.6 389.8,565.1 390.1,565.5 390.3,566.0 390.6,566.4 390.8,566.9 391.0,567.4 391.2,567.9 391.4,568.4 391.5,568.9 391.6,569.4 391.7,569.9 391.8,570.4 391.9,570.9 391.9,571.4 392.0,571.9 392.0,572.4 392.0,572.9 391.9,573.3 391.9,573.8 391.8,574.3 391.7,574.7 391.6,575.1 391.5,575.6 391.4,576.0 391.2,576.4 391.0,576.7 390.8,577.1 390.6,577.4 390.3,577.7 390.1,578.0 389.8,578.3 389.5,578.5 389.2,578.8 387.7,579.8 387.4,580.0 387.1,580.1 386.8,580.3 386.4,580.4 386.1,580.5 385.7,580.6 385.3,580.6 384.9,580.6 384.6,580.6 384.2,580.6 383.8,580.5 383.4,580.5 383.0,580.3 382.6,580.2 382.2,580.0 381.8,579.9 381.4,579.6 381.1,579.4 380.7,579.1 380.3,578.9 379.9,578.6 379.6,578.2 379.2,577.9 378.9,577.5 378.6,577.2 378.3,576.8 378.0,576.4 377.7,575.9 377.4,575.5 377.2,575.0 376.9,574.6 376.7,574.1 376.5,573.6 376.3,573.1 376.1,572.6 376.0,572.1 375.9,571.6 375.8,571.1 375.7,570.6 375.6,570.1 375.6,569.6 375.5,569.1" fill="#fff" stroke="#2a2a2a" stroke-width="1" stroke-linejoin="round"/>
<ellipse cx="383.0" cy="571.0" rx="7.0" ry="10.0" transform="rotate(-22 383.0 571.0)" fill="#fff" stroke="#2a2a2a" stroke-width="1"/>
<ellipse cx="383.0" cy="571.0" rx="3.9" ry="5.5" transform="rotate(-22 383.0 571.0)" fill="#fff" stroke="#2a2a2a" stroke-width="1"/>
<polygon points="358.7,579.1 358.7,578.6 358.8,578.2 358.8,577.8 358.9,577.4 359.0,577.0 359.1,576.5 359.3,576.2 359.5,575.8 359.6,575.4 359.8,575.1 360.1,574.8 360.3,574.4 360.5,574.1 360.8,573.9 361.1,573.6 361.4,573.4 361.6,573.2 362.0,573.0 362.3,572.8 366.3,570.8 366.6,570.7 367.0,570.5 367.3,570.4 367.7,570.4 368.1,570.3 368.4,570.3 368.8,570.2 369.2,570.3 369.6,570.3 369.9,570.4 370.3,570.5 370.7,570.6 371.1,570.7 371.5,570.9 371.8,571.0 372.2,571.2 372.6,571.5 372.9,571.7 373.3,572.0 373.6,572.3 373.9,572.6 374.2,572.9 374.6,573.2 374.9,573.6 375.1,573.9 375.4,574.3 375.6,574.7 375.9,575.1 376.1,575.5 376.3,575.9 376.5,576.4 376.7,576.8 376.8,577.3 376.9,577.7 377.1,578.2 377.1,578.6 377.2,579.1 377.3,579.5 377.3,580.0 377.3,580.5 377.3,580.9 377.3,581.4 377.2,581.8 377.2,582.2 377.1,582.6 377.0,583.0 376.9,583.5 376.7,583.8 376.5,584.2 376.4,584.6 376.2,584.9 375.9,585.2 375.7,585.6 375.5,585.9 375.2,586.1 374.9,586.4 374.6,586.6 374.4,586.8 374.0,587.0 373.7,587.2 369.7,589.2 369.4,589.3 369.0,589.5 368.7,589.6 368.3,589.6 367.9,589.7 367.6,589.7 367.2,589.8 366.8,589.7 366.4,589.7 366.1,589.6 365.7,589.5 365.3,589.4 364.9,589.3 364.5,589.1 364.2,589.0 363.8,588.8 363.4,588.5 363.1,588.3 362.7,588.0 362.4,587.7 362.1,587.4 361.8,587.1 361.4,586.8 361.1,586.4 360.9,586.1 360.6,585.7 360.4,585.3 360.1,584.9 359.9,584.5 359.7,584.1 359.5,583.6 359.3,583.2 359.2,582.7 359.1,582.3 358.9,581.8 358.9,581.4 358.8,580.9 358.7,580.5 358.7,580.0 358.7,579.5" fill="#8a8a8a" stroke="#2a2a2a" stroke-width="1" stroke-linejoin="round"/>
<ellipse cx="370.0" cy="579.0" rx="7.0" ry="9.0" transform="rotate(-22 370.0 579.0)" fill="none" stroke="#2a2a2a" stroke-width="0.8"/>
<line x1="368.3" y1="589.7" x2="372.3" y2="587.7" stroke="#222" stroke-width="1.1"/>
<line x1="366.1" y1="589.6" x2="370.1" y2="587.6" stroke="#222" stroke-width="1.1"/>
<line x1="363.8" y1="588.8" x2="367.8" y2="586.8" stroke="#222" stroke-width="1.1"/>
<line x1="361.7" y1="587.1" x2="365.7" y2="585.1" stroke="#222" stroke-width="1.1"/>
<line x1="360.1" y1="584.9" x2="364.1" y2="582.9" stroke="#222" stroke-width="1.1"/>
<line x1="359.1" y1="582.3" x2="363.1" y2="580.3" stroke="#222" stroke-width="1.1"/>
<line x1="358.7" y1="579.5" x2="362.7" y2="577.5" stroke="#222" stroke-width="1.1"/>
<line x1="359.0" y1="577.0" x2="363.0" y2="575.0" stroke="#222" stroke-width="1.1"/>
<line x1="360.0" y1="574.8" x2="364.0" y2="572.8" stroke="#222" stroke-width="1.1"/>
<line x1="361.7" y1="573.2" x2="365.7" y2="571.2" stroke="#222" stroke-width="1.1"/>
<ellipse cx="366.0" cy="581.0" rx="7.0" ry="9.0" transform="rotate(-22 366.0 581.0)" fill="#9a9a9a" stroke="#2a2a2a" stroke-width="1"/>
<line x1="372.2" y1="578.5" x2="369.4" y2="579.6" stroke="#1a1a1a" stroke-width="1.2"/>
<line x1="372.9" y1="583.6" x2="369.8" y2="582.5" stroke="#1a1a1a" stroke-width="1.2"/>
<line x1="371.0" y1="587.8" x2="368.7" y2="584.7" stroke="#1a1a1a" stroke-width="1.2"/>
<line x1="367.1" y1="589.3" x2="366.6" y2="585.6" stroke="#1a1a1a" stroke-width="1.2"/>
<line x1="362.9" y1="587.7" x2="364.3" y2="584.7" stroke="#1a1a1a" stroke-width="1.2"/>
<line x1="359.8" y1="583.5" x2="362.6" y2="582.4" stroke="#1a1a1a" stroke-width="1.2"/>
<line x1="359.1" y1="578.4" x2="362.2" y2="579.5" stroke="#1a1a1a" stroke-width="1.2"/>
<line x1="361.0" y1="574.2" x2="363.3" y2="577.3" stroke="#1a1a1a" stroke-width="1.2"/>
<line x1="364.9" y1="572.7" x2="365.4" y2="576.4" stroke="#1a1a1a" stroke-width="1.2"/>
<line x1="369.1" y1="574.3" x2="367.7" y2="577.3" stroke="#1a1a1a" stroke-width="1.2"/>
<ellipse cx="366.0" cy="581.0" rx="3.5" ry="4.5" transform="rotate(-22 366.0 581.0)" fill="#fff" stroke="#2a2a2a" stroke-width="1"/>
<polygon points="365.0,588.5 365.3,589.5 362.7,590.5 362.9,592.1 365.7,592.7 365.8,593.8 365.7,594.8 363.0,594.7 362.8,596.3 365.4,597.8 365.1,598.8 364.9,599.8 362.2,598.6 361.5,600.0 363.7,602.4 363.2,603.2 362.7,604.0 360.3,601.9 359.4,602.9 360.9,606.0 360.2,606.5 359.5,607.0 357.7,604.2 356.5,604.8 357.2,608.2 356.4,608.4 355.6,608.6 354.5,605.3 353.2,605.4 353.0,608.8 352.2,608.7 351.3,608.6 351.1,605.2 349.7,604.7 348.7,607.7 347.9,607.3 347.1,606.9 347.7,603.7 346.5,602.8 344.8,605.2 344.0,604.5 343.3,603.7 344.8,601.1 343.8,599.8 341.5,601.3 341.0,600.4 340.5,599.5 342.6,597.6 341.9,596.0 339.3,596.5 339.0,595.5 338.7,594.5 341.3,593.5 341.1,591.9 338.3,591.3 338.2,590.2 338.3,589.2 341.0,589.3 341.2,587.7 338.6,586.2 338.9,585.2 339.1,584.2 341.8,585.4 342.5,584.0 340.3,581.6 340.8,580.8 341.3,580.0 343.7,582.1 344.6,581.1 343.1,578.0 343.8,577.5 344.5,577.0 346.3,579.8 347.5,579.2 346.8,575.8 347.6,575.6 348.4,575.4 349.5,578.7 350.8,578.6 351.0,575.2 351.8,575.3 352.7,575.4 352.9,578.8 354.3,579.3 355.3,576.3 356.1,576.7 356.9,577.1 356.3,580.3 357.5,581.2 359.2,578.8 360.0,579.5 360.7,580.3 359.2,582.9 360.2,584.2 362.5,582.7 363.0,583.6 363.5,584.5 361.4,586.4 362.1,588.0 364.7,587.5" fill="#c8c8c8" stroke="#2a2a2a" stroke-width="0.9" stroke-linejoin="round"/>
<polygon points="363.3,589.3 363.5,590.3 361.0,591.2 361.2,592.9 364.0,593.4 364.0,594.5 364.0,595.5 361.2,595.4 361.0,597.0 363.6,598.6 363.4,599.6 363.1,600.5 360.4,599.3 359.8,600.8 362.0,603.2 361.5,604.0 361.0,604.7 358.6,602.6 357.6,603.7 359.1,606.7 358.5,607.3 357.8,607.8 356.0,605.0 354.7,605.6 355.5,608.9 354.6,609.2 353.8,609.4 352.8,606.1 351.4,606.2 351.3,609.5 350.4,609.4 349.5,609.3 349.3,605.9 348.0,605.5 347.0,608.5 346.1,608.1 345.3,607.6 346.0,604.5 344.8,603.5 343.0,605.9 342.3,605.2 341.6,604.5 343.1,601.8 342.1,600.5 339.7,602.0 339.2,601.1 338.7,600.2 340.8,598.3 340.2,596.8 337.5,597.3 337.2,596.2 337.0,595.2 339.5,594.3 339.3,592.6 336.5,592.1 336.5,591.0 336.5,590.0 339.3,590.1 339.5,588.5 336.9,586.9 337.1,585.9 337.4,585.0 340.1,586.2 340.7,584.7 338.5,582.3 339.0,581.5 339.5,580.8 341.9,582.9 342.9,581.8 341.4,578.8 342.0,578.2 342.7,577.7 344.5,580.5 345.8,579.9 345.0,576.6 345.9,576.3 346.7,576.1 347.7,579.4 349.1,579.3 349.2,576.0 350.1,576.1 351.0,576.2 351.2,579.6 352.5,580.0 353.5,577.0 354.4,577.4 355.2,577.9 354.5,581.0 355.7,582.0 357.5,579.6 358.2,580.3 358.9,581.0 357.4,583.7 358.4,585.0 360.8,583.5 361.3,584.4 361.8,585.3 359.7,587.2 360.3,588.7 363.0,588.2" fill="#c8c8c8" stroke="#2a2a2a" stroke-width="0.9" stroke-linejoin="round"/>
<polygon points="361.5,590.0 361.8,591.0 359.2,592.0 359.4,593.6 362.2,594.2 362.3,595.3 362.2,596.3 359.5,596.2 359.3,597.8 361.9,599.3 361.6,600.3 361.4,601.3 358.7,600.1 358.0,601.5 360.2,603.9 359.7,604.7 359.2,605.5 356.8,603.4 355.9,604.4 357.4,607.5 356.7,608.0 356.0,608.5 354.2,605.7 353.0,606.3 353.7,609.7 352.9,609.9 352.1,610.1 351.0,606.8 349.7,606.9 349.5,610.3 348.7,610.2 347.8,610.1 347.6,606.7 346.2,606.2 345.2,609.2 344.4,608.8 343.6,608.4 344.2,605.2 343.0,604.3 341.3,606.7 340.5,606.0 339.8,605.2 341.3,602.6 340.3,601.3 338.0,602.8 337.5,601.9 337.0,601.0 339.1,599.1 338.4,597.5 335.8,598.0 335.5,597.0 335.2,596.0 337.8,595.0 337.6,593.4 334.8,592.8 334.7,591.7 334.8,590.7 337.5,590.8 337.7,589.2 335.1,587.7 335.4,586.7 335.6,585.7 338.3,586.9 339.0,585.5 336.8,583.1 337.3,582.3 337.8,581.5 340.2,583.6 341.1,582.6 339.6,579.5 340.3,579.0 341.0,578.5 342.8,581.3 344.0,580.7 343.3,577.3 344.1,577.1 344.9,576.9 346.0,580.2 347.3,580.1 347.5,576.7 348.3,576.8 349.2,576.9 349.4,580.3 350.8,580.8 351.8,577.8 352.6,578.2 353.4,578.6 352.8,581.8 354.0,582.7 355.7,580.3 356.5,581.0 357.2,581.8 355.7,584.4 356.7,585.7 359.0,584.2 359.5,585.1 360.0,586.0 357.9,587.9 358.6,589.5 361.2,589.0" fill="#c8c8c8" stroke="#2a2a2a" stroke-width="0.9" stroke-linejoin="round"/>
<polygon points="359.8,590.8 360.0,591.8 357.5,592.7 357.7,594.4 360.5,594.9 360.5,596.0 360.5,597.0 357.7,596.9 357.5,598.5 360.1,600.1 359.9,601.1 359.6,602.0 356.9,600.8 356.3,602.3 358.5,604.7 358.0,605.5 357.5,606.2 355.1,604.1 354.1,605.2 355.6,608.2 355.0,608.8 354.3,609.3 352.5,606.5 351.2,607.1 352.0,610.4 351.1,610.7 350.3,610.9 349.3,607.6 347.9,607.7 347.8,611.0 346.9,610.9 346.0,610.8 345.8,607.4 344.5,607.0 343.5,610.0 342.6,609.6 341.8,609.1 342.5,606.0 341.3,605.0 339.5,607.4 338.8,606.7 338.1,606.0 339.6,603.3 338.6,602.0 336.2,603.5 335.7,602.6 335.2,601.7 337.3,599.8 336.7,598.3 334.0,598.8 333.7,597.7 333.5,596.7 336.0,595.8 335.8,594.1 333.0,593.6 333.0,592.5 333.0,591.5 335.8,591.6 336.0,590.0 333.4,588.4 333.6,587.4 333.9,586.5 336.6,587.7 337.2,586.2 335.0,583.8 335.5,583.0 336.0,582.3 338.4,584.4 339.4,583.3 337.9,580.3 338.5,579.7 339.2,579.2 341.0,582.0 342.3,581.4 341.5,578.1 342.4,577.8 343.2,577.6 344.2,580.9 345.6,580.8 345.7,577.5 346.6,577.6 347.5,577.7 347.7,581.1 349.0,581.5 350.0,578.5 350.9,578.9 351.7,579.4 351.0,582.5 352.2,583.5 354.0,581.1 354.7,581.8 355.4,582.5 353.9,585.2 354.9,586.5 357.3,585.0 357.8,585.9 358.3,586.8 356.2,588.7 356.8,590.2 359.5,589.7" fill="#c8c8c8" stroke="#2a2a2a" stroke-width="0.9" stroke-linejoin="round"/>
<polygon points="358.0,591.5 358.3,592.5 355.7,593.5 355.9,595.1 358.7,595.7 358.8,596.8 358.7,597.8 356.0,597.7 355.8,599.3 358.4,600.8 358.1,601.8 357.9,602.8 355.2,601.6 354.5,603.0 356.7,605.4 356.2,606.2 355.7,607.0 353.3,604.9 352.4,605.9 353.9,609.0 353.2,609.5 352.5,610.0 350.7,607.2 349.5,607.8 350.2,611.2 349.4,611.4 348.6,611.6 347.5,608.3 346.2,608.4 346.0,611.8 345.2,611.7 344.3,611.6 344.1,608.2 342.7,607.7 341.7,610.7 340.9,610.3 340.1,609.9 340.7,606.7 339.5,605.8 337.8,608.2 337.0,607.5 336.3,606.7 337.8,604.1 336.8,602.8 334.5,604.3 334.0,603.4 333.5,602.5 335.6,600.6 334.9,599.0 332.3,599.5 332.0,598.5 331.7,597.5 334.3,596.5 334.1,594.9 331.3,594.3 331.2,593.2 331.3,592.2 334.0,592.3 334.2,590.7 331.6,589.2 331.9,588.2 332.1,587.2 334.8,588.4 335.5,587.0 333.3,584.6 333.8,583.8 334.3,583.0 336.7,585.1 337.6,584.1 336.1,581.0 336.8,580.5 337.5,580.0 339.3,582.8 340.5,582.2 339.8,578.8 340.6,578.6 341.4,578.4 342.5,581.7 343.8,581.6 344.0,578.2 344.8,578.3 345.7,578.4 345.9,581.8 347.3,582.3 348.3,579.3 349.1,579.7 349.9,580.1 349.3,583.3 350.5,584.2 352.2,581.8 353.0,582.5 353.7,583.3 352.2,585.9 353.2,587.2 355.5,585.7 356.0,586.6 356.5,587.5 354.4,589.4 355.1,591.0 357.7,590.5" fill="#e8e8e8" stroke="#2a2a2a" stroke-width="0.9" stroke-linejoin="round"/>
<line x1="358.3" y1="592.8" x2="365.3" y2="589.8" stroke="#222" stroke-width="0.8"/>
<line x1="358.7" y1="595.4" x2="365.7" y2="592.4" stroke="#444" stroke-width="0.6"/>
<line x1="358.7" y1="598.1" x2="365.7" y2="595.1" stroke="#222" stroke-width="0.8"/>
<line x1="358.4" y1="600.6" x2="365.4" y2="597.6" stroke="#444" stroke-width="0.6"/>
<line x1="357.8" y1="603.0" x2="364.8" y2="600.0" stroke="#222" stroke-width="0.8"/>
<line x1="356.8" y1="605.2" x2="363.8" y2="602.2" stroke="#444" stroke-width="0.6"/>
<line x1="355.6" y1="607.2" x2="362.6" y2="604.2" stroke="#222" stroke-width="0.8"/>
<line x1="354.1" y1="608.8" x2="361.1" y2="605.8" stroke="#444" stroke-width="0.6"/>
<line x1="352.3" y1="610.2" x2="359.3" y2="607.2" stroke="#222" stroke-width="0.8"/>
<line x1="350.4" y1="611.1" x2="357.4" y2="608.1" stroke="#444" stroke-width="0.6"/>
<line x1="348.4" y1="611.6" x2="355.4" y2="608.6" stroke="#222" stroke-width="0.8"/>
<line x1="346.2" y1="611.8" x2="353.2" y2="608.8" stroke="#444" stroke-width="0.6"/>
<line x1="344.1" y1="611.5" x2="351.1" y2="608.5" stroke="#222" stroke-width="0.8"/>
<line x1="341.9" y1="610.8" x2="348.9" y2="607.8" stroke="#444" stroke-width="0.6"/>
<line x1="339.9" y1="609.8" x2="346.9" y2="606.8" stroke="#222" stroke-width="0.8"/>
<line x1="337.9" y1="608.3" x2="344.9" y2="605.3" stroke="#444" stroke-width="0.6"/>
<line x1="336.2" y1="606.6" x2="343.2" y2="603.6" stroke="#222" stroke-width="0.8"/>
<line x1="334.6" y1="604.5" x2="341.6" y2="601.5" stroke="#444" stroke-width="0.6"/>
<line x1="333.3" y1="602.2" x2="340.3" y2="599.2" stroke="#222" stroke-width="0.8"/>
<line x1="332.3" y1="599.8" x2="339.3" y2="596.8" stroke="#444" stroke-width="0.6"/>
<line x1="331.7" y1="597.2" x2="338.7" y2="594.2" stroke="#222" stroke-width="0.8"/>
<line x1="331.3" y1="594.6" x2="338.3" y2="591.6" stroke="#444" stroke-width="0.6"/>
<line x1="331.3" y1="591.9" x2="338.3" y2="588.9" stroke="#222" stroke-width="0.8"/>
<line x1="331.6" y1="589.4" x2="338.6" y2="586.4" stroke="#444" stroke-width="0.6"/>
<line x1="332.2" y1="587.0" x2="339.2" y2="584.0" stroke="#222" stroke-width="0.8"/>
<line x1="333.2" y1="584.8" x2="340.2" y2="581.8" stroke="#444" stroke-width="0.6"/>
<line x1="334.4" y1="582.8" x2="341.4" y2="579.8" stroke="#222" stroke-width="0.8"/>
<line x1="335.9" y1="581.2" x2="342.9" y2="578.2" stroke="#444" stroke-width="0.6"/>
<line x1="337.7" y1="579.8" x2="344.7" y2="576.8" stroke="#222" stroke-width="0.8"/>
<line x1="339.6" y1="578.9" x2="346.6" y2="575.9" stroke="#444" stroke-width="0.6"/>
<line x1="341.6" y1="578.4" x2="348.6" y2="575.4" stroke="#222" stroke-width="0.8"/>
<line x1="343.8" y1="578.2" x2="350.8" y2="575.2" stroke="#444" stroke-width="0.6"/>
<line x1="345.9" y1="578.5" x2="352.9" y2="575.5" stroke="#222" stroke-width="0.8"/>
<line x1="348.1" y1="579.2" x2="355.1" y2="576.2" stroke="#444" stroke-width="0.6"/>
<line x1="350.1" y1="580.2" x2="357.1" y2="577.2" stroke="#222" stroke-width="0.8"/>
<line x1="352.1" y1="581.7" x2="359.1" y2="578.7" stroke="#444" stroke-width="0.6"/>
<line x1="353.8" y1="583.4" x2="360.8" y2="580.4" stroke="#222" stroke-width="0.8"/>
<line x1="355.4" y1="585.5" x2="362.4" y2="582.5" stroke="#444" stroke-width="0.6"/>
<line x1="356.7" y1="587.8" x2="363.7" y2="584.8" stroke="#222" stroke-width="0.8"/>
<line x1="357.7" y1="590.2" x2="364.7" y2="587.2" stroke="#444" stroke-width="0.6"/>
<ellipse cx="345.0" cy="595.0" rx="7.4" ry="9.4" transform="rotate(-15 345.0 595.0)" fill="#fff" stroke="#2a2a2a" stroke-width="1"/>
<polygon points="314.7,606.1 314.7,605.6 314.8,605.2 314.8,604.8 314.9,604.4 315.0,604.0 315.1,603.5 315.3,603.2 315.5,602.8 315.6,602.4 315.8,602.1 316.1,601.8 316.3,601.4 316.5,601.1 316.8,600.9 317.1,600.6 317.4,600.4 317.6,600.2 318.0,600.0 318.3,599.8 322.3,597.8 322.6,597.7 323.0,597.5 323.3,597.4 323.7,597.4 324.1,597.3 324.4,597.3 324.8,597.2 325.2,597.3 325.6,597.3 325.9,597.4 326.3,597.5 326.7,597.6 327.1,597.7 327.5,597.9 327.8,598.0 328.2,598.2 328.6,598.5 328.9,598.7 329.3,599.0 329.6,599.3 329.9,599.6 330.2,599.9 330.6,600.2 330.9,600.6 331.1,600.9 331.4,601.3 331.6,601.7 331.9,602.1 332.1,602.5 332.3,602.9 332.5,603.4 332.7,603.8 332.8,604.3 332.9,604.7 333.1,605.2 333.1,605.6 333.2,606.1 333.3,606.5 333.3,607.0 333.3,607.5 333.3,607.9 333.3,608.4 333.2,608.8 333.2,609.2 333.1,609.6 333.0,610.0 332.9,610.5 332.7,610.8 332.5,611.2 332.4,611.6 332.2,611.9 331.9,612.2 331.7,612.6 331.5,612.9 331.2,613.1 330.9,613.4 330.6,613.6 330.4,613.8 330.0,614.0 329.7,614.2 325.7,616.2 325.4,616.3 325.0,616.5 324.7,616.6 324.3,616.6 323.9,616.7 323.6,616.7 323.2,616.8 322.8,616.7 322.4,616.7 322.1,616.6 321.7,616.5 321.3,616.4 320.9,616.3 320.5,616.1 320.2,616.0 319.8,615.8 319.4,615.5 319.1,615.3 318.7,615.0 318.4,614.7 318.1,614.4 317.8,614.1 317.4,613.8 317.1,613.4 316.9,613.1 316.6,612.7 316.4,612.3 316.1,611.9 315.9,611.5 315.7,611.1 315.5,610.6 315.3,610.2 315.2,609.7 315.1,609.3 314.9,608.8 314.9,608.4 314.8,607.9 314.7,607.5 314.7,607.0 314.7,606.5" fill="#8a8a8a" stroke="#2a2a2a" stroke-width="1" stroke-linejoin="round"/>
<ellipse cx="326.0" cy="606.0" rx="7.0" ry="9.0" transform="rotate(-22 326.0 606.0)" fill="none" stroke="#2a2a2a" stroke-width="0.8"/>
<line x1="324.3" y1="616.7" x2="328.3" y2="614.7" stroke="#222" stroke-width="1.1"/>
<line x1="322.1" y1="616.6" x2="326.1" y2="614.6" stroke="#222" stroke-width="1.1"/>
<line x1="319.8" y1="615.8" x2="323.8" y2="613.8" stroke="#222" stroke-width="1.1"/>
<line x1="317.7" y1="614.1" x2="321.7" y2="612.1" stroke="#222" stroke-width="1.1"/>
<line x1="316.1" y1="611.9" x2="320.1" y2="609.9" stroke="#222" stroke-width="1.1"/>
<line x1="315.1" y1="609.3" x2="319.1" y2="607.3" stroke="#222" stroke-width="1.1"/>
<line x1="314.7" y1="606.5" x2="318.7" y2="604.5" stroke="#222" stroke-width="1.1"/>
<line x1="315.0" y1="604.0" x2="319.0" y2="602.0" stroke="#222" stroke-width="1.1"/>
<line x1="316.0" y1="601.8" x2="320.0" y2="599.8" stroke="#222" stroke-width="1.1"/>
<line x1="317.7" y1="600.2" x2="321.7" y2="598.2" stroke="#222" stroke-width="1.1"/>
<ellipse cx="322.0" cy="608.0" rx="7.0" ry="9.0" transform="rotate(-22 322.0 608.0)" fill="#9a9a9a" stroke="#2a2a2a" stroke-width="1"/>
<line x1="328.2" y1="605.5" x2="325.4" y2="606.6" stroke="#1a1a1a" stroke-width="1.2"/>
<line x1="328.9" y1="610.6" x2="325.8" y2="609.5" stroke="#1a1a1a" stroke-width="1.2"/>
<line x1="327.0" y1="614.8" x2="324.7" y2="611.7" stroke="#1a1a1a" stroke-width="1.2"/>
<line x1="323.1" y1="616.3" x2="322.6" y2="612.6" stroke="#1a1a1a" stroke-width="1.2"/>
<line x1="318.9" y1="614.7" x2="320.3" y2="611.7" stroke="#1a1a1a" stroke-width="1.2"/>
<line x1="315.8" y1="610.5" x2="318.6" y2="609.4" stroke="#1a1a1a" stroke-width="1.2"/>
<line x1="315.1" y1="605.4" x2="318.2" y2="606.5" stroke="#1a1a1a" stroke-width="1.2"/>
<line x1="317.0" y1="601.2" x2="319.3" y2="604.3" stroke="#1a1a1a" stroke-width="1.2"/>
<line x1="320.9" y1="599.7" x2="321.4" y2="603.4" stroke="#1a1a1a" stroke-width="1.2"/>
<line x1="325.1" y1="601.3" x2="323.7" y2="604.3" stroke="#1a1a1a" stroke-width="1.2"/>
<ellipse cx="322.0" cy="608.0" rx="3.5" ry="4.5" transform="rotate(-22 322.0 608.0)" fill="#fff" stroke="#2a2a2a" stroke-width="1"/>
<polygon points="300.7,612.1 300.7,611.6 300.8,611.2 300.8,610.8 300.9,610.4 301.0,610.0 301.1,609.5 301.3,609.2 301.5,608.8 301.6,608.4 301.8,608.1 302.1,607.8 302.3,607.4 302.5,607.1 302.8,606.9 303.1,606.6 303.4,606.4 303.6,606.2 305.1,605.2 305.5,605.0 305.8,604.8 306.1,604.7 306.5,604.5 306.8,604.4 307.2,604.4 307.6,604.3 307.9,604.3 308.3,604.2 308.7,604.3 309.1,604.3 309.4,604.4 309.8,604.5 310.2,604.6 310.6,604.7 311.0,604.9 311.3,605.0 311.7,605.2 312.1,605.5 312.4,605.7 312.8,606.0 313.1,606.3 313.4,606.6 313.8,606.9 314.1,607.2 314.4,607.6 314.6,607.9 314.9,608.3 315.1,608.7 315.4,609.1 315.6,609.5 315.8,609.9 316.0,610.4 316.2,610.8 316.3,611.3 316.4,611.7 316.6,612.2 316.6,612.6 316.7,613.1 316.8,613.5 316.8,614.0 316.8,614.5 316.8,614.9 316.8,615.4 316.7,615.8 316.7,616.2 316.6,616.6 316.5,617.0 316.4,617.5 316.2,617.8 316.0,618.2 315.9,618.6 315.7,618.9 315.4,619.2 315.2,619.6 315.0,619.9 314.7,620.1 314.4,620.4 314.1,620.6 313.9,620.8 312.4,621.8 312.0,622.0 311.7,622.2 311.4,622.3 311.0,622.5 310.7,622.6 310.3,622.6 309.9,622.7 309.6,622.7 309.2,622.8 308.8,622.7 308.4,622.7 308.1,622.6 307.7,622.5 307.3,622.4 306.9,622.3 306.5,622.1 306.2,622.0 305.8,621.8 305.4,621.5 305.1,621.3 304.7,621.0 304.4,620.7 304.1,620.4 303.8,620.1 303.4,619.8 303.1,619.4 302.9,619.1 302.6,618.7 302.4,618.3 302.1,617.9 301.9,617.5 301.7,617.1 301.5,616.6 301.3,616.2 301.2,615.7 301.1,615.3 300.9,614.8 300.9,614.4 300.8,613.9 300.7,613.5 300.7,613.0 300.7,612.5" fill="#fff" stroke="#2a2a2a" stroke-width="1" stroke-linejoin="round"/>
<ellipse cx="308.0" cy="614.0" rx="7.0" ry="9.0" transform="rotate(-22 308.0 614.0)" fill="#fff" stroke="#2a2a2a" stroke-width="1"/>
<ellipse cx="308.0" cy="614.0" rx="3.9" ry="5.0" transform="rotate(-22 308.0 614.0)" fill="#fff" stroke="#2a2a2a" stroke-width="1"/>
<polygon points="228.6,503.7 228.6,503.3 228.7,503.1 228.7,502.9 228.8,502.7 228.8,502.5 228.9,502.3 229.0,502.1 229.2,501.8 229.2,501.7 229.4,501.5 229.5,501.4 229.6,501.3 229.7,501.2 229.9,501.1 231.4,500.1 231.5,500.0 231.7,499.9 231.8,499.8 232.0,499.8 232.1,499.7 232.3,499.7 232.5,499.7 232.6,499.7 232.8,499.7 233.0,499.7 233.2,499.7 233.3,499.7 233.5,499.8 233.7,499.9 233.9,499.9 234.1,500.0 234.4,500.2 234.6,500.3 234.7,500.4 234.9,500.6 235.1,500.7 235.2,500.9 235.4,501.0 235.7,501.4 235.8,501.6 235.9,501.8 236.1,502.0 236.2,502.2 236.3,502.4 236.4,502.6 236.5,502.8 236.6,503.0 236.6,503.2 236.8,503.7 236.8,503.9 236.8,504.1 236.9,504.6 236.9,504.8 236.9,505.3 236.9,505.7 236.8,505.9 236.8,506.1 236.7,506.3 236.7,506.5 236.6,506.7 236.5,506.9 236.3,507.2 236.2,507.3 236.1,507.5 236.0,507.6 235.9,507.7 235.8,507.8 235.6,507.9 234.1,508.9 234.0,509.0 233.8,509.1 233.7,509.2 233.5,509.2 233.4,509.3 233.2,509.3 233.0,509.3 232.9,509.3 232.7,509.3 232.5,509.3 232.3,509.3 232.2,509.3 232.0,509.2 231.8,509.1 231.6,509.1 231.4,509.0 231.1,508.8 230.9,508.7 230.8,508.6 230.6,508.4 230.4,508.3 230.3,508.1 230.1,508.0 229.8,507.6 229.7,507.4 229.6,507.2 229.4,507.0 229.3,506.8 229.2,506.6 229.1,506.4 229.0,506.2 228.9,506.0 228.9,505.8 228.8,505.3 228.7,505.1 228.7,504.9 228.6,504.4 228.6,504.2" fill="#fff" stroke="#2a2a2a" stroke-width="1" stroke-linejoin="round"/>
<ellipse cx="232.0" cy="505.0" rx="3.2" ry="4.5" transform="rotate(-22 232.0 505.0)" fill="#fff" stroke="#2a2a2a" stroke-width="1"/>
<ellipse cx="232.0" cy="505.0" rx="1.6" ry="2.2" transform="rotate(-22 232.0 505.0)" fill="#fff" stroke="#2a2a2a" stroke-width="1"/>
<polygon points="240.2,505.1 251.8,498.5 249.5,494.4 237.8,500.9" fill="#bbb" stroke="#2a2a2a" stroke-width="1" stroke-linejoin="round"/>
<line x1="241.2" y1="504.5" x2="238.9" y2="500.3" stroke="#222" stroke-width="0.9"/>
<line x1="242.5" y1="503.8" x2="240.2" y2="499.6" stroke="#222" stroke-width="0.9"/>
<line x1="243.8" y1="503.0" x2="241.5" y2="498.8" stroke="#222" stroke-width="0.9"/>
<line x1="245.1" y1="502.3" x2="242.8" y2="498.1" stroke="#222" stroke-width="0.9"/>
<line x1="246.5" y1="501.6" x2="244.1" y2="497.4" stroke="#222" stroke-width="0.9"/>
<line x1="247.8" y1="500.8" x2="245.4" y2="496.6" stroke="#222" stroke-width="0.9"/>
<line x1="249.1" y1="500.1" x2="246.7" y2="495.9" stroke="#222" stroke-width="0.9"/>
<line x1="250.4" y1="499.4" x2="248.0" y2="495.2" stroke="#222" stroke-width="0.9"/>
<ellipse cx="250.6" cy="496.5" rx="2.0" ry="4.4" transform="rotate(-29.357753542791276 250.6 496.5)" fill="#555" stroke="#2a2a2a" stroke-width="1"/>
<polygon points="252.8,500.3 257.2,497.8 252.8,490.2 248.5,492.6" fill="#666" stroke="#2a2a2a" stroke-width="1" stroke-linejoin="round"/>
<ellipse cx="255.0" cy="494.0" rx="2.2" ry="4.4" transform="rotate(-29.357753542791276 255.0 494.0)" fill="#444" stroke="#2a2a2a" stroke-width="1"/>
<ellipse cx="255.0" cy="494.0" rx="1.0" ry="2.0" transform="rotate(-29.357753542791276 255.0 494.0)" fill="#999" stroke="#2a2a2a" stroke-width="0.8"/>
<line x1="228" y1="507" x2="218" y2="512" stroke="#2a2a2a" stroke-width="0.8" stroke-dasharray="3 2"/>
<polygon points="269.6,565.4 270.0,565.9 270.4,566.5 270.7,567.1 271.1,567.7 271.4,568.3 271.7,568.9 272.0,569.6 272.3,570.2 272.6,570.8 272.9,571.4 273.2,572.1 273.4,572.7 273.7,573.4 273.9,574.0 274.1,574.6 274.3,575.3 274.5,576.0 274.7,576.6 274.9,577.3 275.0,577.9 275.1,578.6 275.3,579.3 275.4,579.9 275.4,580.6 275.5,581.3 275.5,581.9 275.5,582.6 275.5,583.3 275.3,584.0 275.8,584.6 276.3,585.2 276.8,585.8 277.2,586.4 277.6,587.0 277.9,587.6 278.3,588.2 278.6,588.8 278.9,589.5 279.2,590.1 279.5,590.7 279.8,591.4 280.1,592.0 280.3,592.7 280.5,593.3 280.8,594.0 281.0,594.6 281.2,595.3 281.3,595.9 281.5,596.6 281.7,597.2 281.8,597.9 281.9,598.5 282.0,599.2 282.1,599.8 282.2,600.5 282.3,601.1 282.3,601.8 282.4,602.4 282.4,603.0 282.4,603.7 282.4,604.3 282.4,604.9 282.4,605.5 282.3,606.2 282.2,606.8 282.1,607.4 282.0,608.0 281.8,608.6 281.6,609.1 281.2,609.7 281.7,610.4 282.1,611.1 282.4,611.8 282.7,612.4 283.0,613.1 283.2,613.8 283.4,614.4 283.6,615.1 283.8,615.8 284.0,616.4 284.1,617.1 284.2,617.8 284.4,618.4 284.5,619.1 284.6,619.7 284.6,620.4 284.7,621.0 284.7,621.6 284.8,622.3 284.8,622.9 284.8,623.5 284.8,624.1 284.8,624.8 284.7,625.4 284.7,626.0 284.6,626.6 284.5,627.1 284.4,627.7 284.3,628.3 284.2,628.9 284.1,629.4 283.9,630.0 283.7,630.5 283.5,631.0 283.3,631.6 283.1,632.1 282.9,632.6 282.6,633.0 282.3,633.5 281.9,633.9 281.2,634.1 281.7,635.0 282.0,635.8 282.2,636.5 282.3,637.2 282.4,637.9 282.5,638.5 282.6,639.2 282.6,639.8 282.6,640.5 282.6,641.1 282.6,641.8 282.6,642.4 282.6,643.0 282.5,643.6 282.5,644.2 282.4,644.8 282.3,645.4 282.2,645.9 282.1,646.5 282.0,647.1 281.8,647.6 281.7,648.1 281.5,648.7 281.3,649.2 281.1,649.7 280.9,650.2 280.7,650.7 280.4,651.1 280.2,651.6 279.9,652.0 279.6,652.5 279.3,652.9 279.0,653.3 278.7,653.7 278.4,654.0 278.0,654.4 277.6,654.7 277.2,655.0 276.8,655.3 276.3,655.5 275.6,655.6 275.9,656.5 276.0,657.3 276.0,657.9 276.0,658.6 275.9,659.2 275.8,659.8 275.7,660.4 275.6,661.0 275.5,661.6 275.4,662.1 275.2,662.7 275.0,663.2 274.9,663.8 274.7,664.3 274.5,664.8 274.2,665.2 274.0,665.7 273.8,666.2 273.5,666.6 273.2,667.1 271.7,666.1 271.4,666.5 271.1,666.9 270.9,667.3 270.6,667.7 270.3,668.1 270.0,668.5 269.7,668.9 269.4,669.3 269.1,669.6 268.8,670.0 268.5,670.4 268.2,670.8 267.8,671.1 267.5,671.5 267.2,671.8 266.9,672.2 266.6,672.6 266.2,672.9 265.9,673.3 265.6,673.6 265.2,673.9 264.9,674.3 264.6,674.6 264.2,674.9 263.9,675.2 263.5,675.6 263.2,675.9 262.8,676.2 262.4,676.5 262.1,676.8 261.7,677.1 261.4,677.4 261.0,677.7 260.6,678.0 260.2,678.2 259.9,678.5 259.5,678.8 259.1,679.1 258.7,679.3 258.3,679.6 258.0,679.9 257.6,680.1 257.2,680.4 256.8,680.6 256.4,680.8 256.0,681.1 255.6,681.3 255.2,681.6 254.8,681.8 254.4,682.0 253.9,682.2 253.5,682.4 253.1,682.6 252.7,682.8 252.3,683.0 251.9,683.2 251.4,683.4 251.0,683.6 250.6,683.8 250.2,684.0 249.7,684.2 249.3,684.3 248.9,684.5 248.4,684.7 248.0,684.8 247.5,685.0 247.1,685.1 246.7,685.3 246.2,685.4 245.8,685.5 245.3,685.7 244.9,685.8 244.4,685.9 244.0,686.0 243.5,686.1 243.0,686.3 242.6,686.4 242.1,686.5 241.7,686.6 241.2,686.6 240.7,686.7 240.3,686.8 239.8,686.9 239.3,687.0 238.8,687.0 238.4,687.1 237.9,687.2 237.4,687.2 236.9,687.3 236.5,687.3 236.0,687.4 235.5,687.4 235.0,687.4 234.5,687.5 234.0,687.5 233.6,687.5 233.1,687.5 232.6,687.5 232.1,687.5 231.6,687.5 231.1,687.5 230.6,687.5 230.1,687.5 229.6,687.5 229.1,687.5 228.6,687.5 228.1,687.4 227.6,687.4 227.1,687.4 226.6,687.3 226.1,687.3 225.6,687.2 225.1,687.2 224.6,687.1 224.1,687.1 223.6,687.0 223.1,686.9 222.6,686.8 222.1,686.8 221.6,686.7 221.1,686.6 220.6,686.5 220.1,686.4 219.5,686.3 219.0,686.2 218.5,686.1 218.0,685.9 217.5,685.8 217.0,685.7 216.5,685.6 216.0,685.4 215.4,685.3 214.9,685.2 214.4,685.0 213.9,684.9 213.4,684.7 212.9,684.5 212.4,684.4 211.8,684.2 211.3,684.0 210.8,683.8 210.3,683.7 209.8,683.5 209.3,683.3 208.8,683.1 208.2,682.9 207.7,682.7 207.2,682.5 206.7,682.3 206.2,682.1 205.7,681.8 205.1,681.6 204.6,681.4 204.1,681.2 203.6,680.9 203.1,680.7 202.6,680.4 202.1,680.2 201.6,679.9 201.0,679.7 200.5,679.4 200.0,679.1 199.5,678.9 199.0,678.6 198.5,678.3 198.0,678.0 197.5,677.8 197.0,677.5 196.5,677.2 195.9,676.9 195.4,676.6 194.9,676.3 194.4,676.0 193.9,675.6 193.4,675.3 192.9,675.0 192.4,674.7 191.9,674.4 191.4,674.0 190.9,673.7 190.4,673.3 189.9,673.0 189.4,672.7 188.9,672.3 188.4,671.9 187.9,671.6 187.4,671.2 187.0,670.9 186.5,670.5 186.0,670.1 185.5,669.7 185.0,669.4 184.5,669.0 184.0,668.6 183.6,668.2 183.1,667.8 182.6,667.4 182.1,667.0 181.6,666.6 181.2,666.2 180.7,665.8 180.2,665.4 179.7,664.9 179.3,664.5 178.8,664.1 178.3,663.7 177.9,663.2 177.4,662.8 176.9,662.4 176.5,661.9 176.0,661.5 175.5,661.0 175.1,660.6 174.6,660.1 174.2,659.7 173.7,659.2 173.3,658.7 172.8,658.3 172.4,657.8 171.9,657.3 171.5,656.8 171.1,656.4 170.6,655.9 170.2,655.4 169.7,654.9 169.3,654.4 168.9,653.9 168.5,653.4 168.0,652.9 167.6,652.4 167.2,651.9 166.8,651.4 166.3,650.9 165.9,650.4 165.5,649.9 165.1,649.4 164.7,648.8 164.3,648.3 163.9,647.8 163.5,647.3 163.1,646.7 162.7,646.2 162.3,645.7 161.9,645.1 161.5,644.6 161.1,644.0 160.7,643.5 160.3,643.0 159.9,642.4 159.5,641.9 159.2,641.3 158.8,640.7 158.4,640.2 158.1,639.6 157.7,639.1 157.3,638.5 157.0,637.9 156.6,637.4 156.2,636.8 155.9,636.2 155.5,635.6 155.2,635.1 154.8,634.5 154.5,633.9 154.1,633.3 153.8,632.7 153.5,632.1 153.1,631.6 152.8,631.0 152.5,630.4 152.1,629.8 151.8,629.2 151.5,628.6 151.2,628.0 150.9,627.4 150.6,626.8 150.2,626.2 149.9,625.6 149.6,625.0 149.3,624.4 149.0,623.8 148.7,623.2 148.5,622.5 148.2,621.9 147.9,621.3 147.6,620.7 147.3,620.1 147.0,619.5 146.8,618.9 146.5,618.2 146.2,617.6 146.0,617.0 145.7,616.4 145.5,615.7 145.2,615.1 144.9,614.5 144.7,613.9 144.5,613.2 144.2,612.6 144.0,612.0 143.7,611.4 143.5,610.7 143.3,610.1 143.0,609.5 142.8,608.8 142.6,608.2 142.4,607.6 142.2,606.9 142.0,606.3 141.8,605.7 141.6,605.0 141.4,604.4 141.2,603.7 141.0,603.1 140.8,602.5 140.6,601.8 140.4,601.2 140.2,600.6 140.0,599.9 139.9,599.3 139.7,598.6 139.5,598.0 139.4,597.4 139.2,596.7 139.1,596.1 138.9,595.4 138.8,594.8 138.6,594.2 138.5,593.5 138.3,592.9 138.2,592.3 138.1,591.6 137.9,591.0 137.8,590.3 137.7,589.7 137.6,589.1 137.5,588.4 137.3,587.8 137.2,587.2 137.1,586.5 137.0,585.9 136.9,585.2 136.8,584.6 136.8,584.0 136.7,583.3 136.6,582.7 136.5,582.1 136.4,581.4 136.4,580.8 136.3,580.2 136.2,579.6 136.2,578.9 136.1,578.3 136.1,577.7 136.0,577.1 136.0,576.4 135.9,575.8 135.9,575.2 135.8,574.6 135.8,573.9 135.8,573.3 135.8,572.7 135.7,572.1 135.7,571.5 135.7,570.9 135.7,570.2 135.7,569.6 135.7,569.0 135.7,568.4 135.7,567.8 135.7,567.2 135.7,566.6 135.7,566.0 135.7,565.4 135.8,564.8 135.8,564.2 135.8,563.6 135.8,563.0 135.9,562.4 135.9,561.8 136.0,561.2 136.0,560.6 136.1,560.0 136.1,559.4 136.2,558.8 136.2,558.3 136.3,557.7 136.4,557.1 136.4,556.5 136.5,555.9 136.6,555.4 136.7,554.8 136.7,554.2 136.8,553.7 136.9,553.1 137.0,552.5 137.1,552.0 137.2,551.4 137.3,550.9 137.4,550.3 137.6,549.7 137.7,549.2 137.8,548.7 137.9,548.1 138.1,547.6 138.2,547.0 138.3,546.5 138.5,545.9 138.6,545.4 138.7,544.9 138.9,544.4 139.0,543.8 139.2,543.3 139.4,542.8 139.5,542.3 139.7,541.7 139.9,541.2 140.0,540.7 140.2,540.2 140.4,539.7 140.6,539.2 140.8,538.7 140.9,538.2 141.1,537.7 141.3,537.2 141.5,536.7 141.7,536.2 141.9,535.8 142.2,535.3 142.4,534.8 142.6,534.3 142.8,533.9 143.0,533.4 143.2,532.9 143.5,532.5 143.7,532.0 143.9,531.6 144.2,531.1 144.4,530.7 144.7,530.2 144.9,529.8 145.2,529.3 145.4,528.9 145.7,528.5 145.9,528.0 146.2,527.6 146.5,527.2 146.7,526.8 147.0,526.3 147.3,525.9 147.6,525.5 147.9,525.1 148.1,524.7 148.4,524.3 148.7,523.9 149.0,523.5 149.3,523.1 149.6,522.7 149.9,522.4 150.2,522.0 150.5,521.6 150.8,521.2 151.2,520.9 151.5,520.5 151.8,520.2 152.1,519.8 152.4,519.4 152.8,519.1 153.1,518.7 153.4,518.4 153.8,518.1 154.1,517.7 154.4,517.4 154.8,517.1 155.1,516.8 155.5,516.4 155.8,516.1 156.2,515.8 156.6,515.5 156.9,515.2 157.3,514.9 157.6,514.6 158.0,514.3 158.4,514.0 158.8,513.8 159.1,513.5 159.5,513.2 159.9,512.9 160.3,512.7 160.7,512.4 161.0,512.1 161.4,511.9 161.8,511.6 162.2,511.4 162.6,511.2 163.0,510.9 163.4,510.7 163.8,510.4 164.2,510.2 164.6,510.0 165.1,509.8 165.5,509.6 165.9,509.4 166.3,509.2 166.7,509.0 167.1,508.8 167.6,508.6 168.0,508.4 168.4,508.2 168.8,508.0 169.3,507.8 169.7,507.7 170.1,507.5 170.6,507.3 171.0,507.2 171.5,507.0 171.9,506.9 172.3,506.7 172.8,506.6 173.2,506.5 173.7,506.3 174.1,506.2 174.6,506.1 175.0,506.0 175.5,505.9 176.0,505.7 176.4,505.6 176.9,505.5 177.3,505.4 177.8,505.4 178.3,505.3 178.7,505.2 179.2,505.1 179.7,505.0 180.2,505.0 180.6,504.9 181.1,504.8 181.6,504.8 182.1,504.7 182.5,504.7 183.0,504.6 183.5,504.6 184.0,504.6 184.5,504.5 185.0,504.5 185.4,504.5 185.9,504.5 186.4,504.5 186.9,504.5 187.4,504.5 187.9,504.5 188.4,504.5 188.9,504.5 189.4,504.5 189.9,504.5 190.4,504.5 190.9,504.6 191.4,504.6 191.9,504.6 192.4,504.7 192.9,504.7 193.4,504.8 193.9,504.8 194.4,504.9 194.9,504.9 195.4,505.0 195.9,505.1 196.4,505.2 196.9,505.2 197.4,505.3 197.9,505.4 198.4,505.5 198.9,505.6 199.5,505.7 200.0,505.8 200.5,505.9 201.0,506.1 201.5,506.2 202.0,506.3 202.5,506.4 203.0,506.6 203.6,506.7 204.1,506.8 204.6,507.0 205.1,507.1 205.6,507.3 206.1,507.5 206.6,507.6 207.2,507.8 207.7,508.0 208.2,508.2 208.7,508.3 209.2,508.5 209.7,508.7 210.2,508.9 210.8,509.1 211.3,509.3 211.8,509.5 212.3,509.7 212.8,509.9 213.3,510.2 213.9,510.4 214.4,510.6 214.9,510.8 215.4,511.1 215.9,511.3 216.4,511.6 216.9,511.8 217.4,512.1 218.0,512.3 218.5,512.6 219.0,512.9 219.5,513.1 220.0,513.4 220.5,513.7 221.0,514.0 221.8,512.7 222.3,513.0 222.8,513.4 223.3,513.8 223.8,514.2 224.3,514.6 224.8,515.0 225.3,515.5 225.7,515.9 226.2,516.4 226.7,516.9 227.1,517.4 227.6,517.9 228.0,518.5 228.5,519.1 228.9,519.7 229.3,520.5 229.8,520.8 230.4,520.7 230.9,520.8 231.5,520.9 232.1,521.1 232.6,521.2 233.2,521.5 233.7,521.7 234.2,521.9 234.8,522.2 235.3,522.5 235.8,522.8 236.3,523.1 236.9,523.4 237.4,523.8 237.9,524.1 238.4,524.5 238.9,524.9 239.4,525.3 239.9,525.7 240.3,526.1 240.8,526.6 241.3,527.0 241.8,527.5 242.2,527.9 242.7,528.4 243.1,528.9 243.5,529.5 244.0,530.0 244.4,530.5 244.8,531.1 245.2,531.6 245.6,532.2 246.0,532.8 246.4,533.4 246.7,534.0 247.1,534.6 247.4,535.3 247.7,536.0 248.0,536.7 248.2,537.5 248.7,537.9 249.3,538.1 249.9,538.3 250.5,538.7 251.0,539.0 251.6,539.4 252.1,539.7 252.6,540.1 253.1,540.5 253.6,541.0 254.1,541.4 254.5,541.9 255.0,542.3 255.5,542.8 255.9,543.3 256.4,543.8 256.8,544.3 257.2,544.8 257.7,545.4 258.1,545.9 258.5,546.4 258.9,547.0 259.3,547.6 259.6,548.1 260.0,548.7 260.4,549.3 260.7,549.9 261.0,550.5 261.4,551.1 261.7,551.8 262.0,552.4 262.3,553.0 262.5,553.7 262.8,554.3 263.0,555.0 263.3,555.7 263.5,556.4 263.7,557.0 263.8,557.7 264.0,558.5 264.0,559.3 264.5,559.7 265.1,560.1 265.6,560.6 266.1,561.1 266.6,561.6 267.1,562.1 267.5,562.6 268.0,563.1 268.4,563.7 268.8,564.2 269.2,564.8 269.6,565.4" fill="#fff" stroke="#2a2a2a" stroke-width="1.1" stroke-linejoin="round"/>
<polygon points="259.4,571.0 261.0,570.9 261.8,571.2 262.5,571.6 263.2,572.0 263.7,572.4 264.3,572.9 264.8,573.3 265.3,573.8 265.8,574.3 266.2,574.8 266.6,575.4 267.0,575.9 267.4,576.5 267.8,577.0 268.1,577.6 268.4,578.2 268.8,578.8 269.0,579.3 269.3,579.9 269.6,580.5 269.8,581.1 270.0,581.8 270.2,582.4 270.4,583.0 270.6,583.6 270.7,584.2 270.8,584.9 270.9,585.5 271.0,586.1 271.1,586.8 271.1,587.4 271.1,588.0 271.1,588.7 271.1,589.3 271.0,589.9 270.9,590.6 270.7,591.2 270.5,591.8 270.1,592.5 269.6,593.1 268.8,593.7 270.1,594.2 270.9,594.8 271.5,595.4 272.1,595.9 272.6,596.5 273.0,597.1 273.5,597.7 273.9,598.3 274.2,599.0 274.6,599.6 274.9,600.2 275.2,600.8 275.4,601.4 275.7,602.0 275.9,602.7 276.1,603.3 276.3,603.9 276.5,604.5 276.6,605.1 276.7,605.8 276.8,606.4 276.9,607.0 277.0,607.6 277.0,608.2 277.1,608.8 277.1,609.4 277.0,610.0 277.0,610.6 276.9,611.2 276.8,611.7 276.7,612.3 276.6,612.8 276.4,613.4 276.2,613.9 275.9,614.4 275.7,614.9 275.3,615.4 274.9,615.9 274.4,616.3 273.8,616.7 273.0,617.0 274.1,617.9 274.8,618.6 275.3,619.4 275.8,620.1 276.1,620.8 276.5,621.5 276.8,622.1 277.0,622.8 277.3,623.5 277.5,624.1 277.7,624.8 277.8,625.4 278.0,626.1 278.1,626.7 278.2,627.3 278.2,627.9 278.3,628.5 278.3,629.1 278.3,629.7 278.3,630.3 278.2,630.9 278.2,631.5 278.1,632.0 278.0,632.5 277.9,633.1 277.7,633.6 277.6,634.1 277.4,634.6 277.2,635.1 276.9,635.5 276.7,636.0 276.4,636.4 276.1,636.8 275.7,637.2 275.4,637.5 274.9,637.9 274.5,638.2 273.9,638.4 273.3,638.6 272.5,638.6 271.8,638.8 272.7,639.9 273.2,640.8 273.6,641.6 273.9,642.4 274.1,643.1 274.3,643.9 274.4,644.6 274.6,645.2 274.6,645.9 274.7,646.6 274.7,647.2 274.7,647.8 274.7,648.4 274.7,649.0 274.6,649.6 274.6,650.1 274.5,650.7 274.4,651.2 274.2,651.7 274.1,652.2 273.9,652.7 273.7,653.1 273.5,653.6 273.2,654.0 273.0,654.4 272.7,654.8 272.4,655.2 272.1,655.6 271.7,655.9 271.4,656.2 271.0,656.5 270.6,656.7 270.2,657.0 269.7,657.2 269.2,657.3 268.7,657.5 268.2,657.6 267.5,657.6 266.8,657.5 265.9,657.2 265.4,657.3 266.0,658.5 266.3,659.5 266.5,660.3 266.6,661.1 266.6,661.8 266.7,662.5 266.7,663.2 266.6,663.8 266.5,664.4 266.5,665.0 266.3,665.5 266.2,666.1 266.0,666.6 265.9,667.1 265.7,667.6 265.5,668.0 265.2,668.5 265.0,668.9 264.7,669.3 264.4,669.6 264.1,670.0 263.5,670.0 263.2,670.3 262.9,670.6 262.5,670.9 262.2,671.2 261.8,671.5 261.5,671.7 261.1,672.0 260.7,672.2 260.3,672.4 259.9,672.6 259.5,672.8 259.1,672.9 258.6,673.1 258.2,673.2 257.7,673.2 257.2,673.3 256.7,673.2 256.0,673.1 255.7,673.3 255.6,674.0 255.5,674.6 255.3,675.2 255.1,675.6 254.9,676.1 254.6,676.5 254.3,676.9 254.1,677.3 253.8,677.7 253.5,678.0 253.2,678.4 252.8,678.7 252.5,679.0 252.2,679.3 251.8,679.6 251.3,679.5 250.9,679.7 250.5,680.0 250.1,680.2 249.7,680.4 249.3,680.6 248.9,680.8 248.5,680.9 248.1,681.1 247.7,681.3 247.3,681.5 246.9,681.7 246.5,681.8 246.1,682.0 245.7,682.2 245.3,682.3 244.9,682.5 244.5,682.6 244.0,682.8 243.6,682.9 243.2,683.0 242.8,683.2 242.4,683.3 241.9,683.4 241.5,683.5 241.1,683.7 240.6,683.8 240.2,683.9 239.8,684.0 239.3,684.1 238.9,684.2 238.5,684.3 238.0,684.3 237.6,684.4 237.1,684.5 236.7,684.6 236.2,684.6 235.8,684.7 235.3,684.8 234.9,684.8 234.4,684.9 234.0,684.9 233.5,685.0 233.1,685.0 232.6,685.0 232.2,685.1 231.7,685.1 231.2,685.1 230.8,685.1 230.3,685.1 229.8,685.2 229.4,685.2 228.9,685.2 228.4,685.2 228.0,685.1 227.5,685.1 227.0,685.1 226.6,685.1 226.1,685.1 225.6,685.0 225.1,685.0 224.7,685.0 224.2,684.9 223.7,684.9 223.2,684.8 222.8,684.8 222.3,684.7 221.8,684.7 221.3,684.6 220.8,684.5 220.4,684.4 219.9,684.4 219.4,684.3 218.9,684.2 218.4,684.1 217.9,684.0 217.5,683.9 217.0,683.8 216.5,683.7 216.0,683.6 215.5,683.4 215.0,683.3 214.5,683.2 214.0,683.1 213.6,682.9 213.1,682.8 212.6,682.6 212.1,682.5 211.6,682.3 211.1,682.2 210.6,682.0 210.1,681.9 209.6,681.7 209.2,681.5 208.7,681.3 208.2,681.2 207.7,681.0 207.2,680.8 206.7,680.6 206.2,680.4 205.7,680.2 205.2,680.0 204.7,679.8 204.3,679.6 203.8,679.4 203.3,679.1 202.8,678.9 202.3,678.7 201.8,678.5 201.3,678.2 200.8,678.0 200.3,677.7 199.9,677.5 199.4,677.2 198.9,677.0 198.4,676.7 197.9,676.5 197.4,676.2 196.9,675.9 196.5,675.6 196.0,675.4 195.5,675.1 195.0,674.8 194.5,674.5 194.0,674.2 193.6,673.9 193.1,673.6 192.6,673.3 192.1,673.0 191.6,672.7 191.2,672.4 190.7,672.0 190.2,671.7 189.7,671.4 189.3,671.1 188.8,670.7 188.3,670.4 187.8,670.0 187.4,669.7 186.9,669.3 186.4,669.0 186.0,668.6 185.5,668.3 185.0,667.9 184.6,667.5 184.1,667.2 183.6,666.8 183.2,666.4 182.7,666.0 182.3,665.7 181.8,665.3 181.4,664.9 180.9,664.5 180.4,664.1 180.0,663.7 179.5,663.3 179.1,662.9 178.7,662.5 178.2,662.1 177.8,661.7 177.3,661.2 176.9,660.8 176.4,660.4 176.0,660.0 175.6,659.5 175.1,659.1 174.7,658.7 174.3,658.2 173.8,657.8 173.4,657.3 173.0,656.9 172.5,656.4 172.1,656.0 171.7,655.5 171.3,655.1 170.9,654.6 170.4,654.1 170.0,653.7 169.6,653.2 169.2,652.7 168.8,652.2 168.4,651.8 168.0,651.3 167.6,650.8 167.2,650.3 166.8,649.8 166.4,649.3 166.0,648.8 165.6,648.3 165.2,647.8 164.8,647.3 164.4,646.8 164.0,646.3 163.6,645.8 163.2,645.3 162.9,644.8 162.5,644.3 162.1,643.7 161.7,643.2 161.4,642.7 161.0,642.2 160.6,641.7 160.3,641.1 159.9,640.6 159.6,640.1 159.2,639.5 158.8,639.0 158.5,638.4 158.1,637.9 157.8,637.4 157.4,636.8 157.1,636.3 156.8,635.7 156.4,635.2 156.1,634.6 155.8,634.1 155.4,633.5 155.1,632.9 154.8,632.4 154.4,631.8 154.1,631.2 153.8,630.7 153.5,630.1 153.2,629.5 152.9,629.0 152.6,628.4 152.3,627.8 152.0,627.3 151.7,626.7 151.4,626.1 151.1,625.5 150.8,624.9 150.5,624.4 150.2,623.8 149.9,623.2 149.6,622.6 149.4,622.0 149.1,621.4 148.8,620.8 148.6,620.3 148.3,619.7 148.0,619.1 147.8,618.5 147.5,617.9 147.3,617.3 147.0,616.7 146.8,616.1 146.5,615.5 146.3,614.9 146.0,614.3 145.8,613.7 145.6,613.1 145.3,612.5 145.1,611.9 144.9,611.3 144.7,610.7 144.4,610.1 144.2,609.5 144.0,608.9 143.8,608.2 143.6,607.6 143.4,607.0 143.2,606.4 143.0,605.8 142.8,605.2 142.6,604.6 142.4,604.0 142.3,603.4 142.1,602.8 141.9,602.2 141.7,601.5 141.6,600.9 141.4,600.3 141.2,599.7 141.1,599.1 140.9,598.5 140.8,597.9 140.6,597.3 140.5,596.6 140.3,596.0 140.2,595.4 140.0,594.8 139.9,594.2 139.8,593.6 139.6,593.0 139.5,592.4 139.4,591.8 139.3,591.1 139.2,590.5 139.0,589.9 138.9,589.3 138.8,588.7 138.7,588.1 138.6,587.5 138.5,586.9 138.4,586.3 138.4,585.7 138.3,585.1 138.2,584.5 138.1,583.9 138.0,583.2 138.0,582.6 137.9,582.0 137.8,581.4 137.8,580.8 137.7,580.2 137.7,579.6 137.6,579.0 137.6,578.4 137.5,577.8 137.5,577.2 137.4,576.7 137.4,576.1 137.4,575.5 137.4,574.9 137.3,574.3 137.3,573.7 137.3,573.1 137.3,572.5 137.3,571.9 137.3,571.3 137.3,570.8 137.3,570.2 137.3,569.6 137.3,569.0 137.3,568.4 137.3,567.9 137.3,567.3 137.3,566.7 137.4,566.1 137.4,565.6 137.4,565.0 137.5,564.4 137.5,563.9 137.5,563.3 137.6,562.7 137.6,562.2 137.7,561.6 137.7,561.1 137.8,560.5 137.9,560.0 137.9,559.4 138.0,558.9 138.1,558.3 138.1,557.8 138.2,557.2 138.3,556.7 138.4,556.1 138.5,555.6 138.6,555.1 138.7,554.5 138.8,554.0 138.9,553.5 139.0,552.9 139.1,552.4 139.2,551.9 139.3,551.4 139.4,550.8 139.5,550.3 139.7,549.8 139.8,549.3 139.9,548.8 140.1,548.3 140.2,547.8 140.3,547.3 140.5,546.8 140.6,546.3 140.8,545.8 140.9,545.3 141.1,544.8 141.3,544.3 141.4,543.8 141.6,543.3 141.8,542.9 141.9,542.4 142.1,541.9 142.3,541.4 142.5,541.0 142.7,540.5 142.9,540.0 143.1,539.6 143.3,539.1 143.5,538.7 143.7,538.2 143.9,537.8 144.1,537.3 144.3,536.9 144.5,536.4 144.7,536.0 144.9,535.6 145.2,535.1 145.4,534.7 145.6,534.3 145.9,533.9 146.1,533.4 146.3,533.0 146.6,532.6 146.8,532.2 147.1,531.8 147.3,531.4 147.6,531.0 147.8,530.6 148.1,530.2 148.4,529.8 148.6,529.4 148.9,529.0 149.2,528.7 149.4,528.3 149.7,527.9 150.0,527.5 150.3,527.2 150.6,526.8 150.9,526.4 151.1,526.1 151.4,525.7 151.7,525.4 152.0,525.0 152.3,524.7 152.6,524.4 153.0,524.0 153.3,523.7 153.6,523.4 153.9,523.0 154.2,522.7 154.5,522.4 154.9,522.1 155.2,521.8 155.5,521.5 155.8,521.2 156.2,520.9 156.5,520.6 156.8,520.3 157.2,520.0 157.5,519.7 157.9,519.4 158.2,519.1 158.6,518.9 158.9,518.6 159.3,518.3 159.6,518.1 160.0,517.8 160.4,517.6 160.7,517.3 161.1,517.1 161.5,516.8 161.8,516.6 162.2,516.4 162.6,516.1 163.0,515.9 163.3,515.7 163.7,515.5 164.1,515.3 164.5,515.0 164.9,514.8 165.3,514.6 165.7,514.4 166.1,514.2 166.5,514.1 166.9,513.9 167.3,513.7 167.7,513.5 168.1,513.3 168.5,513.2 168.9,513.0 169.3,512.8 169.7,512.7 170.1,512.5 170.5,512.4 171.0,512.2 171.4,512.1 171.8,512.0 172.2,511.8 172.6,511.7 173.1,511.6 173.5,511.5 173.9,511.3 174.4,511.2 174.8,511.1 175.2,511.0 175.7,510.9 176.1,510.8 176.5,510.7 177.0,510.7 177.4,510.6 177.9,510.5 178.3,510.4 178.8,510.4 179.2,510.3 179.7,510.2 180.1,510.2 180.6,510.1 181.0,510.1 181.5,510.0 181.9,510.0 182.4,510.0 182.8,509.9 183.3,509.9 183.8,509.9 184.2,509.9 184.7,509.9 185.2,509.8 185.6,509.8 186.1,509.8 186.6,509.8 187.0,509.9 187.5,509.9 188.0,509.9 188.4,509.9 188.9,509.9 189.4,510.0 189.9,510.0 190.3,510.0 190.8,510.1 191.3,510.1 191.8,510.2 192.2,510.2 192.7,510.3 193.2,510.3 193.7,510.4 194.2,510.5 194.6,510.6 195.1,510.6 195.6,510.7 196.1,510.8 196.6,510.9 197.1,511.0 197.5,511.1 198.0,511.2 198.5,511.3 199.0,511.4 199.5,511.6 200.0,511.7 200.5,511.8 201.0,511.9 201.4,512.1 201.9,512.2 202.4,512.4 202.9,512.5 203.4,512.7 203.9,512.8 204.4,513.0 204.9,513.1 205.4,513.3 205.8,513.5 206.3,513.7 206.8,513.8 207.3,514.0 207.8,514.5 208.3,514.8 208.8,515.1 209.3,515.5 209.7,515.9 210.2,516.3 210.7,516.8 211.2,517.3 211.6,517.8 212.1,518.6 212.6,518.5 213.1,518.3 213.6,518.2 214.1,518.2 214.6,518.2 215.1,518.3 215.6,518.4 216.1,518.5 216.6,518.6 217.1,518.7 217.6,519.0 218.1,519.1 218.6,519.2 219.1,519.3 219.6,519.5 220.1,519.7 220.6,519.9 221.1,520.1 221.6,520.4 222.1,520.6 222.6,520.9 223.0,521.3 223.5,521.6 224.0,522.0 224.4,522.4 224.9,522.8 225.4,523.2 225.8,523.7 226.2,524.2 226.7,524.7 227.1,525.2 227.5,525.8 227.9,526.4 228.3,527.0 228.7,527.6 229.0,528.3 229.4,529.0 229.7,529.8 229.9,530.6 230.2,531.6 230.2,533.0 230.9,532.6 231.6,532.3 232.3,532.1 232.9,532.1 233.5,532.1 234.0,532.2 234.6,532.3 235.1,532.4 235.7,532.6 236.2,532.8 236.7,533.1 237.3,533.3 237.8,533.6 238.3,533.9 238.8,534.2 239.2,534.6 239.7,535.0 240.2,535.3 240.6,535.7 241.1,536.2 241.5,536.6 241.9,537.1 242.4,537.6 242.8,538.1 243.2,538.6 243.5,539.1 243.9,539.7 244.3,540.2 244.6,540.8 244.9,541.4 245.2,542.0 245.5,542.7 245.8,543.3 246.1,544.0 246.3,544.7 246.5,545.4 246.7,546.2 246.9,546.9 247.0,547.8 246.9,548.8 246.6,550.1 247.6,549.8 248.4,549.8 249.1,549.9 249.7,550.1 250.3,550.3 250.9,550.6 251.5,550.9 252.0,551.2 252.5,551.6 253.1,552.0 253.5,552.4 254.0,552.8 254.5,553.2 254.9,553.7 255.4,554.1 255.8,554.6 256.2,555.1 256.6,555.6 257.0,556.2 257.4,556.7 257.7,557.2 258.0,557.8 258.4,558.4 258.7,559.0 259.0,559.6 259.2,560.2 259.5,560.8 259.7,561.4 259.9,562.0 260.1,562.7 260.3,563.3 260.5,564.0 260.6,564.7 260.7,565.3 260.8,566.0 260.9,566.7 260.9,567.5 260.8,568.2 260.7,569.0 260.5,569.8 259.4,571.0" fill="#fff" stroke="#2a2a2a" stroke-width="1" stroke-linejoin="round"/>
<line x1="259.4" y1="571.0" x2="268.8" y2="565.8" stroke="#2a2a2a" stroke-width="0.8"/>
<line x1="268.3" y1="593.7" x2="278.8" y2="591.4" stroke="#2a2a2a" stroke-width="0.8"/>
<line x1="272.3" y1="616.7" x2="283.2" y2="617.3" stroke="#2a2a2a" stroke-width="0.8"/>
<line x1="271.0" y1="638.1" x2="281.6" y2="641.5" stroke="#2a2a2a" stroke-width="0.8"/>
<line x1="264.6" y1="656.2" x2="274.2" y2="662.1" stroke="#2a2a2a" stroke-width="0.8"/>
<line x1="230.1" y1="533.8" x2="235.5" y2="523.9" stroke="#2a2a2a" stroke-width="0.8"/>
<line x1="246.3" y1="550.5" x2="253.9" y2="542.7" stroke="#2a2a2a" stroke-width="0.8"/>
<ellipse cx="206.0" cy="597.0" rx="51.0" ry="73.0" transform="rotate(-25 206.0 597.0)" fill="none" stroke="#2a2a2a" stroke-width="1"/>
<ellipse cx="206.5" cy="597.5" rx="48.0" ry="69.0" transform="rotate(-25 206.5 597.5)" fill="none" stroke="#2a2a2a" stroke-width="0.8"/>
<circle cx="251.3" cy="589.2" r="1.5" fill="none" stroke="#2a2a2a" stroke-width="0.9"/>
<circle cx="255.5" cy="610.8" r="1.5" fill="none" stroke="#2a2a2a" stroke-width="0.9"/>
<circle cx="253.8" cy="630.8" r="1.5" fill="none" stroke="#2a2a2a" stroke-width="0.9"/>
<circle cx="246.4" cy="646.8" r="1.5" fill="none" stroke="#2a2a2a" stroke-width="0.9"/>
<circle cx="234.2" cy="656.9" r="1.5" fill="none" stroke="#2a2a2a" stroke-width="0.9"/>
<circle cx="218.6" cy="659.8" r="1.5" fill="none" stroke="#2a2a2a" stroke-width="0.9"/>
<circle cx="201.6" cy="655.1" r="1.5" fill="none" stroke="#2a2a2a" stroke-width="0.9"/>
<circle cx="185.2" cy="643.6" r="1.5" fill="none" stroke="#2a2a2a" stroke-width="0.9"/>
<circle cx="171.3" cy="626.5" r="1.5" fill="none" stroke="#2a2a2a" stroke-width="0.9"/>
<circle cx="161.7" cy="605.8" r="1.5" fill="none" stroke="#2a2a2a" stroke-width="0.9"/>
<circle cx="157.5" cy="584.2" r="1.5" fill="none" stroke="#2a2a2a" stroke-width="0.9"/>
<circle cx="159.2" cy="564.2" r="1.5" fill="none" stroke="#2a2a2a" stroke-width="0.9"/>
<circle cx="166.6" cy="548.2" r="1.5" fill="none" stroke="#2a2a2a" stroke-width="0.9"/>
<circle cx="178.8" cy="538.1" r="1.5" fill="none" stroke="#2a2a2a" stroke-width="0.9"/>
<circle cx="194.4" cy="535.2" r="1.5" fill="none" stroke="#2a2a2a" stroke-width="0.9"/>
<circle cx="211.4" cy="539.9" r="1.5" fill="none" stroke="#2a2a2a" stroke-width="0.9"/>
<circle cx="227.8" cy="551.4" r="1.5" fill="none" stroke="#2a2a2a" stroke-width="0.9"/>
<circle cx="241.7" cy="568.5" r="1.5" fill="none" stroke="#2a2a2a" stroke-width="0.9"/>
<ellipse cx="208.0" cy="598.5" rx="41.5" ry="66.0" transform="rotate(-25 208.0 598.5)" fill="none" stroke="#222" stroke-width="1.6"/>
<ellipse cx="208.5" cy="599.0" rx="39.5" ry="64.0" transform="rotate(-25 208.5 599.0)" fill="#fff" stroke="#2a2a2a" stroke-width="1"/>
<ellipse cx="209.0" cy="599.5" rx="37.5" ry="62.0" transform="rotate(-25 209.0 599.5)" fill="none" stroke="#2a2a2a" stroke-width="0.8"/>
<line x1="202" y1="599" x2="160" y2="622" stroke="#2a2a2a" stroke-width="1"/>
<polygon points="396.9,667.9 396.9,666.2 397.0,664.5 397.1,662.9 397.3,661.3 397.5,659.7 397.7,658.1 398.1,656.6 398.4,655.1 398.8,653.6 399.2,652.2 399.7,650.8 400.3,649.5 400.8,648.1 401.4,646.9 402.1,645.6 402.8,644.4 403.5,643.3 404.3,642.2 405.1,641.1 406.0,640.1 406.9,639.1 407.8,638.2 408.8,637.3 409.8,636.5 410.8,635.7 411.9,635.0 413.0,634.3 414.1,633.7 415.3,633.1 416.5,632.6 417.7,632.2 418.9,631.8 420.2,631.4 421.5,631.1 463.6,622.5 464.6,622.3 465.7,622.2 466.8,622.1 467.9,622.0 469.0,622.0 470.1,622.1 471.3,622.1 472.4,622.3 473.6,622.4 474.7,622.6 475.9,622.9 477.0,623.2 478.2,623.6 479.3,624.0 480.5,624.4 481.6,624.9 482.8,625.4 483.9,626.0 485.0,626.6 486.2,627.2 487.3,627.9 488.4,628.6 489.5,629.4 490.6,630.2 491.6,631.0 492.7,631.9 493.8,632.8 494.8,633.8 495.8,634.8 496.8,635.8 497.8,636.8 498.8,637.9 499.7,639.0 500.6,640.1 501.5,641.3 502.4,642.5 503.2,643.7 504.1,644.9 504.9,646.2 505.6,647.5 506.4,648.8 507.1,650.1 507.8,651.4 508.4,652.8 509.1,654.2 509.7,655.6 510.2,657.0 510.8,658.4 511.3,659.8 511.7,661.2 512.2,662.6 512.6,664.1 512.9,665.5 513.3,667.0 513.6,668.4 513.8,669.8 514.1,671.3 514.3,672.7 514.4,674.2 514.5,675.6 514.6,677.0 514.7,678.4 514.7,679.8 514.7,681.2 514.6,682.6 514.5,684.0 514.4,685.3 514.2,686.6 514.0,687.9 513.8,689.2 513.5,690.5 513.2,691.8 512.8,693.0 512.5,694.2 512.0,695.4 511.6,696.5 511.1,697.6 510.6,698.7 510.1,699.8 509.5,700.8 508.9,701.8 508.2,702.8 507.6,703.7 506.9,704.6 482.9,734.9 482.0,735.9 481.1,736.9 480.2,737.8 479.2,738.7 478.2,739.5 477.2,740.3 476.1,741.0 475.0,741.7 473.9,742.3 472.7,742.9 471.5,743.4 470.3,743.8 469.1,744.2 467.8,744.6 466.5,744.9 465.2,745.1 463.9,745.3 462.5,745.4 461.1,745.5 459.8,745.5 458.4,745.4 456.9,745.3 455.5,745.1 454.1,744.9 452.6,744.6 451.1,744.3 449.7,743.9 448.2,743.5 446.7,743.0 445.2,742.4 443.8,741.8 442.3,741.2 440.8,740.5 439.3,739.7 437.9,738.9 436.4,738.0 434.9,737.1 433.5,736.1 432.1,735.1 430.6,734.1 429.2,733.0 427.8,731.8 426.4,730.6 425.1,729.4 423.7,728.1 422.4,726.8 421.1,725.5 419.8,724.1 418.6,722.7 417.3,721.2 416.1,719.7 414.9,718.2 413.8,716.6 412.7,715.1 411.6,713.5 410.5,711.8 409.5,710.2 408.5,708.5 407.5,706.8 406.6,705.1 405.7,703.4 404.9,701.6 404.1,699.9 403.3,698.1 402.6,696.3 401.9,694.5 401.2,692.7 400.6,690.9 400.1,689.1 399.6,687.3 399.1,685.5 398.7,683.7 398.3,681.9 397.9,680.1 397.7,678.3 397.4,676.5 397.2,674.8 397.1,673.0 396.9,671.3 396.9,669.6" fill="#fff" stroke="#2a2a2a" stroke-width="1" stroke-linejoin="round"/>
<ellipse cx="479.5" cy="668.0" rx="33.0" ry="47.0" transform="rotate(-24 479.5 668.0)" fill="none" stroke="#2a2a2a" stroke-width="0.9"/>
<ellipse cx="472.0" cy="670.0" rx="35.0" ry="49.5" transform="rotate(-24 472.0 670.0)" fill="none" stroke="#2a2a2a" stroke-width="0.8" stroke-dasharray="40 3"/>
<ellipse cx="444.0" cy="688.0" rx="41.0" ry="62.0" transform="rotate(-30 444.0 688.0)" fill="#fff" stroke="#2a2a2a" stroke-width="1.1"/>
<ellipse cx="444.0" cy="688.5" rx="38.5" ry="58.5" transform="rotate(-30 444.0 688.5)" fill="none" stroke="#2a2a2a" stroke-width="0.8"/>
<circle cx="479.2" cy="676.0" r="1.3" fill="none" stroke="#2a2a2a" stroke-width="0.9"/>
<circle cx="484.0" cy="688.6" r="1.3" fill="none" stroke="#2a2a2a" stroke-width="0.9"/>
<circle cx="486.4" cy="701.1" r="1.3" fill="none" stroke="#2a2a2a" stroke-width="0.9"/>
<circle cx="486.4" cy="712.9" r="1.3" fill="none" stroke="#2a2a2a" stroke-width="0.9"/>
<circle cx="483.9" cy="723.2" r="1.3" fill="none" stroke="#2a2a2a" stroke-width="0.9"/>
<circle cx="479.1" cy="731.6" r="1.3" fill="none" stroke="#2a2a2a" stroke-width="0.9"/>
<circle cx="472.2" cy="737.4" r="1.3" fill="none" stroke="#2a2a2a" stroke-width="0.9"/>
<circle cx="463.8" cy="740.4" r="1.3" fill="none" stroke="#2a2a2a" stroke-width="0.9"/>
<circle cx="454.1" cy="740.4" r="1.3" fill="none" stroke="#2a2a2a" stroke-width="0.9"/>
<circle cx="443.9" cy="737.4" r="1.3" fill="none" stroke="#2a2a2a" stroke-width="0.9"/>
<circle cx="433.7" cy="731.5" r="1.3" fill="none" stroke="#2a2a2a" stroke-width="0.9"/>
<circle cx="424.1" cy="723.1" r="1.3" fill="none" stroke="#2a2a2a" stroke-width="0.9"/>
<circle cx="415.6" cy="712.8" r="1.3" fill="none" stroke="#2a2a2a" stroke-width="0.9"/>
<circle cx="408.8" cy="701.0" r="1.3" fill="none" stroke="#2a2a2a" stroke-width="0.9"/>
<circle cx="404.0" cy="688.4" r="1.3" fill="none" stroke="#2a2a2a" stroke-width="0.9"/>
<circle cx="401.6" cy="675.9" r="1.3" fill="none" stroke="#2a2a2a" stroke-width="0.9"/>
<circle cx="401.6" cy="664.1" r="1.3" fill="none" stroke="#2a2a2a" stroke-width="0.9"/>
<circle cx="404.1" cy="653.8" r="1.3" fill="none" stroke="#2a2a2a" stroke-width="0.9"/>
<circle cx="408.9" cy="645.4" r="1.3" fill="none" stroke="#2a2a2a" stroke-width="0.9"/>
<circle cx="415.8" cy="639.6" r="1.3" fill="none" stroke="#2a2a2a" stroke-width="0.9"/>
<circle cx="424.2" cy="636.6" r="1.3" fill="none" stroke="#2a2a2a" stroke-width="0.9"/>
<circle cx="433.9" cy="636.6" r="1.3" fill="none" stroke="#2a2a2a" stroke-width="0.9"/>
<circle cx="444.1" cy="639.6" r="1.3" fill="none" stroke="#2a2a2a" stroke-width="0.9"/>
<circle cx="454.3" cy="645.5" r="1.3" fill="none" stroke="#2a2a2a" stroke-width="0.9"/>
<circle cx="463.9" cy="653.9" r="1.3" fill="none" stroke="#2a2a2a" stroke-width="0.9"/>
<circle cx="472.4" cy="664.2" r="1.3" fill="none" stroke="#2a2a2a" stroke-width="0.9"/>
<ellipse cx="444.0" cy="689.5" rx="33.5" ry="50.0" transform="rotate(-30 444.0 689.5)" fill="#fff" stroke="#2a2a2a" stroke-width="1"/>
<ellipse cx="444.0" cy="689.5" rx="32.0" ry="48.0" transform="rotate(-30 444.0 689.5)" fill="#fff" stroke="#2a2a2a" stroke-width="1.1"/>
<ellipse cx="458.0" cy="681.0" rx="25.0" ry="40.0" transform="rotate(-30 458.0 681.0)" fill="#fff" stroke="#2a2a2a" stroke-width="0.9"/>
<line x1="481.1" y1="712.6" x2="489.0" y2="705.8" stroke="#333" stroke-width="1.1"/>
<line x1="479.6" y1="713.9" x2="487.7" y2="707.0" stroke="#333" stroke-width="1.1"/>
<line x1="478.0" y1="715.1" x2="486.2" y2="708.0" stroke="#333" stroke-width="1.1"/>
<line x1="476.2" y1="716.0" x2="484.6" y2="708.9" stroke="#333" stroke-width="1.1"/>
<line x1="474.3" y1="716.7" x2="482.9" y2="709.5" stroke="#333" stroke-width="1.1"/>
<line x1="472.3" y1="717.1" x2="481.1" y2="709.9" stroke="#333" stroke-width="1.1"/>
<line x1="470.2" y1="717.3" x2="479.3" y2="710.0" stroke="#333" stroke-width="1.1"/>
<line x1="468.1" y1="717.3" x2="477.3" y2="710.0" stroke="#333" stroke-width="1.1"/>
<line x1="465.8" y1="717.0" x2="475.3" y2="709.8" stroke="#333" stroke-width="1.1"/>
<line x1="463.5" y1="716.5" x2="473.2" y2="709.3" stroke="#333" stroke-width="1.1"/>
<line x1="461.2" y1="715.8" x2="471.1" y2="708.6" stroke="#333" stroke-width="1.1"/>
<line x1="458.9" y1="714.8" x2="469.0" y2="707.7" stroke="#333" stroke-width="1.1"/>
<line x1="456.5" y1="713.6" x2="466.8" y2="706.6" stroke="#333" stroke-width="1.1"/>
<line x1="454.2" y1="712.2" x2="464.7" y2="705.3" stroke="#333" stroke-width="1.1"/>
<line x1="451.8" y1="710.6" x2="462.6" y2="703.8" stroke="#333" stroke-width="1.1"/>
<line x1="449.6" y1="708.8" x2="460.5" y2="702.2" stroke="#333" stroke-width="1.1"/>
<line x1="447.3" y1="706.8" x2="458.5" y2="700.3" stroke="#333" stroke-width="1.1"/>
<line x1="445.2" y1="704.6" x2="456.6" y2="698.4" stroke="#333" stroke-width="1.1"/>
<line x1="443.1" y1="702.3" x2="454.7" y2="696.2" stroke="#333" stroke-width="1.1"/>
<line x1="441.1" y1="699.8" x2="452.9" y2="694.0" stroke="#333" stroke-width="1.1"/>
<line x1="439.3" y1="697.2" x2="451.2" y2="691.6" stroke="#333" stroke-width="1.1"/>
<line x1="437.5" y1="694.5" x2="449.6" y2="689.2" stroke="#333" stroke-width="1.1"/>
<line x1="435.9" y1="691.7" x2="448.2" y2="686.6" stroke="#333" stroke-width="1.1"/>
<line x1="434.5" y1="688.9" x2="446.9" y2="684.0" stroke="#333" stroke-width="1.1"/>
<line x1="433.2" y1="686.0" x2="445.7" y2="681.4" stroke="#333" stroke-width="1.1"/>
<line x1="432.1" y1="683.0" x2="444.6" y2="678.7" stroke="#333" stroke-width="1.1"/>
<line x1="431.1" y1="680.1" x2="443.7" y2="676.0" stroke="#333" stroke-width="1.1"/>
<line x1="430.3" y1="677.1" x2="443.0" y2="673.3" stroke="#333" stroke-width="1.1"/>
<line x1="429.7" y1="674.2" x2="442.5" y2="670.7" stroke="#333" stroke-width="1.1"/>
<line x1="429.3" y1="671.3" x2="442.1" y2="668.1" stroke="#333" stroke-width="1.1"/>
<line x1="429.1" y1="668.5" x2="441.8" y2="665.5" stroke="#333" stroke-width="1.1"/>
<line x1="429.0" y1="665.8" x2="441.8" y2="663.0" stroke="#333" stroke-width="1.1"/>
<line x1="429.2" y1="663.2" x2="441.9" y2="660.6" stroke="#333" stroke-width="1.1"/>
<line x1="429.5" y1="660.7" x2="442.2" y2="658.4" stroke="#333" stroke-width="1.1"/>
<line x1="430.1" y1="658.3" x2="442.7" y2="656.2" stroke="#333" stroke-width="1.1"/>
<line x1="430.8" y1="656.1" x2="443.3" y2="654.2" stroke="#333" stroke-width="1.1"/>
<line x1="431.7" y1="654.0" x2="444.1" y2="652.3" stroke="#333" stroke-width="1.1"/>
<line x1="432.8" y1="652.1" x2="445.1" y2="650.6" stroke="#333" stroke-width="1.1"/>
<line x1="434.0" y1="650.4" x2="446.2" y2="649.1" stroke="#333" stroke-width="1.1"/>
<line x1="435.4" y1="648.9" x2="447.4" y2="647.7" stroke="#333" stroke-width="1.1"/>
<line x1="436.9" y1="647.6" x2="448.8" y2="646.6" stroke="#333" stroke-width="1.1"/>
<line x1="438.6" y1="646.6" x2="450.3" y2="645.6" stroke="#333" stroke-width="1.1"/>
<line x1="440.4" y1="645.7" x2="452.0" y2="644.9" stroke="#333" stroke-width="1.1"/>
<line x1="442.4" y1="645.1" x2="453.7" y2="644.4" stroke="#333" stroke-width="1.1"/>
<line x1="444.4" y1="644.8" x2="455.5" y2="644.0" stroke="#333" stroke-width="1.1"/>
<polyline points="489.0,705.8 488.5,706.4 487.9,706.9 487.2,707.4 486.6,707.8 485.9,708.2 485.2,708.6 484.5,708.9 483.8,709.2 483.0,709.5 482.2,709.7 481.4,709.8 480.6,709.9 479.8,710.0 478.9,710.1 478.1,710.1 477.2,710.0 476.3,709.9 475.4,709.8 474.5,709.6 473.6,709.4 472.7,709.1 471.8,708.8 470.8,708.5 469.9,708.1 469.0,707.7 468.0,707.2 467.1,706.7 466.2,706.2 465.2,705.6 464.3,705.0 463.4,704.4 462.4,703.7 461.5,703.0 460.6,702.2 459.7,701.4 458.9,700.6 458.0,699.8 457.1,698.9 456.3,698.0 455.4,697.1 454.6,696.1 453.8,695.2 453.0,694.2 452.3,693.1 451.5,692.1 450.8,691.0 450.1,690.0 449.5,688.9 448.8,687.8 448.2,686.6 447.6,685.5 447.0,684.3 446.5,683.2 445.9,682.0 445.4,680.8 445.0,679.7 444.5,678.5 444.1,677.3 443.8,676.1 443.4,674.9 443.1,673.8 442.8,672.6 442.6,671.4 442.4,670.3 442.2,669.1 442.0,668.0 441.9,666.8 441.9,665.7 441.8,664.6 441.8,663.5 441.8,662.4 441.9,661.4 441.9,660.4 442.1,659.4 442.2,658.4 442.4,657.4 442.6,656.5 442.9,655.5 443.2,654.7 443.5,653.8 443.8,653.0 444.2,652.2 444.6,651.4 445.0,650.7 445.5,650.0 446.0,649.3 446.5,648.7 447.1,648.1 447.7,647.5 448.3,647.0 448.9,646.5 449.5,646.1 450.2,645.7 450.9,645.3 451.6,645.0 452.4,644.7 453.1,644.5 453.9,644.3 454.7,644.2 455.5,644.0" fill="none" stroke="#2a2a2a" stroke-width="0.9" stroke-linejoin="round"/>
<line x1="478.2" y1="717.2" x2="482.4" y2="710.5" stroke="#333" stroke-width="1.1"/>
<line x1="477.2" y1="719.8" x2="481.7" y2="712.7" stroke="#333" stroke-width="1.1"/>
<line x1="476.1" y1="722.1" x2="480.8" y2="714.6" stroke="#333" stroke-width="1.1"/>
<line x1="474.7" y1="724.2" x2="479.7" y2="716.5" stroke="#333" stroke-width="1.1"/>
<line x1="473.2" y1="726.2" x2="478.4" y2="718.1" stroke="#333" stroke-width="1.1"/>
<line x1="471.5" y1="727.9" x2="477.1" y2="719.6" stroke="#333" stroke-width="1.1"/>
<line x1="469.6" y1="729.4" x2="475.5" y2="720.9" stroke="#333" stroke-width="1.1"/>
<line x1="467.6" y1="730.7" x2="473.9" y2="721.9" stroke="#333" stroke-width="1.1"/>
<line x1="465.5" y1="731.8" x2="472.1" y2="722.8" stroke="#333" stroke-width="1.1"/>
<line x1="463.2" y1="732.6" x2="470.2" y2="723.5" stroke="#333" stroke-width="1.1"/>
<line x1="460.9" y1="733.2" x2="468.3" y2="723.9" stroke="#333" stroke-width="1.1"/>
<line x1="458.4" y1="733.5" x2="466.2" y2="724.1" stroke="#333" stroke-width="1.1"/>
<line x1="455.8" y1="733.5" x2="464.1" y2="724.1" stroke="#333" stroke-width="1.1"/>
<line x1="453.2" y1="733.4" x2="461.9" y2="723.9" stroke="#333" stroke-width="1.1"/>
<line x1="450.6" y1="732.9" x2="459.6" y2="723.4" stroke="#333" stroke-width="1.1"/>
<line x1="447.9" y1="732.2" x2="457.3" y2="722.8" stroke="#333" stroke-width="1.1"/>
<line x1="445.1" y1="731.3" x2="455.0" y2="721.9" stroke="#333" stroke-width="1.1"/>
<line x1="442.4" y1="730.2" x2="452.7" y2="720.8" stroke="#333" stroke-width="1.1"/>
<line x1="439.7" y1="728.8" x2="450.4" y2="719.5" stroke="#333" stroke-width="1.1"/>
<line x1="437.0" y1="727.2" x2="448.1" y2="718.1" stroke="#333" stroke-width="1.1"/>
<line x1="434.3" y1="725.3" x2="445.8" y2="716.4" stroke="#333" stroke-width="1.1"/>
<line x1="431.7" y1="723.3" x2="443.6" y2="714.6" stroke="#333" stroke-width="1.1"/>
<line x1="429.2" y1="721.1" x2="441.4" y2="712.6" stroke="#333" stroke-width="1.1"/>
<line x1="426.8" y1="718.6" x2="439.3" y2="710.4" stroke="#333" stroke-width="1.1"/>
<line x1="424.4" y1="716.1" x2="437.2" y2="708.1" stroke="#333" stroke-width="1.1"/>
<line x1="422.2" y1="713.3" x2="435.3" y2="705.7" stroke="#333" stroke-width="1.1"/>
<line x1="420.1" y1="710.5" x2="433.4" y2="703.1" stroke="#333" stroke-width="1.1"/>
<line x1="418.1" y1="707.5" x2="431.7" y2="700.5" stroke="#333" stroke-width="1.1"/>
<line x1="416.2" y1="704.4" x2="430.1" y2="697.8" stroke="#333" stroke-width="1.1"/>
<line x1="414.6" y1="701.2" x2="428.6" y2="695.0" stroke="#333" stroke-width="1.1"/>
<line x1="413.1" y1="698.0" x2="427.2" y2="692.1" stroke="#333" stroke-width="1.1"/>
<line x1="411.7" y1="694.7" x2="426.0" y2="689.2" stroke="#333" stroke-width="1.1"/>
<line x1="410.6" y1="691.4" x2="425.0" y2="686.3" stroke="#333" stroke-width="1.1"/>
<line x1="409.7" y1="688.1" x2="424.1" y2="683.4" stroke="#333" stroke-width="1.1"/>
<line x1="408.9" y1="684.8" x2="423.4" y2="680.5" stroke="#333" stroke-width="1.1"/>
<line x1="408.3" y1="681.5" x2="422.8" y2="677.6" stroke="#333" stroke-width="1.1"/>
<line x1="408.0" y1="678.2" x2="422.5" y2="674.8" stroke="#333" stroke-width="1.1"/>
<line x1="407.8" y1="675.1" x2="422.3" y2="672.0" stroke="#333" stroke-width="1.1"/>
<line x1="407.9" y1="672.0" x2="422.2" y2="669.3" stroke="#333" stroke-width="1.1"/>
<line x1="408.2" y1="669.0" x2="422.4" y2="666.7" stroke="#333" stroke-width="1.1"/>
<line x1="408.6" y1="666.1" x2="422.7" y2="664.2" stroke="#333" stroke-width="1.1"/>
<line x1="409.3" y1="663.3" x2="423.2" y2="661.9" stroke="#333" stroke-width="1.1"/>
<line x1="410.2" y1="660.7" x2="423.8" y2="659.6" stroke="#333" stroke-width="1.1"/>
<line x1="411.2" y1="658.3" x2="424.7" y2="657.5" stroke="#333" stroke-width="1.1"/>
<line x1="412.5" y1="656.0" x2="425.7" y2="655.6" stroke="#333" stroke-width="1.1"/>
<line x1="413.9" y1="654.0" x2="426.8" y2="653.8" stroke="#333" stroke-width="1.1"/>
<line x1="415.5" y1="652.1" x2="428.1" y2="652.3" stroke="#333" stroke-width="1.1"/>
<line x1="417.3" y1="650.5" x2="429.5" y2="650.9" stroke="#333" stroke-width="1.1"/>
<line x1="419.2" y1="649.0" x2="431.1" y2="649.7" stroke="#333" stroke-width="1.1"/>
<line x1="421.2" y1="647.8" x2="432.8" y2="648.7" stroke="#333" stroke-width="1.1"/>
<line x1="423.4" y1="646.9" x2="434.6" y2="647.9" stroke="#333" stroke-width="1.1"/>
<line x1="425.7" y1="646.2" x2="436.5" y2="647.3" stroke="#333" stroke-width="1.1"/>
<line x1="428.1" y1="645.7" x2="438.5" y2="647.0" stroke="#333" stroke-width="1.1"/>
<polyline points="482.4,710.5 482.1,711.5 481.8,712.4 481.4,713.3 481.0,714.1 480.6,715.0 480.1,715.8 479.6,716.5 479.1,717.3 478.6,718.0 478.0,718.6 477.4,719.3 476.8,719.9 476.1,720.4 475.4,720.9 474.7,721.4 474.0,721.9 473.3,722.3 472.5,722.6 471.7,723.0 470.9,723.3 470.1,723.5 469.2,723.7 468.3,723.9 467.5,724.0 466.6,724.1 465.6,724.1 464.7,724.1 463.8,724.1 462.8,724.0 461.9,723.9 460.9,723.7 459.9,723.5 458.9,723.3 458.0,723.0 457.0,722.6 456.0,722.3 454.9,721.9 453.9,721.4 452.9,720.9 451.9,720.4 450.9,719.9 449.9,719.3 448.9,718.6 447.9,718.0 446.9,717.3 445.9,716.5 445.0,715.7 444.0,714.9 443.0,714.1 442.1,713.2 441.2,712.4 440.2,711.4 439.3,710.5 438.4,709.5 437.5,708.5 436.7,707.5 435.8,706.4 435.0,705.3 434.2,704.3 433.4,703.1 432.7,702.0 431.9,700.9 431.2,699.7 430.5,698.5 429.8,697.3 429.2,696.1 428.5,694.9 427.9,693.6 427.4,692.4 426.8,691.2 426.3,689.9 425.8,688.6 425.4,687.4 424.9,686.1 424.5,684.9 424.2,683.6 423.8,682.3 423.5,681.1 423.2,679.8 423.0,678.6 422.8,677.3 422.6,676.1 422.5,674.9 422.4,673.7 422.3,672.5 422.2,671.3 422.2,670.1 422.2,669.0 422.3,667.8 422.4,666.7 422.5,665.6 422.6,664.6 422.8,663.5 423.0,662.5 423.3,661.5 423.6,660.5 423.9,659.5 424.2,658.6 424.6,657.7 425.0,656.9 425.4,656.0 425.9,655.2 426.4,654.5 426.9,653.7 427.4,653.0 428.0,652.4 428.6,651.7 429.2,651.1 429.9,650.6 430.6,650.1 431.3,649.6 432.0,649.1 432.7,648.7 433.5,648.4 434.3,648.0 435.1,647.7 435.9,647.5 436.8,647.3 437.7,647.1 438.5,647.0" fill="none" stroke="#2a2a2a" stroke-width="1" stroke-linejoin="round"/>
<polygon points="503.0,723.8 513.1,718.1 511.1,714.4 501.0,720.2" fill="#bbb" stroke="#2a2a2a" stroke-width="1" stroke-linejoin="round"/>
<line x1="504.1" y1="723.2" x2="502.0" y2="719.6" stroke="#222" stroke-width="0.9"/>
<line x1="505.4" y1="722.5" x2="503.3" y2="718.8" stroke="#222" stroke-width="0.9"/>
<line x1="506.7" y1="721.7" x2="504.6" y2="718.1" stroke="#222" stroke-width="0.9"/>
<line x1="508.0" y1="721.0" x2="505.9" y2="717.3" stroke="#222" stroke-width="0.9"/>
<line x1="509.3" y1="720.3" x2="507.2" y2="716.6" stroke="#222" stroke-width="0.9"/>
<line x1="510.6" y1="719.5" x2="508.5" y2="715.9" stroke="#222" stroke-width="0.9"/>
<line x1="511.9" y1="718.8" x2="509.8" y2="715.1" stroke="#222" stroke-width="0.9"/>
<ellipse cx="512.1" cy="716.2" rx="1.8" ry="3.9" transform="rotate(-29.74488129694222 512.1 716.2)" fill="#555" stroke="#2a2a2a" stroke-width="1"/>
<polygon points="514.0,719.6 517.9,717.3 514.1,710.7 510.2,712.9" fill="#666" stroke="#2a2a2a" stroke-width="1" stroke-linejoin="round"/>
<ellipse cx="516.0" cy="714.0" rx="1.9" ry="3.9" transform="rotate(-29.74488129694222 516.0 714.0)" fill="#444" stroke="#2a2a2a" stroke-width="1"/>
<ellipse cx="516.0" cy="714.0" rx="0.9" ry="1.8" transform="rotate(-29.74488129694222 516.0 714.0)" fill="#999" stroke="#2a2a2a" stroke-width="0.8"/>
<line x1="497" y1="724" x2="490" y2="727" stroke="#2a2a2a" stroke-width="0.8"/>
<polygon points="415.1,708.5 415.4,709.7 412.8,710.6 413.0,712.5 415.8,713.4 415.8,714.7 415.8,715.9 412.9,715.3 412.6,717.0 415.1,719.3 414.8,720.3 414.4,721.3 411.7,719.3 410.9,720.6 412.7,723.9 412.1,724.6 411.4,725.3 409.3,722.2 408.1,722.9 409.0,726.7 408.1,727.0 407.3,727.1 406.1,723.4 404.7,723.4 404.5,727.1 403.6,726.9 402.6,726.6 402.6,722.9 401.2,722.1 399.9,725.2 399.1,724.5 398.2,723.8 399.3,720.5 398.2,719.2 396.0,721.2 395.3,720.2 394.7,719.1 396.7,716.9 396.0,715.1 393.3,715.7 392.9,714.5 392.6,713.3 395.2,712.4 395.0,710.5 392.2,709.6 392.2,708.3 392.2,707.1 395.1,707.7 395.4,706.0 392.9,703.7 393.2,702.7 393.6,701.7 396.3,703.7 397.1,702.4 395.3,699.1 395.9,698.4 396.6,697.7 398.7,700.8 399.9,700.1 399.0,696.3 399.9,696.0 400.7,695.9 401.9,699.6 403.3,699.6 403.5,695.9 404.4,696.1 405.4,696.4 405.4,700.1 406.8,700.9 408.1,697.8 408.9,698.5 409.8,699.2 408.7,702.5 409.8,703.8 412.0,701.8 412.7,702.8 413.3,703.9 411.3,706.1 412.0,707.9 414.7,707.3" fill="#c8c8c8" stroke="#2a2a2a" stroke-width="0.9" stroke-linejoin="round"/>
<polygon points="413.9,709.1 414.1,710.4 411.5,711.3 411.7,713.1 414.6,714.1 414.6,715.3 414.5,716.5 411.7,715.9 411.3,717.6 413.9,719.9 413.5,720.9 413.1,721.9 410.4,719.9 409.6,721.3 411.5,724.5 410.8,725.3 410.1,725.9 408.1,722.8 406.9,723.5 407.7,727.3 406.9,727.6 406.0,727.8 404.9,724.1 403.5,724.0 403.3,727.7 402.3,727.5 401.4,727.2 401.4,723.5 400.0,722.7 398.7,725.8 397.8,725.2 397.0,724.4 398.1,721.2 396.9,719.8 394.7,721.8 394.1,720.8 393.5,719.7 395.5,717.5 394.7,715.8 392.0,716.3 391.6,715.1 391.4,713.9 394.0,713.0 393.8,711.1 390.9,710.2 390.9,709.0 391.0,707.8 393.8,708.4 394.2,706.6 391.6,704.4 392.0,703.3 392.4,702.3 395.1,704.3 395.9,703.0 394.0,699.7 394.7,699.0 395.4,698.3 397.4,701.4 398.6,700.7 397.8,697.0 398.6,696.7 399.5,696.5 400.6,700.2 402.0,700.2 402.2,696.5 403.2,696.7 404.1,697.0 404.1,700.8 405.5,701.5 406.8,698.4 407.7,699.1 408.5,699.8 407.4,703.1 408.6,704.4 410.8,702.5 411.4,703.5 412.0,704.5 410.0,706.8 410.8,708.5 413.5,707.9" fill="#c8c8c8" stroke="#2a2a2a" stroke-width="0.9" stroke-linejoin="round"/>
<polygon points="412.6,709.8 412.9,711.0 410.3,711.9 410.5,713.8 413.3,714.7 413.3,715.9 413.3,717.1 410.4,716.5 410.1,718.2 412.6,720.5 412.3,721.6 411.9,722.6 409.2,720.6 408.4,721.9 410.2,725.2 409.6,725.9 408.9,726.5 406.8,723.4 405.6,724.1 406.5,727.9 405.6,728.2 404.8,728.4 403.6,724.7 402.2,724.7 402.0,728.4 401.1,728.2 400.1,727.9 400.1,724.1 398.7,723.4 397.4,726.4 396.6,725.8 395.7,725.1 396.8,721.8 395.7,720.5 393.5,722.4 392.8,721.4 392.2,720.4 394.2,718.1 393.5,716.4 390.8,716.9 390.4,715.7 390.1,714.5 392.7,713.6 392.5,711.7 389.7,710.8 389.7,709.6 389.7,708.4 392.6,709.0 392.9,707.3 390.4,705.0 390.7,703.9 391.1,702.9 393.8,704.9 394.6,703.6 392.8,700.3 393.4,699.6 394.1,699.0 396.2,702.1 397.4,701.4 396.5,697.6 397.4,697.3 398.2,697.1 399.4,700.8 400.8,700.8 401.0,697.1 401.9,697.3 402.9,697.6 402.9,701.4 404.3,702.1 405.6,699.1 406.4,699.7 407.3,700.4 406.2,703.7 407.3,705.0 409.5,703.1 410.2,704.1 410.8,705.1 408.8,707.4 409.5,709.1 412.2,708.6" fill="#c8c8c8" stroke="#2a2a2a" stroke-width="0.9" stroke-linejoin="round"/>
<polygon points="411.4,710.4 411.6,711.6 409.0,712.5 409.2,714.4 412.1,715.3 412.1,716.5 412.0,717.7 409.2,717.1 408.8,718.9 411.4,721.1 411.0,722.2 410.6,723.2 407.9,721.2 407.1,722.5 409.0,725.8 408.3,726.5 407.6,727.2 405.6,724.1 404.4,724.8 405.2,728.5 404.4,728.8 403.5,729.0 402.4,725.3 401.0,725.3 400.8,729.0 399.8,728.8 398.9,728.5 398.9,724.7 397.5,724.0 396.2,727.1 395.3,726.4 394.5,725.7 395.6,722.4 394.4,721.1 392.2,723.0 391.6,722.0 391.0,721.0 393.0,718.7 392.2,717.0 389.5,717.6 389.1,716.4 388.9,715.1 391.5,714.2 391.3,712.4 388.4,711.4 388.4,710.2 388.5,709.0 391.3,709.6 391.7,707.9 389.1,705.6 389.5,704.6 389.9,703.6 392.6,705.6 393.4,704.2 391.5,701.0 392.2,700.2 392.9,699.6 394.9,702.7 396.1,702.0 395.3,698.2 396.1,697.9 397.0,697.7 398.1,701.4 399.5,701.5 399.7,697.8 400.7,698.0 401.6,698.3 401.6,702.0 403.0,702.8 404.3,699.7 405.2,700.3 406.0,701.1 404.9,704.3 406.1,705.7 408.3,703.7 408.9,704.7 409.5,705.8 407.5,708.0 408.3,709.7 411.0,709.2" fill="#c8c8c8" stroke="#2a2a2a" stroke-width="0.9" stroke-linejoin="round"/>
<polygon points="410.1,711.0 410.4,712.2 407.8,713.1 408.0,715.0 410.8,715.9 410.8,717.2 410.8,718.4 407.9,717.8 407.6,719.5 410.1,721.8 409.8,722.8 409.4,723.8 406.7,721.8 405.9,723.1 407.7,726.4 407.1,727.1 406.4,727.8 404.3,724.7 403.1,725.4 404.0,729.2 403.1,729.5 402.3,729.6 401.1,725.9 399.7,725.9 399.5,729.6 398.6,729.4 397.6,729.1 397.6,725.4 396.2,724.6 394.9,727.7 394.1,727.0 393.2,726.3 394.3,723.0 393.2,721.7 391.0,723.7 390.3,722.7 389.7,721.6 391.7,719.4 391.0,717.6 388.3,718.2 387.9,717.0 387.6,715.8 390.2,714.9 390.0,713.0 387.2,712.1 387.2,710.8 387.2,709.6 390.1,710.2 390.4,708.5 387.9,706.2 388.2,705.2 388.6,704.2 391.3,706.2 392.1,704.9 390.3,701.6 390.9,700.9 391.6,700.2 393.7,703.3 394.9,702.6 394.0,698.8 394.9,698.5 395.7,698.4 396.9,702.1 398.3,702.1 398.5,698.4 399.4,698.6 400.4,698.9 400.4,702.6 401.8,703.4 403.1,700.3 403.9,701.0 404.8,701.7 403.7,705.0 404.8,706.3 407.0,704.3 407.7,705.3 408.3,706.4 406.3,708.6 407.0,710.4 409.7,709.8" fill="#e8e8e8" stroke="#2a2a2a" stroke-width="0.9" stroke-linejoin="round"/>
<line x1="410.5" y1="712.6" x2="415.5" y2="710.1" stroke="#222" stroke-width="0.8"/>
<line x1="410.8" y1="715.6" x2="415.8" y2="713.1" stroke="#444" stroke-width="0.6"/>
<line x1="410.7" y1="718.7" x2="415.7" y2="716.2" stroke="#222" stroke-width="0.8"/>
<line x1="410.2" y1="721.5" x2="415.2" y2="719.0" stroke="#444" stroke-width="0.6"/>
<line x1="409.2" y1="724.1" x2="414.2" y2="721.6" stroke="#222" stroke-width="0.8"/>
<line x1="407.9" y1="726.2" x2="412.9" y2="723.7" stroke="#444" stroke-width="0.6"/>
<line x1="406.2" y1="727.9" x2="411.2" y2="725.4" stroke="#222" stroke-width="0.8"/>
<line x1="404.2" y1="729.1" x2="409.2" y2="726.6" stroke="#444" stroke-width="0.6"/>
<line x1="402.0" y1="729.7" x2="407.0" y2="727.2" stroke="#222" stroke-width="0.8"/>
<line x1="399.7" y1="729.7" x2="404.7" y2="727.2" stroke="#444" stroke-width="0.6"/>
<line x1="397.4" y1="729.0" x2="402.4" y2="726.5" stroke="#222" stroke-width="0.8"/>
<line x1="395.2" y1="727.8" x2="400.2" y2="725.3" stroke="#444" stroke-width="0.6"/>
<line x1="393.0" y1="726.1" x2="398.0" y2="723.6" stroke="#222" stroke-width="0.8"/>
<line x1="391.2" y1="723.9" x2="396.2" y2="721.4" stroke="#444" stroke-width="0.6"/>
<line x1="389.6" y1="721.3" x2="394.6" y2="718.8" stroke="#222" stroke-width="0.8"/>
<line x1="388.4" y1="718.5" x2="393.4" y2="716.0" stroke="#444" stroke-width="0.6"/>
<line x1="387.5" y1="715.4" x2="392.5" y2="712.9" stroke="#222" stroke-width="0.8"/>
<line x1="387.2" y1="712.4" x2="392.2" y2="709.9" stroke="#444" stroke-width="0.6"/>
<line x1="387.3" y1="709.3" x2="392.3" y2="706.8" stroke="#222" stroke-width="0.8"/>
<line x1="387.8" y1="706.5" x2="392.8" y2="704.0" stroke="#444" stroke-width="0.6"/>
<line x1="388.8" y1="703.9" x2="393.8" y2="701.4" stroke="#222" stroke-width="0.8"/>
<line x1="390.1" y1="701.8" x2="395.1" y2="699.3" stroke="#444" stroke-width="0.6"/>
<line x1="391.8" y1="700.1" x2="396.8" y2="697.6" stroke="#222" stroke-width="0.8"/>
<line x1="393.8" y1="698.9" x2="398.8" y2="696.4" stroke="#444" stroke-width="0.6"/>
<line x1="396.0" y1="698.3" x2="401.0" y2="695.8" stroke="#222" stroke-width="0.8"/>
<line x1="398.3" y1="698.3" x2="403.3" y2="695.8" stroke="#444" stroke-width="0.6"/>
<line x1="400.6" y1="699.0" x2="405.6" y2="696.5" stroke="#222" stroke-width="0.8"/>
<line x1="402.8" y1="700.2" x2="407.8" y2="697.7" stroke="#444" stroke-width="0.6"/>
<line x1="405.0" y1="701.9" x2="410.0" y2="699.4" stroke="#222" stroke-width="0.8"/>
<line x1="406.8" y1="704.1" x2="411.8" y2="701.6" stroke="#444" stroke-width="0.6"/>
<line x1="408.4" y1="706.7" x2="413.4" y2="704.2" stroke="#222" stroke-width="0.8"/>
<line x1="409.6" y1="709.5" x2="414.6" y2="707.0" stroke="#444" stroke-width="0.6"/>
<ellipse cx="399.0" cy="714.0" rx="5.2" ry="7.2" transform="rotate(-15 399.0 714.0)" fill="#fff" stroke="#2a2a2a" stroke-width="1"/>
<ellipse cx="394.0" cy="717.5" rx="4.0" ry="7.2" transform="rotate(-30.96375653207352 394.0 717.5)" fill="#fff" stroke="#2a2a2a" stroke-width="1"/>
<polygon points="387.7,729.7 397.7,723.7 390.3,711.3 380.3,717.3" fill="#fff" stroke="none"/>
<line x1="387.7" y1="729.7" x2="397.7" y2="723.7" stroke="#2a2a2a" stroke-width="1"/>
<line x1="380.3" y1="717.3" x2="390.3" y2="711.3" stroke="#2a2a2a" stroke-width="1"/>
<ellipse cx="384.0" cy="723.5" rx="4.0" ry="7.2" transform="rotate(-30.96375653207352 384.0 723.5)" fill="#fff" stroke="#2a2a2a" stroke-width="1"/>
<ellipse cx="386.0" cy="722.0" rx="2.7" ry="4.9" transform="rotate(-30.141385552075338 386.0 722.0)" fill="#fff" stroke="#2a2a2a" stroke-width="1"/>
<polygon points="357.5,744.2 388.5,726.2 383.5,717.8 352.5,735.8" fill="#fff" stroke="none"/>
<line x1="357.5" y1="744.2" x2="388.5" y2="726.2" stroke="#2a2a2a" stroke-width="1"/>
<line x1="352.5" y1="735.8" x2="383.5" y2="717.8" stroke="#2a2a2a" stroke-width="1"/>
<ellipse cx="355.0" cy="740.0" rx="2.7" ry="4.9" transform="rotate(-30.141385552075338 355.0 740.0)" fill="#fff" stroke="#2a2a2a" stroke-width="1"/>
<ellipse cx="357.0" cy="739.0" rx="2.9" ry="5.3" transform="rotate(-29.538782259558097 357.0 739.0)" fill="#bbb" stroke="#2a2a2a" stroke-width="1"/>
<polygon points="344.6,752.1 359.6,743.6 354.4,734.4 339.4,742.9" fill="#bbb" stroke="none"/>
<line x1="344.6" y1="752.1" x2="359.6" y2="743.6" stroke="#2a2a2a" stroke-width="1"/>
<line x1="339.4" y1="742.9" x2="354.4" y2="734.4" stroke="#2a2a2a" stroke-width="1"/>
<ellipse cx="342.0" cy="747.5" rx="2.9" ry="5.3" transform="rotate(-29.538782259558097 342.0 747.5)" fill="#bbb" stroke="#2a2a2a" stroke-width="1"/>
<line x1="341.8" y1="742.2" x2="346.4" y2="750.4" stroke="#333" stroke-width="0.7"/>
<line x1="344.1" y1="740.9" x2="348.7" y2="749.1" stroke="#333" stroke-width="0.7"/>
<line x1="346.4" y1="739.6" x2="351.0" y2="747.8" stroke="#333" stroke-width="0.7"/>
<line x1="348.7" y1="738.3" x2="353.3" y2="746.5" stroke="#333" stroke-width="0.7"/>
<line x1="351.0" y1="737.0" x2="355.6" y2="745.2" stroke="#333" stroke-width="0.7"/>
<line x1="353.3" y1="735.7" x2="357.9" y2="743.9" stroke="#333" stroke-width="0.7"/>
<polygon points="535.9,598.9 535.9,597.5 536.0,596.0 536.1,594.6 536.2,593.2 536.4,591.8 536.6,590.4 536.8,589.1 537.1,587.7 537.4,586.4 537.8,585.1 538.2,583.8 538.6,582.6 539.0,581.4 539.5,580.2 540.1,579.0 540.6,577.9 541.2,576.8 541.8,575.7 542.5,574.6 543.2,573.6 543.9,572.7 544.6,571.7 545.4,570.8 546.2,570.0 547.1,569.1 547.9,568.4 548.8,567.6 549.7,566.9 550.6,566.2 551.6,565.6 552.6,565.0 553.6,564.5 554.6,564.0 555.6,563.6 556.7,563.2 557.8,562.8 558.9,562.5 560.0,562.2 561.1,562.0 562.2,561.9 563.4,561.7 577.2,560.6 578.3,560.6 578.9,560.5 579.5,560.5 580.1,560.6 581.2,560.6 582.4,560.7 583.0,560.8 590.6,562.7 591.2,562.9 591.8,563.2 593.0,563.7 593.5,564.0 594.1,564.2 594.7,564.5 595.3,564.8 595.9,565.1 596.4,565.5 597.0,565.8 597.6,566.1 604.6,571.5 605.2,571.9 606.2,572.9 606.7,573.4 607.7,574.4 608.6,575.5 609.1,576.0 610.1,577.1 610.5,577.7 616.0,585.6 616.7,586.9 617.0,587.6 617.4,588.2 617.7,588.9 618.1,589.6 618.7,590.9 619.0,591.6 619.3,592.3 619.6,593.0 619.9,593.7 622.9,603.0 623.2,604.5 623.4,605.2 623.5,605.9 623.8,607.4 623.9,608.1 624.0,608.8 624.1,609.6 624.1,610.3 624.2,611.0 624.3,611.8 624.3,621.0 624.3,621.7 624.2,622.4 624.1,623.1 624.0,623.8 623.9,624.5 623.8,625.1 623.7,625.8 623.6,626.5 623.5,627.1 623.1,628.4 623.0,629.1 620.1,636.9 619.8,637.5 619.5,638.0 619.2,638.5 618.9,639.1 618.6,639.6 618.3,640.1 618.0,640.6 617.6,641.1 617.3,641.6 616.9,642.1 616.6,642.6 616.2,643.0 610.8,648.2 610.4,648.6 609.9,648.9 609.4,649.2 609.0,649.5 608.5,649.8 608.0,650.1 607.5,650.3 607.0,650.6 606.5,650.8 606.0,651.1 605.5,651.3 604.5,651.7 603.9,651.9 603.4,652.1 602.9,652.2 602.3,652.4 601.8,652.6 601.3,652.7 588.0,655.8 586.9,656.0 585.8,656.1 584.6,656.3 583.5,656.4 582.3,656.4 581.1,656.4 580.0,656.3 578.8,656.2 577.6,656.0 576.4,655.9 575.2,655.6 574.0,655.3 572.8,655.0 571.6,654.6 570.4,654.2 569.2,653.7 568.0,653.2 566.9,652.6 565.7,652.0 564.5,651.4 563.4,650.7 562.2,649.9 561.1,649.2 560.0,648.4 558.9,647.5 557.8,646.6 556.7,645.7 555.6,644.7 554.6,643.7 553.6,642.7 552.6,641.6 551.6,640.5 550.7,639.4 549.7,638.3 548.8,637.1 547.9,635.9 547.1,634.6 546.2,633.4 545.4,632.1 544.6,630.8 543.9,629.4 543.2,628.1 542.5,626.7 541.8,625.3 541.2,623.9 540.6,622.5 540.1,621.0 539.5,619.6 539.0,618.1 538.6,616.7 538.2,615.2 537.8,613.7 537.4,612.2 537.1,610.8 536.8,609.3 536.6,607.8 536.4,606.3 536.2,604.8 536.1,603.3 536.0,601.9 535.9,600.4" fill="#fff" stroke="#2a2a2a" stroke-width="1" stroke-linejoin="round"/>
<polygon points="619.9,593.7 616.9,595.7 617.1,596.3 617.4,596.9 617.6,597.6 617.8,598.2 618.0,598.9 618.2,599.5 618.4,600.1 618.6,600.8 618.8,601.4 619.0,602.1 619.1,602.7 622.9,603.0 623.0,603.7 623.2,604.5 623.4,605.2 623.5,605.9 623.6,606.6 623.7,607.4 623.9,608.1 624.0,608.8 624.1,609.6 624.1,610.3 624.2,611.0 624.3,611.7 620.6,611.9 620.7,612.6 620.7,613.2 620.7,613.9 620.7,614.5 620.8,615.2 620.8,615.8 620.7,616.4 620.7,617.1 620.7,617.7 620.7,618.4 620.6,619.0 624.3,621.0 624.3,621.7 624.2,622.4 624.1,623.1 624.0,623.8 623.9,624.4 623.8,625.1 623.7,625.8 623.6,626.5 623.4,627.1 623.3,627.8 623.2,628.4 623.0,629.1 619.2,627.4 619.1,628.0 618.9,628.6 618.7,629.1 618.5,629.7 618.4,630.2 618.2,630.8 617.9,631.3 617.7,631.8 617.5,632.4 617.3,632.9 617.0,633.4 620.1,636.9 619.8,637.5 619.5,638.0 619.2,638.5 618.9,639.1 618.6,639.6 618.3,640.1 618.0,640.6 617.6,641.1 617.3,641.6 616.9,642.1 616.6,642.6 616.2,643.0 613.0,639.8 612.6,640.2 612.3,640.6 611.9,641.0 611.5,641.4 611.2,641.8 610.8,642.1 610.4,642.5 610.0,642.8 609.7,643.2 609.3,643.5 608.9,643.8 610.8,648.2 610.4,648.6 609.9,648.9 609.4,649.2 609.0,649.5 608.5,649.8 608.0,650.1 607.5,650.3 607.0,650.6 606.5,650.8 606.0,651.1 605.5,651.3 605.0,651.5 604.5,651.7 603.9,651.9 603.4,652.1 602.9,652.3 602.3,652.4 601.8,652.6 601.3,652.7 600.7,652.8 600.2,652.9 599.6,653.0 599.1,653.1 598.5,653.2 597.9,653.3 597.4,653.3 596.8,653.4 596.2,653.4 595.7,653.4 595.1,653.4 594.5,653.4 593.9,653.4 593.3,653.4 592.8,653.4 592.2,653.3 591.6,653.3 591.0,653.2 590.4,653.1 589.8,653.0 589.3,652.9 588.7,652.8 588.1,652.7 587.5,652.6 586.9,652.4 586.3,652.2 585.7,652.1 585.1,651.9 584.5,651.7 584.0,651.5 583.4,651.3 582.8,651.1 582.2,650.8 581.6,650.6 581.0,650.3 580.5,650.0 579.9,649.8 579.3,649.5 578.7,649.2 578.1,648.9 577.6,648.5 577.0,648.2 576.4,647.9 575.9,647.5 575.3,647.2 574.8,646.8 574.2,646.4 573.6,646.0 573.1,645.6 572.6,645.2 572.0,644.8 571.5,644.4 570.9,643.9 570.4,643.5 569.9,643.0 569.4,642.5 568.8,642.1 568.3,641.6 567.8,641.1 567.3,640.6 566.8,640.1 566.3,639.6 565.8,639.1 565.4,638.5 564.9,638.0 564.4,637.4 563.9,636.9 563.5,636.3 563.0,635.7 562.6,635.2 562.1,634.6 561.7,634.0 561.3,633.4 560.8,632.8 560.4,632.2 560.0,631.6 559.6,630.9 559.2,630.3 558.8,629.7 558.4,629.0 558.0,628.4 557.7,627.8 557.3,627.1 556.9,626.4 556.6,625.8 556.3,625.1 555.9,624.4 555.6,623.7 555.3,623.1 555.0,622.4 554.7,621.7 554.4,621.0 554.1,620.3 553.8,619.6 553.5,618.9 553.3,618.2 553.0,617.5 552.8,616.8 552.5,616.1 552.3,615.3 552.1,614.6 551.9,613.9 551.7,613.2 551.5,612.4 551.3,611.7 551.1,611.0 551.0,610.3 550.8,609.5 550.6,608.8 550.5,608.1 550.4,607.4 550.3,606.6 550.1,605.9 550.0,605.2 549.9,604.4 549.9,603.7 549.8,603.0 549.7,602.3 549.7,601.5 549.6,600.8 549.6,600.1 549.5,599.4 549.5,598.6 549.5,597.9 549.5,597.2 549.5,596.5 549.5,595.8 549.5,595.1 549.6,594.4 549.6,593.7 549.7,593.0 549.7,592.3 549.8,591.6 549.9,590.9 550.0,590.2 550.1,589.6 550.2,588.9 550.3,588.2 550.4,587.5 550.6,586.9 550.7,586.2 550.8,585.6 551.0,584.9 551.2,584.3 551.4,583.7 551.5,583.0 551.7,582.4 552.0,581.8 552.2,581.2 552.4,580.6 552.6,580.0 552.9,579.4 553.1,578.8 553.4,578.2 553.6,577.7 553.9,577.1 554.2,576.5 554.5,576.0 554.8,575.5 555.1,574.9 555.4,574.4 555.7,573.9 556.0,573.4 556.4,572.9 556.7,572.4 557.1,571.9 557.4,571.4 557.8,571.0 558.2,570.5 558.5,570.1 558.9,569.6 559.3,569.2 559.7,568.8 560.1,568.4 560.5,568.0 561.0,567.6 561.4,567.2 561.8,566.8 562.3,566.5 562.7,566.1 563.2,565.8 563.6,565.4 564.1,565.1 564.6,564.8 565.0,564.5 565.5,564.2 566.0,563.9 566.5,563.7 567.0,563.4 567.5,563.2 568.0,562.9 568.5,562.7 569.0,562.5 569.5,562.3 570.1,562.1 570.6,561.9 571.1,561.7 571.7,561.6 572.2,561.4 572.7,561.3 573.3,561.2 573.8,561.1 574.4,561.0 574.9,560.9 575.5,560.8 576.1,560.7 576.6,560.7 577.2,560.6 577.8,560.6 578.3,560.6 578.9,560.6 579.5,560.6 580.1,560.6 580.7,560.6 581.2,560.6 581.8,560.7 582.4,560.7 583.0,560.8 583.9,565.5 584.4,565.6 585.0,565.7 585.5,565.8 586.0,565.9 586.6,566.0 587.1,566.1 587.6,566.3 588.2,566.4 588.7,566.6 589.2,566.8 589.7,567.0 590.6,562.7 591.2,562.9 591.8,563.2 592.4,563.4 593.0,563.7 593.5,564.0 594.1,564.2 594.7,564.5 595.3,564.8 595.9,565.1 596.4,565.5 597.0,565.8 597.6,566.1 597.0,570.5 597.5,570.9 598.0,571.2 598.5,571.5 599.0,571.9 599.5,572.2 600.0,572.6 600.5,573.0 601.0,573.4 601.5,573.8 601.9,574.2 602.4,574.6 604.6,571.5 605.2,571.9 605.7,572.4 606.2,572.9 606.7,573.4 607.2,573.9 607.7,574.4 608.2,574.9 608.6,575.5 609.1,576.0 609.6,576.6 610.1,577.1 610.5,577.7 608.6,581.1 609.0,581.6 609.4,582.2 609.8,582.7 610.2,583.2 610.6,583.8 610.9,584.3 611.3,584.9 611.7,585.4 612.0,586.0 612.4,586.6 612.7,587.2 616.0,585.6 616.3,586.2 616.7,586.9 617.1,587.6 617.4,588.2 617.7,588.9 618.1,589.6 618.4,590.3 618.7,590.9 619.0,591.6 619.3,592.3 619.6,593.0 619.9,593.7" fill="none" stroke="#2a2a2a" stroke-width="0.9" stroke-linejoin="round"/>
<ellipse cx="574.0" cy="609.0" rx="36.0" ry="49.0" transform="rotate(-22 574.0 609.0)" fill="#fff" stroke="#2a2a2a" stroke-width="1.2"/>
<ellipse cx="574.5" cy="609.0" rx="34.5" ry="47.5" transform="rotate(-22 574.5 609.0)" fill="none" stroke="#2a2a2a" stroke-width="0.8"/>
<ellipse cx="575.0" cy="609.0" rx="33.0" ry="46.0" transform="rotate(-22 575.0 609.0)" fill="none" stroke="#2a2a2a" stroke-width="1.0"/>
<ellipse cx="575.5" cy="609.5" rx="31.0" ry="44.0" transform="rotate(-22 575.5 609.5)" fill="none" stroke="#2a2a2a" stroke-width="0.8"/>
<ellipse cx="576.0" cy="610.0" rx="29.0" ry="42.0" transform="rotate(-22 576.0 610.0)" fill="#fff" stroke="#222" stroke-width="1.3"/>
<ellipse cx="577.0" cy="610.0" rx="27.5" ry="40.5" transform="rotate(-22 577.0 610.0)" fill="none" stroke="#2a2a2a" stroke-width="0.8"/>
<circle cx="609.1" cy="606.2" r="1.2" fill="#555" stroke="#2a2a2a" stroke-width="0.9"/>
<circle cx="610.1" cy="626.4" r="1.2" fill="#555" stroke="#2a2a2a" stroke-width="0.9"/>
<circle cx="603.9" cy="643.1" r="1.2" fill="#555" stroke="#2a2a2a" stroke-width="0.9"/>
<circle cx="591.8" cy="653.0" r="1.2" fill="#555" stroke="#2a2a2a" stroke-width="0.9"/>
<circle cx="576.2" cy="654.3" r="1.2" fill="#555" stroke="#2a2a2a" stroke-width="0.9"/>
<circle cx="560.1" cy="646.6" r="1.2" fill="#555" stroke="#2a2a2a" stroke-width="0.9"/>
<circle cx="546.8" cy="631.4" r="1.2" fill="#555" stroke="#2a2a2a" stroke-width="0.9"/>
<circle cx="538.9" cy="611.8" r="1.2" fill="#555" stroke="#2a2a2a" stroke-width="0.9"/>
<circle cx="537.9" cy="591.6" r="1.2" fill="#555" stroke="#2a2a2a" stroke-width="0.9"/>
<circle cx="544.1" cy="574.9" r="1.2" fill="#555" stroke="#2a2a2a" stroke-width="0.9"/>
<circle cx="556.2" cy="565.0" r="1.2" fill="#555" stroke="#2a2a2a" stroke-width="0.9"/>
<circle cx="571.8" cy="563.7" r="1.2" fill="#555" stroke="#2a2a2a" stroke-width="0.9"/>
<circle cx="587.9" cy="571.4" r="1.2" fill="#555" stroke="#2a2a2a" stroke-width="0.9"/>
<circle cx="601.2" cy="586.6" r="1.2" fill="#555" stroke="#2a2a2a" stroke-width="0.9"/>
<ellipse cx="567.5" cy="615.0" rx="7.5" ry="9.5" transform="rotate(-22 567.5 615.0)" fill="#bbb" stroke="#2a2a2a" stroke-width="1.2"/>
<ellipse cx="568.0" cy="615.0" rx="4.5" ry="6.0" transform="rotate(-22 568.0 615.0)" fill="#444" stroke="#2a2a2a" stroke-width="1"/>
<ellipse cx="568.0" cy="615.0" rx="2.0" ry="3.0" transform="rotate(-22 568.0 615.0)" fill="#ddd" stroke="#2a2a2a" stroke-width="0.8"/>
<line x1="561" y1="618" x2="540" y2="631" stroke="#2a2a2a" stroke-width="0.9"/>
<line x1="580" y1="642.5" x2="615" y2="620" stroke="#2a2a2a" stroke-width="0.8" stroke-dasharray="3 2"/>
<circle cx="584.5" cy="563" r="2" fill="#555" stroke="#2a2a2a" stroke-width="0.9"/><circle cx="614.5" cy="594" r="2" fill="#555" stroke="#2a2a2a" stroke-width="0.9"/><circle cx="622.5" cy="615" r="2" fill="#555" stroke="#2a2a2a" stroke-width="0.9"/>
<polygon points="623.3,639.0 634.2,631.8 631.5,627.8 620.7,635.0" fill="#bbb" stroke="#2a2a2a" stroke-width="1" stroke-linejoin="round"/>
<line x1="624.3" y1="638.3" x2="621.7" y2="634.3" stroke="#222" stroke-width="0.9"/>
<line x1="625.6" y1="637.5" x2="622.9" y2="633.5" stroke="#222" stroke-width="0.9"/>
<line x1="626.8" y1="636.7" x2="624.2" y2="632.7" stroke="#222" stroke-width="0.9"/>
<line x1="628.1" y1="635.8" x2="625.4" y2="631.8" stroke="#222" stroke-width="0.9"/>
<line x1="629.3" y1="635.0" x2="626.7" y2="631.0" stroke="#222" stroke-width="0.9"/>
<line x1="630.6" y1="634.2" x2="627.9" y2="630.2" stroke="#222" stroke-width="0.9"/>
<line x1="631.8" y1="633.3" x2="629.2" y2="629.3" stroke="#222" stroke-width="0.9"/>
<line x1="633.1" y1="632.5" x2="630.4" y2="628.5" stroke="#222" stroke-width="0.9"/>
<ellipse cx="632.8" cy="629.8" rx="2.0" ry="4.4" transform="rotate(-33.690067525979785 632.8 629.8)" fill="#555" stroke="#2a2a2a" stroke-width="1"/>
<polygon points="635.3,633.4 639.4,630.7 634.6,623.3 630.4,626.1" fill="#666" stroke="#2a2a2a" stroke-width="1" stroke-linejoin="round"/>
<ellipse cx="637.0" cy="627.0" rx="2.2" ry="4.4" transform="rotate(-33.690067525979785 637.0 627.0)" fill="#444" stroke="#2a2a2a" stroke-width="1"/>
<ellipse cx="637.0" cy="627.0" rx="1.0" ry="2.0" transform="rotate(-33.690067525979785 637.0 627.0)" fill="#999" stroke="#2a2a2a" stroke-width="0.8"/>
<polygon points="529.8,631.9 529.8,631.5 529.8,631.1 529.9,630.7 529.9,630.4 530.0,630.0 530.1,629.7 530.2,629.3 530.3,629.0 530.5,628.7 530.6,628.4 530.8,628.1 531.0,627.8 531.2,627.6 531.4,627.3 531.6,627.1 531.9,626.9 532.1,626.7 532.4,626.5 532.6,626.3 532.9,626.2 535.9,624.7 536.2,624.5 536.5,624.4 536.8,624.4 537.1,624.3 537.4,624.2 537.7,624.2 538.0,624.2 538.4,624.2 538.7,624.2 539.0,624.3 539.4,624.4 539.7,624.4 540.0,624.5 540.3,624.7 540.6,624.8 541.0,625.0 541.2,625.2 541.6,625.4 541.9,625.6 542.1,625.8 542.4,626.1 542.7,626.3 542.9,626.6 543.2,626.9 543.4,627.2 543.6,627.5 543.9,627.9 544.1,628.2 544.2,628.5 544.4,628.9 544.6,629.2 544.7,629.6 544.8,630.0 545.0,630.8 545.1,631.1 545.2,631.5 545.2,631.9 545.2,632.3 545.2,632.6 545.2,633.0 545.2,633.4 545.1,633.8 545.1,634.1 545.0,634.5 544.9,634.8 544.8,635.2 544.7,635.5 544.5,635.8 544.4,636.1 544.2,636.4 544.0,636.7 543.8,636.9 543.6,637.2 543.4,637.4 543.1,637.6 542.9,637.8 542.6,638.0 542.4,638.2 542.1,638.3 539.1,639.8 538.8,640.0 538.5,640.1 538.2,640.1 537.9,640.2 537.6,640.3 537.3,640.3 537.0,640.3 536.6,640.3 536.3,640.3 536.0,640.2 535.6,640.1 535.3,640.1 535.0,640.0 534.7,639.8 534.4,639.7 534.0,639.5 533.8,639.3 533.4,639.1 533.1,638.9 532.9,638.7 532.6,638.4 532.3,638.2 532.1,637.9 531.8,637.6 531.6,637.3 531.4,637.0 531.1,636.6 530.9,636.3 530.8,636.0 530.6,635.6 530.4,635.2 530.3,634.9 530.2,634.5 530.0,633.8 529.9,633.4 529.8,633.0 529.8,632.6 529.8,632.2" fill="#777" stroke="#2a2a2a" stroke-width="1.1" stroke-linejoin="round"/>
<ellipse cx="536.0" cy="633.0" rx="6.0" ry="7.5" transform="rotate(-22 536.0 633.0)" fill="#999" stroke="#2a2a2a" stroke-width="1.2"/>
<ellipse cx="536.0" cy="633.0" rx="3.5" ry="4.5" transform="rotate(-22 536.0 633.0)" fill="#fff" stroke="#2a2a2a" stroke-width="1"/>
<ellipse cx="523.5" cy="640.0" rx="5.0" ry="7.0" transform="rotate(-22 523.5 640.0)" fill="none" stroke="#2a2a2a" stroke-width="1.2"/>
<ellipse cx="523.5" cy="640.0" rx="3.8" ry="5.5" transform="rotate(-22 523.5 640.0)" fill="none" stroke="#2a2a2a" stroke-width="0.8"/>
<polygon points="505.9,647.1 505.9,646.8 505.9,646.5 505.9,646.2 506.0,646.0 506.1,645.7 506.1,645.4 506.2,645.1 506.3,644.9 506.5,644.6 506.6,644.4 506.9,643.9 507.1,643.7 507.2,643.5 507.4,643.3 507.6,643.1 507.8,643.0 508.1,642.8 508.3,642.7 508.5,642.5 510.5,641.5 510.8,641.4 511.0,641.4 511.2,641.3 511.5,641.2 511.8,641.2 512.0,641.1 512.3,641.1 512.6,641.1 512.8,641.2 513.1,641.2 513.6,641.3 513.9,641.4 514.2,641.5 514.4,641.6 514.7,641.7 515.2,642.0 515.4,642.2 515.7,642.4 515.9,642.6 516.1,642.8 516.3,643.0 516.5,643.3 516.7,643.5 516.9,643.8 517.1,644.0 517.2,644.3 517.4,644.6 517.5,644.8 517.6,645.1 517.8,645.4 517.9,645.7 517.9,646.0 518.0,646.3 518.1,646.6 518.1,646.9 518.1,647.2 518.1,647.5 518.1,647.9 518.1,648.2 518.1,648.5 518.1,648.8 518.0,649.0 518.0,649.3 517.9,649.6 517.8,649.9 517.7,650.1 517.5,650.4 517.4,650.6 517.1,651.1 516.9,651.3 516.8,651.5 516.6,651.7 516.4,651.9 516.2,652.0 516.0,652.2 515.7,652.3 515.5,652.5 513.5,653.5 513.2,653.6 513.0,653.6 512.8,653.7 512.5,653.8 512.2,653.8 512.0,653.9 511.7,653.9 511.4,653.9 511.2,653.8 510.9,653.8 510.4,653.7 510.1,653.6 509.8,653.5 509.6,653.4 509.3,653.3 508.8,653.0 508.6,652.8 508.3,652.6 508.1,652.4 507.9,652.2 507.7,652.0 507.5,651.7 507.3,651.5 507.1,651.2 506.9,651.0 506.8,650.7 506.6,650.4 506.5,650.2 506.4,649.9 506.2,649.6 506.1,649.3 506.1,649.0 506.0,648.7 505.9,648.4 505.9,648.1 505.9,647.8 505.9,647.5" fill="#8a8a8a" stroke="#2a2a2a" stroke-width="1" stroke-linejoin="round"/>
<ellipse cx="513.0" cy="647.0" rx="5.0" ry="6.0" transform="rotate(-22 513.0 647.0)" fill="none" stroke="#2a2a2a" stroke-width="0.8"/>
<line x1="512.3" y1="653.8" x2="514.3" y2="652.8" stroke="#222" stroke-width="1.1"/>
<line x1="510.3" y1="653.7" x2="512.3" y2="652.7" stroke="#222" stroke-width="1.1"/>
<line x1="508.4" y1="652.6" x2="510.4" y2="651.6" stroke="#222" stroke-width="1.1"/>
<line x1="506.9" y1="650.9" x2="508.9" y2="649.9" stroke="#222" stroke-width="1.1"/>
<line x1="506.0" y1="648.8" x2="508.0" y2="647.8" stroke="#222" stroke-width="1.1"/>
<line x1="505.9" y1="646.5" x2="507.9" y2="645.5" stroke="#222" stroke-width="1.1"/>
<line x1="506.6" y1="644.4" x2="508.6" y2="643.4" stroke="#222" stroke-width="1.1"/>
<line x1="507.9" y1="642.9" x2="509.9" y2="641.9" stroke="#222" stroke-width="1.1"/>
<ellipse cx="511.0" cy="648.0" rx="5.0" ry="6.0" transform="rotate(-22 511.0 648.0)" fill="#9a9a9a" stroke="#2a2a2a" stroke-width="1"/>
<line x1="515.4" y1="646.2" x2="513.4" y2="647.0" stroke="#1a1a1a" stroke-width="1.2"/>
<line x1="515.6" y1="650.5" x2="513.6" y2="649.4" stroke="#1a1a1a" stroke-width="1.2"/>
<line x1="513.1" y1="653.3" x2="512.2" y2="650.9" stroke="#1a1a1a" stroke-width="1.2"/>
<line x1="509.4" y1="653.0" x2="510.1" y2="650.8" stroke="#1a1a1a" stroke-width="1.2"/>
<line x1="506.6" y1="649.8" x2="508.6" y2="649.0" stroke="#1a1a1a" stroke-width="1.2"/>
<line x1="506.4" y1="645.5" x2="508.4" y2="646.6" stroke="#1a1a1a" stroke-width="1.2"/>
<line x1="508.9" y1="642.7" x2="509.8" y2="645.1" stroke="#1a1a1a" stroke-width="1.2"/>
<line x1="512.6" y1="643.0" x2="511.9" y2="645.2" stroke="#1a1a1a" stroke-width="1.2"/>
<ellipse cx="511.0" cy="648.0" rx="2.5" ry="3.0" transform="rotate(-22 511.0 648.0)" fill="#fff" stroke="#2a2a2a" stroke-width="1"/>
<text transform="translate(541 95.47) scale(0.86 1)" font-size="13" text-anchor="middle">10</text>
<line x1="541" y1="97.5" x2="541" y2="146" stroke="#2a2a2a" stroke-width="0.9"/>
<text transform="translate(496 118.97) scale(0.86 1)" font-size="13" text-anchor="middle">09</text>
<line x1="496" y1="121.0" x2="496" y2="169" stroke="#2a2a2a" stroke-width="0.9"/>
<text transform="translate(443.5 149.47) scale(0.86 1)" font-size="13" text-anchor="middle">05</text>
<line x1="443.5" y1="151.5" x2="443.5" y2="177" stroke="#2a2a2a" stroke-width="0.9"/>
<text transform="translate(372 191.97) scale(0.86 1)" font-size="13" text-anchor="middle">09</text>
<line x1="372" y1="194.0" x2="372" y2="231" stroke="#2a2a2a" stroke-width="0.9"/>
<text transform="translate(344.5 208.47) scale(0.86 1)" font-size="13" text-anchor="middle">03</text>
<line x1="344.5" y1="210.5" x2="344.5" y2="249" stroke="#2a2a2a" stroke-width="0.9"/>
<text transform="translate(301 232.47) scale(0.86 1)" font-size="13" text-anchor="middle">02</text>
<line x1="301" y1="234.5" x2="301" y2="265" stroke="#2a2a2a" stroke-width="0.9"/>
<text transform="translate(244.5 266.97) scale(0.86 1)" font-size="13" text-anchor="middle">51</text>
<line x1="244.5" y1="269.0" x2="244.5" y2="317" stroke="#2a2a2a" stroke-width="0.9"/>
<text transform="translate(216 282.47) scale(0.86 1)" font-size="13" text-anchor="middle">00</text>
<line x1="216" y1="284.5" x2="216" y2="313" stroke="#2a2a2a" stroke-width="0.9"/>
<text transform="translate(189 298.97) scale(0.86 1)" font-size="13" text-anchor="middle">53</text>
<line x1="189" y1="301.0" x2="189" y2="315" stroke="#2a2a2a" stroke-width="0.9"/>
<text transform="translate(174 306.97) scale(0.86 1)" font-size="13" text-anchor="middle">52</text>
<line x1="174" y1="309.0" x2="174" y2="325" stroke="#2a2a2a" stroke-width="0.9"/>
<text transform="translate(624 295.97) scale(0.86 1)" font-size="13" text-anchor="middle">35</text>
<line x1="624" y1="298.0" x2="624" y2="335" stroke="#2a2a2a" stroke-width="0.9"/>
<text transform="translate(589 317.47) scale(0.86 1)" font-size="13" text-anchor="middle">36</text>
<line x1="589" y1="319.5" x2="589" y2="344" stroke="#2a2a2a" stroke-width="0.9"/>
<text transform="translate(547 341.47) scale(0.86 1)" font-size="13" text-anchor="middle">34</text>
<line x1="547" y1="343.5" x2="547" y2="377" stroke="#2a2a2a" stroke-width="0.9"/>
<text transform="translate(517.5 357.47) scale(0.86 1)" font-size="13" text-anchor="middle">28</text>
<line x1="517.5" y1="359.5" x2="517.5" y2="377" stroke="#2a2a2a" stroke-width="0.9"/>
<text transform="translate(475 378.97) scale(0.86 1)" font-size="13" text-anchor="middle">37</text>
<line x1="475" y1="381.0" x2="475" y2="380" stroke="#2a2a2a" stroke-width="0.9"/>
<text transform="translate(357.5 449.47) scale(0.86 1)" font-size="13" text-anchor="middle">14</text>
<line x1="357.5" y1="451.5" x2="357.5" y2="474" stroke="#2a2a2a" stroke-width="0.9"/>
<text transform="translate(230.5 486.47) scale(0.86 1)" font-size="13" text-anchor="middle">07</text>
<line x1="230.5" y1="488.5" x2="230.5" y2="501" stroke="#2a2a2a" stroke-width="0.9"/>
<text transform="translate(251 473.97) scale(0.86 1)" font-size="13" text-anchor="middle">08</text>
<line x1="251" y1="476.0" x2="251" y2="490" stroke="#2a2a2a" stroke-width="0.9"/>
<text transform="translate(472.5 608.47) scale(0.86 1)" font-size="13" text-anchor="middle">23</text>
<line x1="472.5" y1="610.5" x2="472.5" y2="621.5" stroke="#2a2a2a" stroke-width="0.9"/>
<text transform="translate(372.5 690.47) scale(0.86 1)" font-size="13" text-anchor="middle">42</text>
<line x1="372.5" y1="692.5" x2="372.5" y2="719" stroke="#2a2a2a" stroke-width="0.9"/>
<text transform="translate(583.5 541.47) scale(0.86 1)" font-size="13" text-anchor="middle">49</text>
<line x1="583.5" y1="543.5" x2="583.5" y2="560" stroke="#2a2a2a" stroke-width="0.9"/>
<text transform="translate(615.5 574.97) scale(0.86 1)" font-size="13" text-anchor="middle">49</text>
<line x1="615.5" y1="577.0" x2="615.5" y2="591" stroke="#2a2a2a" stroke-width="0.9"/>
<text transform="translate(631 591.47) scale(0.86 1)" font-size="13" text-anchor="middle">49</text>
<line x1="631" y1="593.5" x2="631" y2="612" stroke="#2a2a2a" stroke-width="0.9"/>
<text transform="translate(397.5 425.47) scale(0.86 1)" font-size="13" text-anchor="middle">26</text>
<line x1="397.5" y1="427.5" x2="397.5" y2="464" stroke="#2a2a2a" stroke-width="0.9"/>
<text transform="translate(146.5 442.47) scale(0.86 1)" font-size="13" text-anchor="middle">56</text>
<line x1="146.5" y1="431.5" x2="146.5" y2="414" stroke="#2a2a2a" stroke-width="0.9"/>
<text transform="translate(161 436.47) scale(0.86 1)" font-size="13" text-anchor="middle">55</text>
<line x1="161" y1="425.5" x2="161" y2="412" stroke="#2a2a2a" stroke-width="0.9"/>
<text transform="translate(596 219.97) scale(0.86 1)" font-size="13" text-anchor="middle">11</text>
<line x1="596" y1="209.0" x2="596" y2="184" stroke="#2a2a2a" stroke-width="0.9"/>
<text transform="translate(611 216.47) scale(0.86 1)" font-size="13" text-anchor="middle">12</text>
<line x1="611" y1="205.5" x2="611" y2="180" stroke="#2a2a2a" stroke-width="0.9"/>
<text transform="translate(623 394.97) scale(0.86 1)" font-size="13" text-anchor="middle">41</text>
<line x1="623" y1="384.0" x2="623" y2="372.5" stroke="#2a2a2a" stroke-width="0.9"/>
<text transform="translate(512 456.47) scale(0.86 1)" font-size="13" text-anchor="middle">33</text>
<line x1="512" y1="445.5" x2="512" y2="432" stroke="#2a2a2a" stroke-width="0.9"/>
<text transform="translate(629.5 471.47) scale(0.86 1)" font-size="13" text-anchor="middle">40</text>
<line x1="629.5" y1="460.5" x2="629.5" y2="435" stroke="#2a2a2a" stroke-width="0.9"/>
<text transform="translate(615.5 479.47) scale(0.86 1)" font-size="13" text-anchor="middle">39</text>
<line x1="615.5" y1="468.5" x2="615.5" y2="447" stroke="#2a2a2a" stroke-width="0.9"/>
<text transform="translate(600.5 488.97) scale(0.86 1)" font-size="13" text-anchor="middle">38</text>
<line x1="600.5" y1="478.0" x2="600.5" y2="451" stroke="#2a2a2a" stroke-width="0.9"/>
<text transform="translate(581 497.47) scale(0.86 1)" font-size="13" text-anchor="middle">37</text>
<line x1="581" y1="486.5" x2="581" y2="470" stroke="#2a2a2a" stroke-width="0.9"/>
<text transform="translate(564.5 508.97) scale(0.86 1)" font-size="13" text-anchor="middle">39</text>
<line x1="564.5" y1="498.0" x2="564.5" y2="472" stroke="#2a2a2a" stroke-width="0.9"/>
<text transform="translate(394.5 532.97) scale(0.86 1)" font-size="13" text-anchor="middle">19</text>
<line x1="394.5" y1="522.0" x2="394.5" y2="509" stroke="#2a2a2a" stroke-width="0.9"/>
<text transform="translate(519 536.47) scale(0.86 1)" font-size="13" text-anchor="middle">32</text>
<line x1="519" y1="525.5" x2="519" y2="502.5" stroke="#2a2a2a" stroke-width="0.9"/>
<text transform="translate(503 544.97) scale(0.86 1)" font-size="13" text-anchor="middle">31</text>
<line x1="503" y1="534.0" x2="503" y2="506" stroke="#2a2a2a" stroke-width="0.9"/>
<text transform="translate(489 554.97) scale(0.86 1)" font-size="13" text-anchor="middle">30</text>
<line x1="489" y1="544.0" x2="489" y2="520" stroke="#2a2a2a" stroke-width="0.9"/>
<text transform="translate(467.5 566.47) scale(0.86 1)" font-size="13" text-anchor="middle">29</text>
<line x1="467.5" y1="555.5" x2="467.5" y2="537.5" stroke="#2a2a2a" stroke-width="0.9"/>
<text transform="translate(449 576.47) scale(0.86 1)" font-size="13" text-anchor="middle">31</text>
<line x1="449" y1="565.5" x2="449" y2="542.5" stroke="#2a2a2a" stroke-width="0.9"/>
<text transform="translate(406.5 601.97) scale(0.86 1)" font-size="13" text-anchor="middle">18</text>
<line x1="406.5" y1="591.0" x2="406.5" y2="567.5" stroke="#2a2a2a" stroke-width="0.9"/>
<text transform="translate(387.5 613.47) scale(0.86 1)" font-size="13" text-anchor="middle">17</text>
<line x1="387.5" y1="602.5" x2="387.5" y2="580" stroke="#2a2a2a" stroke-width="0.9"/>
<text transform="translate(371 623.47) scale(0.86 1)" font-size="13" text-anchor="middle">21</text>
<line x1="371" y1="612.5" x2="371" y2="586" stroke="#2a2a2a" stroke-width="0.9"/>
<text transform="translate(350 637.47) scale(0.86 1)" font-size="13" text-anchor="middle">15</text>
<line x1="350" y1="626.5" x2="350" y2="612" stroke="#2a2a2a" stroke-width="0.9"/>
<text transform="translate(325 651.47) scale(0.86 1)" font-size="13" text-anchor="middle">21</text>
<line x1="325" y1="640.5" x2="325" y2="616" stroke="#2a2a2a" stroke-width="0.9"/>
<text transform="translate(309.5 659.47) scale(0.86 1)" font-size="13" text-anchor="middle">17</text>
<line x1="309.5" y1="648.5" x2="309.5" y2="624" stroke="#2a2a2a" stroke-width="0.9"/>
<text transform="translate(222 726.47) scale(0.86 1)" font-size="13" text-anchor="middle">06</text>
<line x1="222" y1="715.5" x2="222" y2="684" stroke="#2a2a2a" stroke-width="0.9"/>
<text transform="translate(633 667.47) scale(0.86 1)" font-size="13" text-anchor="middle">48</text>
<line x1="633" y1="656.5" x2="633" y2="636" stroke="#2a2a2a" stroke-width="0.9"/>
<text transform="translate(579.5 699.97) scale(0.86 1)" font-size="13" text-anchor="middle">44</text>
<line x1="579.5" y1="689.0" x2="579.5" y2="657.5" stroke="#2a2a2a" stroke-width="0.9"/>
<text transform="translate(512.5 746.47) scale(0.86 1)" font-size="13" text-anchor="middle">25</text>
<line x1="512.5" y1="735.5" x2="512.5" y2="720" stroke="#2a2a2a" stroke-width="0.9"/>
<text transform="translate(499.5 613.97) scale(0.86 1)" font-size="13" text-anchor="middle">45</text>
<line x1="499.5" y1="616.0" x2="499.5" y2="640" stroke="#2a2a2a" stroke-width="0.9"/>
<text transform="translate(512.5 606.47) scale(0.86 1)" font-size="13" text-anchor="middle">47</text>
<line x1="512.5" y1="608.5" x2="512.5" y2="632" stroke="#2a2a2a" stroke-width="0.9"/>
<text transform="translate(526 599.97) scale(0.86 1)" font-size="13" text-anchor="middle">46</text>
<line x1="526" y1="602.0" x2="526" y2="625" stroke="#2a2a2a" stroke-width="0.9"/>
<line x1="428.5" y1="421" x2="428.5" y2="446" stroke="#2a2a2a" stroke-width="0.9"/>
</svg>
<div class="ban"></div>
<svg width="800" height="800" viewBox="0 0 800 800" style="pointer-events:none">

<g stroke="#2b1a0c" stroke-width="0.6" stroke-linejoin="round">
<path d="M271.2,407 L276,402 L281.5,400 L283,404 L277,407.5 L272.5,409.5 Z" fill="#d6a064"/>
<path d="M283,412 L287.5,415 L288,421 L292,421.5 L293,415 L296,414 Z" fill="#e6e6e6"/>
<path d="M297,408 L301,409 L303,414.5 L300,415.5 L297.5,412 Z" fill="#e6e6e6"/>
<path d="M280,393 Q283,389 290,390 Q297,392 300,398 Q303,405 301,411 Q298,416 291,416 Q285,415 282,410 Q278,402 280,393 Z" fill="#8b5a2b"/>
<path d="M281,391 Q285,389.5 292,391 Q294,395 292,401 Q288,403.5 284,402 Q280,398 281,391 Z" fill="#c98a4e"/>
<path d="M284.5,396.5 Q287,395.5 289,397 Q288.5,399.5 286.5,399.5 Q284.5,398.8 284.5,396.5 Z" fill="#e04050"/>
<path d="M285,405 Q291,408 298,405 L297.5,408.5 Q291,411 285.5,408.5 Z" fill="#d9a066"/>
<path d="M294,393 L297.5,388 L299.5,386 L300.5,387.5 L297.5,394 Z" fill="#d6a064"/>
<path d="M278,390 Q279,382.5 285.5,381.5 Q291.5,381.5 292.5,388 L292,391.5 L279,392.5 Z" fill="#c9c9c9"/>
<path d="M278.5,388 L274.2,381.3 L276.5,388.5 Z M291.5,387 L293.2,381.2 L293.6,387 Z" fill="#eeeeee"/>
<path d="M296,383 L300.5,388.2" stroke="#4a2c12" stroke-width="1.3"/>
<path d="M293,376.5 L297.5,374.5 L299.5,379.5 L295.5,382 Z" fill="#e02030" stroke="#8a1010"/>
</g>
<g fill="#141414">
<path d="M309,390.5 L315.8,390.5 L320.5,398 L325.2,390.5 L332,390.5 L332,413 L325.8,413 L325.8,402 L322.6,407 L318.4,407 L315.2,402 L315.2,413 L309,413 Z"/>
<path fill-rule="evenodd" d="M339.3,390.5 L348,390.5 Q352.5,390.5 352.5,395 L352.5,408.5 Q352.5,413 348,413 L339.3,413 Q334.8,413 334.8,408.5 L334.8,395 Q334.8,390.5 339.3,390.5 Z M343.3,396.5 Q342,396.5 342,398 L342,405.5 Q342,407 343.3,407 L344.5,407 Q345.8,407 345.8,405.5 L345.8,398 Q345.8,396.5 344.5,396.5 Z"/>
<path d="M354.8,390.5 L375.8,390.5 L375.8,397.2 L369,397.2 L369,413 L361.5,413 L361.5,397.2 L354.8,397.2 Z"/>
<path fill-rule="evenodd" d="M382.5,390.5 L391.5,390.5 Q396,390.5 396,395 L396,408.5 Q396,413 391.5,413 L382.5,413 Q378,413 378,408.5 L378,395 Q378,390.5 382.5,390.5 Z M386.3,396.5 Q385,396.5 385,398 L385,405.5 Q385,407 386.3,407 L387.7,407 Q389,407 389,405.5 L389,398 Q389,396.5 387.7,396.5 Z"/>
<path d="M398,390.5 L405,390.5 L409,404.5 L413,390.5 L420,390.5 L413.2,413 L404.8,413 Z"/>
<path d="M424,390.5 L436,390.5 L436,395 L433,395 L433,408.5 L436,408.5 L436,413 L424,413 L424,408.5 L427,408.5 L427,395 L424,395 Z"/>
<path d="M438.5,390.5 L445,390.5 L445,399 L451.5,390.5 L458.8,390.5 L450.5,401.5 L459,413 L451.7,413 L445,404 L445,413 L438.5,413 Z"/>
<path d="M462,390.5 L474,390.5 L474,395 L471,395 L471,408.5 L474,408.5 L474,413 L462,413 L462,408.5 L465,408.5 L465,395 L462,395 Z"/>
<path d="M478,390.5 L484.3,390.5 L491.5,402 L491.5,390.5 L497.8,390.5 L497.8,413 L491.5,413 L484.3,401.5 L484.3,413 L478,413 Z"/>
<path fill-rule="evenodd" d="M506.5,390.5 L522.5,390.5 Q527,390.5 527,395 L527,408.5 Q527,413 522.5,413 L506.5,413 Q502,413 502,408.5 L502,395 Q502,390.5 506.5,390.5 Z M509.3,396.5 L527.2,396.5 L527.2,401.5 L519.8,401.5 L519.8,407.3 L509.3,407.3 Z"/>
</g>
</svg>
</body></html>
